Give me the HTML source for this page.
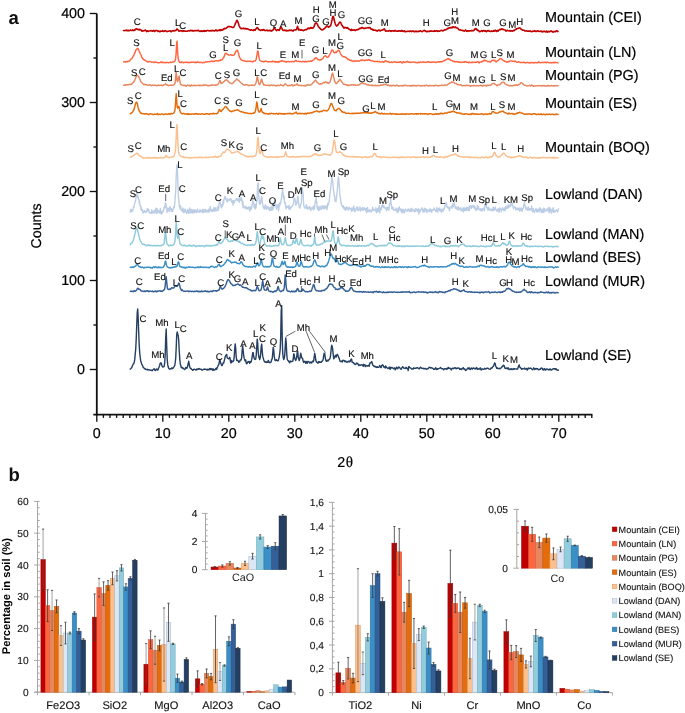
<!DOCTYPE html>
<html><head><meta charset="utf-8"><style>
html,body{margin:0;padding:0;background:#fff;}
svg{display:block;will-change:transform;}
text{text-rendering:geometricPrecision;}
</style></head><body>
<svg width="685" height="713" viewBox="0 0 685 713">
<rect width="685" height="713" fill="#fff"/>
<g stroke="#111" stroke-width="1.35" fill="none" shape-rendering="geometricPrecision">
<line x1="96.8" y1="13.50" x2="96.8" y2="415.6" stroke-width="1.8"/>
<line x1="93.3" y1="414.6" x2="592.40" y2="414.6" stroke-width="1.7"/>
<line x1="89.80" y1="369.50" x2="96.8" y2="369.50"/>
<line x1="93.40" y1="325.00" x2="96.8" y2="325.00"/>
<line x1="89.80" y1="280.50" x2="96.8" y2="280.50"/>
<line x1="93.40" y1="236.00" x2="96.8" y2="236.00"/>
<line x1="89.80" y1="191.50" x2="96.8" y2="191.50"/>
<line x1="93.40" y1="147.00" x2="96.8" y2="147.00"/>
<line x1="89.80" y1="102.50" x2="96.8" y2="102.50"/>
<line x1="93.40" y1="58.00" x2="96.8" y2="58.00"/>
<line x1="89.80" y1="13.50" x2="96.8" y2="13.50"/>
<line x1="96.80" y1="414.6" x2="96.80" y2="421.80"/>
<line x1="103.40" y1="414.6" x2="103.40" y2="417.90"/>
<line x1="110.00" y1="414.6" x2="110.00" y2="417.90"/>
<line x1="116.60" y1="414.6" x2="116.60" y2="417.90"/>
<line x1="123.20" y1="414.6" x2="123.20" y2="417.90"/>
<line x1="129.80" y1="414.6" x2="129.80" y2="417.90"/>
<line x1="136.40" y1="414.6" x2="136.40" y2="417.90"/>
<line x1="143.00" y1="414.6" x2="143.00" y2="417.90"/>
<line x1="149.60" y1="414.6" x2="149.60" y2="417.90"/>
<line x1="156.20" y1="414.6" x2="156.20" y2="417.90"/>
<line x1="162.80" y1="414.6" x2="162.80" y2="421.80"/>
<line x1="169.40" y1="414.6" x2="169.40" y2="417.90"/>
<line x1="176.00" y1="414.6" x2="176.00" y2="417.90"/>
<line x1="182.60" y1="414.6" x2="182.60" y2="417.90"/>
<line x1="189.20" y1="414.6" x2="189.20" y2="417.90"/>
<line x1="195.80" y1="414.6" x2="195.80" y2="417.90"/>
<line x1="202.40" y1="414.6" x2="202.40" y2="417.90"/>
<line x1="209.00" y1="414.6" x2="209.00" y2="417.90"/>
<line x1="215.60" y1="414.6" x2="215.60" y2="417.90"/>
<line x1="222.20" y1="414.6" x2="222.20" y2="417.90"/>
<line x1="228.80" y1="414.6" x2="228.80" y2="421.80"/>
<line x1="235.40" y1="414.6" x2="235.40" y2="417.90"/>
<line x1="242.00" y1="414.6" x2="242.00" y2="417.90"/>
<line x1="248.60" y1="414.6" x2="248.60" y2="417.90"/>
<line x1="255.20" y1="414.6" x2="255.20" y2="417.90"/>
<line x1="261.80" y1="414.6" x2="261.80" y2="417.90"/>
<line x1="268.40" y1="414.6" x2="268.40" y2="417.90"/>
<line x1="275.00" y1="414.6" x2="275.00" y2="417.90"/>
<line x1="281.60" y1="414.6" x2="281.60" y2="417.90"/>
<line x1="288.20" y1="414.6" x2="288.20" y2="417.90"/>
<line x1="294.80" y1="414.6" x2="294.80" y2="421.80"/>
<line x1="301.40" y1="414.6" x2="301.40" y2="417.90"/>
<line x1="308.00" y1="414.6" x2="308.00" y2="417.90"/>
<line x1="314.60" y1="414.6" x2="314.60" y2="417.90"/>
<line x1="321.20" y1="414.6" x2="321.20" y2="417.90"/>
<line x1="327.80" y1="414.6" x2="327.80" y2="417.90"/>
<line x1="334.40" y1="414.6" x2="334.40" y2="417.90"/>
<line x1="341.00" y1="414.6" x2="341.00" y2="417.90"/>
<line x1="347.60" y1="414.6" x2="347.60" y2="417.90"/>
<line x1="354.20" y1="414.6" x2="354.20" y2="417.90"/>
<line x1="360.80" y1="414.6" x2="360.80" y2="421.80"/>
<line x1="367.40" y1="414.6" x2="367.40" y2="417.90"/>
<line x1="374.00" y1="414.6" x2="374.00" y2="417.90"/>
<line x1="380.60" y1="414.6" x2="380.60" y2="417.90"/>
<line x1="387.20" y1="414.6" x2="387.20" y2="417.90"/>
<line x1="393.80" y1="414.6" x2="393.80" y2="417.90"/>
<line x1="400.40" y1="414.6" x2="400.40" y2="417.90"/>
<line x1="407.00" y1="414.6" x2="407.00" y2="417.90"/>
<line x1="413.60" y1="414.6" x2="413.60" y2="417.90"/>
<line x1="420.20" y1="414.6" x2="420.20" y2="417.90"/>
<line x1="426.80" y1="414.6" x2="426.80" y2="421.80"/>
<line x1="433.40" y1="414.6" x2="433.40" y2="417.90"/>
<line x1="440.00" y1="414.6" x2="440.00" y2="417.90"/>
<line x1="446.60" y1="414.6" x2="446.60" y2="417.90"/>
<line x1="453.20" y1="414.6" x2="453.20" y2="417.90"/>
<line x1="459.80" y1="414.6" x2="459.80" y2="417.90"/>
<line x1="466.40" y1="414.6" x2="466.40" y2="417.90"/>
<line x1="473.00" y1="414.6" x2="473.00" y2="417.90"/>
<line x1="479.60" y1="414.6" x2="479.60" y2="417.90"/>
<line x1="486.20" y1="414.6" x2="486.20" y2="417.90"/>
<line x1="492.80" y1="414.6" x2="492.80" y2="421.80"/>
<line x1="499.40" y1="414.6" x2="499.40" y2="417.90"/>
<line x1="506.00" y1="414.6" x2="506.00" y2="417.90"/>
<line x1="512.60" y1="414.6" x2="512.60" y2="417.90"/>
<line x1="519.20" y1="414.6" x2="519.20" y2="417.90"/>
<line x1="525.80" y1="414.6" x2="525.80" y2="417.90"/>
<line x1="532.40" y1="414.6" x2="532.40" y2="417.90"/>
<line x1="539.00" y1="414.6" x2="539.00" y2="417.90"/>
<line x1="545.60" y1="414.6" x2="545.60" y2="417.90"/>
<line x1="552.20" y1="414.6" x2="552.20" y2="417.90"/>
<line x1="558.80" y1="414.6" x2="558.80" y2="421.80"/>
<line x1="565.40" y1="414.6" x2="565.40" y2="417.90"/>
<line x1="572.00" y1="414.6" x2="572.00" y2="417.90"/>
<line x1="578.60" y1="414.6" x2="578.60" y2="417.90"/>
<line x1="585.20" y1="414.6" x2="585.20" y2="417.90"/>
<line x1="591.80" y1="414.6" x2="591.80" y2="417.90"/>
</g>
<g font-family="'Liberation Sans', sans-serif" font-size="14.3" fill="#000" stroke="#000" stroke-width="0.2">
<text x="85" y="374.40" text-anchor="end">0</text>
<text x="85" y="285.40" text-anchor="end">100</text>
<text x="85" y="196.40" text-anchor="end">200</text>
<text x="85" y="107.40" text-anchor="end">300</text>
<text x="85" y="18.40" text-anchor="end">400</text>
<text x="96.80" y="438.4" text-anchor="middle">0</text>
<text x="162.80" y="438.4" text-anchor="middle">10</text>
<text x="228.80" y="438.4" text-anchor="middle">20</text>
<text x="294.80" y="438.4" text-anchor="middle">30</text>
<text x="360.80" y="438.4" text-anchor="middle">40</text>
<text x="426.80" y="438.4" text-anchor="middle">50</text>
<text x="492.80" y="438.4" text-anchor="middle">60</text>
<text x="558.80" y="438.4" text-anchor="middle">70</text>
</g>
<text x="0" y="0" font-family="'Liberation Sans', sans-serif" font-size="14.2" fill="#000" stroke="#000" stroke-width="0.2" text-anchor="middle" transform="translate(41.4 226) rotate(-90)">Counts</text>
<text x="337.3" y="467" font-size="14.3" fill="#000" stroke="#000" stroke-width="0.2"><tspan font-family="'Liberation Sans', sans-serif">2</tspan><tspan font-family="'Liberation Serif', serif" font-size="15.2" dx="0.4">θ</tspan></text>
<text x="8.6" y="24" font-family="'Liberation Sans', sans-serif" font-weight="bold" font-size="18.5" fill="#111">a</text>
<text x="8.6" y="481" font-family="'Liberation Sans', sans-serif" font-weight="bold" font-size="18.5" fill="#111">b</text>
<polyline fill="none" stroke="#c00000" stroke-width="1.6" stroke-linejoin="round" points="123.1,31.04 123.6,30.52 124.1,30.56 124.6,30.63 125.1,30.33 125.6,30.50 126.1,30.44 126.6,30.07 127.1,30.80 127.6,30.77 128.1,30.38 128.6,30.48 129.1,30.67 129.6,30.46 130.1,30.32 130.6,30.05 131.1,30.54 131.6,30.51 132.1,30.35 132.6,29.94 133.1,30.63 133.6,30.23 134.1,30.00 134.6,30.44 135.1,29.70 135.6,29.04 136.1,29.02 136.6,28.64 137.1,29.45 137.6,29.25 138.1,29.29 138.6,29.81 139.1,29.38 139.6,29.87 140.1,29.45 140.6,29.81 141.1,30.02 141.6,30.94 142.1,31.15 142.6,30.65 143.1,30.86 143.6,30.71 144.1,30.82 144.6,30.42 145.1,30.04 145.6,30.12 146.1,30.94 146.6,31.56 147.1,31.02 147.6,30.82 148.1,31.43 148.6,31.07 149.1,30.94 149.6,30.96 150.1,30.85 150.6,30.70 151.1,30.48 151.6,30.98 152.1,31.02 152.6,31.29 153.1,30.79 153.6,30.33 154.1,30.92 154.6,31.48 155.1,30.92 155.6,30.61 156.1,30.49 156.6,30.58 157.1,30.77 157.6,30.73 158.1,31.40 158.6,31.06 159.1,31.16 159.6,31.61 160.1,31.61 160.6,31.11 161.1,31.19 161.6,31.29 162.1,30.92 162.6,30.52 163.1,31.20 163.6,31.40 164.1,31.18 164.6,30.77 165.1,30.88 165.6,30.82 166.1,30.99 166.6,31.53 167.1,31.65 167.6,31.38 168.1,31.29 168.6,31.28 169.1,31.06 169.6,30.95 170.1,30.79 170.6,31.10 171.1,31.77 171.6,31.40 172.1,30.91 172.6,30.74 173.1,30.68 173.6,31.02 174.1,30.95 174.6,30.45 175.1,30.76 175.6,30.45 176.1,30.35 176.6,29.24 177.1,29.06 177.6,29.33 178.1,30.10 178.6,30.76 179.1,31.17 179.6,31.02 180.1,30.56 180.6,30.90 181.1,30.93 181.6,30.77 182.1,30.84 182.6,31.44 183.1,30.90 183.6,30.72 184.1,31.12 184.6,31.05 185.1,31.01 185.6,31.25 186.1,31.20 186.6,31.18 187.1,31.32 187.6,31.08 188.1,30.77 188.6,30.77 189.1,30.79 189.6,30.92 190.1,30.51 190.6,30.31 191.1,30.77 191.6,30.41 192.1,30.27 192.6,30.89 193.1,30.78 193.6,31.02 194.1,30.73 194.6,30.47 195.1,30.44 195.6,30.67 196.1,30.76 196.6,30.63 197.1,30.68 197.6,30.42 198.1,30.70 198.6,30.34 199.1,30.78 199.6,31.19 200.1,31.41 200.6,31.41 201.1,30.57 201.6,31.11 202.1,31.38 202.6,31.21 203.1,30.67 203.6,31.06 204.1,31.37 204.6,30.54 205.1,30.97 205.6,31.17 206.1,30.72 206.6,30.89 207.1,30.46 207.6,30.42 208.1,30.50 208.6,30.79 209.1,30.83 209.6,31.00 210.1,30.52 210.6,30.70 211.1,31.06 211.6,30.87 212.1,30.37 212.6,30.78 213.1,30.60 213.6,30.77 214.1,30.85 214.6,31.04 215.1,30.60 215.6,29.92 216.1,30.06 216.6,30.66 217.1,30.56 217.6,30.84 218.1,30.56 218.6,30.27 219.1,30.60 219.6,30.00 220.1,29.69 220.6,30.57 221.1,29.68 221.6,30.14 222.1,30.24 222.6,29.75 223.1,29.14 223.6,29.51 224.1,28.71 224.6,28.40 225.1,28.52 225.6,28.62 226.1,28.26 226.6,27.97 227.1,27.30 227.6,26.94 228.1,26.46 228.6,26.54 229.1,26.74 229.6,26.58 230.1,26.79 230.6,26.66 231.1,26.80 231.6,27.15 232.1,27.29 232.6,27.53 233.1,27.46 233.6,27.52 234.1,26.49 234.6,25.50 235.1,24.22 235.6,23.19 236.1,21.95 236.6,20.50 237.1,20.41 237.6,21.38 238.1,22.53 238.6,23.98 239.1,25.75 239.6,26.70 240.1,27.59 240.6,28.41 241.1,28.70 241.6,28.41 242.1,28.40 242.6,28.63 243.1,28.41 243.6,28.00 244.1,28.76 244.6,28.62 245.1,28.67 245.6,28.36 246.1,29.01 246.6,28.78 247.1,28.88 247.6,28.76 248.1,29.22 248.6,29.44 249.1,29.62 249.6,29.90 250.1,29.98 250.6,30.22 251.1,29.85 251.6,29.70 252.1,30.05 252.6,30.38 253.1,30.59 253.6,30.31 254.1,29.57 254.6,30.06 255.1,30.28 255.6,29.54 256.1,28.78 256.6,28.21 257.1,27.47 257.6,27.83 258.1,28.49 258.6,29.55 259.1,29.80 259.6,29.75 260.1,30.28 260.6,30.47 261.1,30.09 261.6,29.96 262.1,29.63 262.6,30.44 263.1,30.10 263.6,29.56 264.1,29.69 264.6,30.28 265.1,30.65 265.6,30.49 266.1,30.51 266.6,30.05 267.1,30.02 267.6,30.69 268.1,30.68 268.6,30.58 269.1,30.80 269.6,30.22 270.1,30.33 270.6,30.86 271.1,31.07 271.6,30.62 272.1,30.81 272.6,30.15 273.1,29.96 273.6,29.08 274.1,27.58 274.6,27.58 275.1,28.86 275.6,29.56 276.1,30.10 276.6,30.58 277.1,29.90 277.6,29.72 278.1,29.91 278.6,29.90 279.1,30.43 279.6,29.79 280.1,28.38 280.6,26.96 281.1,27.08 281.6,27.69 282.1,28.93 282.6,30.01 283.1,30.46 283.6,30.41 284.1,30.09 284.6,30.10 285.1,30.63 285.6,30.46 286.1,30.13 286.6,30.89 287.1,30.90 287.6,30.56 288.1,30.52 288.6,30.62 289.1,30.32 289.6,30.16 290.1,30.52 290.6,30.20 291.1,30.53 291.6,30.16 292.1,30.45 292.6,30.65 293.1,31.04 293.6,30.22 294.1,29.93 294.6,30.06 295.1,29.90 295.6,29.92 296.1,29.87 296.6,29.10 297.1,27.56 297.6,26.32 298.1,28.65 298.6,29.97 299.1,29.81 299.6,29.44 300.1,30.13 300.6,30.22 301.1,29.67 301.6,30.25 302.1,30.27 302.6,30.14 303.1,30.54 303.6,30.61 304.1,30.15 304.6,30.14 305.1,29.80 305.6,29.63 306.1,29.76 306.6,29.70 307.1,29.05 307.6,28.40 308.1,28.75 308.6,28.09 309.1,28.34 309.6,28.66 310.1,28.02 310.6,27.49 311.1,27.53 311.6,28.30 312.1,28.13 312.6,28.13 313.1,27.96 313.6,27.22 314.1,26.38 314.6,25.17 315.1,23.59 315.6,23.12 316.1,23.06 316.6,23.13 317.1,23.85 317.6,24.71 318.1,25.87 318.6,26.96 319.1,27.34 319.6,27.97 320.1,28.24 320.6,29.22 321.1,29.35 321.6,29.62 322.1,30.01 322.6,29.84 323.1,29.42 323.6,29.29 324.1,28.51 324.6,28.55 325.1,27.96 325.6,26.97 326.1,27.00 326.6,26.12 327.1,26.13 327.6,26.11 328.1,26.87 328.6,27.27 329.1,26.75 329.6,26.38 330.1,26.37 330.6,25.74 331.1,23.94 331.6,21.87 332.1,19.67 332.6,16.80 333.1,16.31 333.6,17.15 334.1,19.55 334.6,21.53 335.1,23.28 335.6,24.77 336.1,25.37 336.6,26.00 337.1,25.77 337.6,25.31 338.1,24.56 338.6,24.04 339.1,22.92 339.6,22.36 340.1,22.15 340.6,22.31 341.1,23.55 341.6,24.64 342.1,25.56 342.6,26.15 343.1,26.77 343.6,27.62 344.1,28.12 344.6,27.40 345.1,27.53 345.6,27.41 346.1,27.78 346.6,28.02 347.1,28.26 347.6,27.61 348.1,28.38 348.6,28.80 349.1,29.28 349.6,29.38 350.1,29.63 350.6,30.26 351.1,30.52 351.6,29.35 352.1,29.92 352.6,30.29 353.1,30.23 353.6,30.04 354.1,29.71 354.6,29.86 355.1,30.40 355.6,30.50 356.1,30.07 356.6,29.67 357.1,29.76 357.6,29.61 358.1,29.62 358.6,29.28 359.1,28.83 359.6,28.69 360.1,28.18 360.6,28.49 361.1,28.36 361.6,27.60 362.1,27.78 362.6,27.60 363.1,28.23 363.6,28.37 364.1,28.22 364.6,28.54 365.1,28.23 365.6,28.08 366.1,28.06 366.6,28.07 367.1,27.92 367.6,27.82 368.1,27.54 368.6,27.86 369.1,27.96 369.6,27.59 370.1,27.61 370.6,28.59 371.1,29.13 371.6,29.01 372.1,28.98 372.6,29.75 373.1,30.25 373.6,29.61 374.1,30.22 374.6,30.22 375.1,30.18 375.6,30.53 376.1,30.23 376.6,30.73 377.1,31.12 377.6,30.79 378.1,30.34 378.6,30.04 379.1,30.12 379.6,30.21 380.1,31.14 380.6,30.73 381.1,30.31 381.6,30.14 382.1,30.13 382.6,30.05 383.1,29.54 383.6,29.63 384.1,28.84 384.6,29.23 385.1,30.25 385.6,31.07 386.1,31.20 386.6,30.77 387.1,30.94 387.6,31.02 388.1,31.14 388.6,31.02 389.1,30.62 389.6,30.55 390.1,30.90 390.6,30.75 391.1,31.38 391.6,31.07 392.1,30.70 392.6,30.84 393.1,30.86 393.6,31.05 394.1,31.25 394.6,30.55 395.1,30.41 395.6,31.05 396.1,31.06 396.6,31.15 397.1,31.23 397.6,31.12 398.1,31.27 398.6,30.88 399.1,31.01 399.6,30.77 400.1,30.74 400.6,31.27 401.1,31.20 401.6,30.46 402.1,30.65 402.6,31.21 403.1,31.43 403.6,30.97 404.1,30.92 404.6,30.84 405.1,31.85 405.6,31.51 406.1,31.49 406.6,31.46 407.1,31.51 407.6,31.37 408.1,31.12 408.6,31.35 409.1,31.30 409.6,31.50 410.1,30.96 410.6,30.96 411.1,31.40 411.6,31.60 412.1,31.23 412.6,30.92 413.1,31.03 413.6,31.11 414.1,31.77 414.6,31.64 415.1,31.63 415.6,31.29 416.1,31.07 416.6,31.59 417.1,31.79 417.6,31.44 418.1,31.25 418.6,31.46 419.1,31.16 419.6,31.32 420.1,30.91 420.6,30.83 421.1,31.28 421.6,31.42 422.1,31.75 422.6,31.19 423.1,31.06 423.6,30.66 424.1,30.36 424.6,30.49 425.1,31.09 425.6,30.88 426.1,31.51 426.6,31.64 427.1,31.25 427.6,31.65 428.1,31.39 428.6,31.48 429.1,31.19 429.6,31.34 430.1,30.93 430.6,31.21 431.1,31.00 431.6,31.07 432.1,31.30 432.6,31.18 433.1,31.12 433.6,31.36 434.1,31.28 434.6,30.72 435.1,31.18 435.6,31.24 436.1,30.87 436.6,31.00 437.1,30.71 437.6,31.34 438.1,30.99 438.6,31.00 439.1,31.30 439.6,30.98 440.1,30.99 440.6,30.51 441.1,30.46 441.6,30.26 442.1,30.60 442.6,30.94 443.1,30.73 443.6,30.64 444.1,29.97 444.6,29.75 445.1,29.78 445.6,29.90 446.1,29.63 446.6,29.27 447.1,29.09 447.6,28.58 448.1,28.34 448.6,28.35 449.1,27.65 449.6,27.70 450.1,28.01 450.6,27.63 451.1,27.63 451.6,27.42 452.1,27.83 452.6,26.70 453.1,26.70 453.6,26.89 454.1,27.60 454.6,27.34 455.1,27.08 455.6,27.02 456.1,27.73 456.6,28.04 457.1,28.07 457.6,28.15 458.1,28.65 458.6,29.40 459.1,29.77 459.6,29.93 460.1,29.93 460.6,29.70 461.1,30.23 461.6,30.20 462.1,30.58 462.6,30.79 463.1,30.50 463.6,30.50 464.1,31.11 464.6,31.01 465.1,30.53 465.6,29.94 466.1,30.78 466.6,31.24 467.1,31.33 467.6,30.81 468.1,30.72 468.6,30.88 469.1,31.16 469.6,30.69 470.1,30.82 470.6,30.71 471.1,30.88 471.6,30.49 472.1,30.86 472.6,30.64 473.1,30.57 473.6,30.62 474.1,30.30 474.6,29.13 475.1,29.18 475.6,28.76 476.1,28.64 476.6,29.51 477.1,29.89 477.6,30.52 478.1,30.34 478.6,30.50 479.1,31.34 479.6,31.77 480.1,31.43 480.6,31.35 481.1,30.91 481.6,30.65 482.1,31.07 482.6,31.48 483.1,30.64 483.6,30.76 484.1,30.55 484.6,31.14 485.1,31.38 485.6,30.83 486.1,31.07 486.6,31.58 487.1,31.17 487.6,30.71 488.1,30.56 488.6,30.52 489.1,31.25 489.6,31.07 490.1,31.52 490.6,31.48 491.1,30.98 491.6,31.00 492.1,31.37 492.6,31.26 493.1,31.11 493.6,30.67 494.1,31.20 494.6,30.69 495.1,30.21 495.6,30.66 496.1,31.15 496.6,31.51 497.1,30.68 497.6,30.33 498.1,31.08 498.6,30.49 499.1,29.96 499.6,29.45 500.1,29.34 500.6,29.77 501.1,29.16 501.6,28.82 502.1,28.91 502.6,29.50 503.1,29.21 503.6,29.64 504.1,29.85 504.6,29.98 505.1,29.94 505.6,30.60 506.1,31.05 506.6,30.66 507.1,30.34 507.6,30.34 508.1,30.81 508.6,30.81 509.1,30.87 509.6,30.83 510.1,30.52 510.6,31.09 511.1,31.03 511.6,30.89 512.1,30.98 512.6,31.10 513.1,30.73 513.6,30.42 514.1,30.76 514.6,30.20 515.1,29.73 515.6,29.30 516.1,29.36 516.6,28.83 517.1,28.62 517.6,28.57 518.1,28.26 518.6,28.29 519.1,28.04 519.6,27.90 520.1,28.12 520.6,28.49 521.1,29.18 521.6,29.40 522.1,29.64 522.6,30.25 523.1,30.31 523.6,30.22 524.1,30.15 524.6,30.81 525.1,30.97 525.6,30.95 526.1,30.82 526.6,30.75 527.1,30.99 527.6,31.19 528.1,31.13 528.6,31.10 529.1,31.08 529.6,31.32 530.1,31.29 530.6,31.09 531.1,31.52 531.6,31.64 532.1,31.60 532.6,31.31 533.1,31.17 533.6,31.00 534.1,31.35 534.6,30.69 535.1,31.06 535.6,31.28 536.1,31.60 536.6,31.36 537.1,30.97 537.6,30.81 538.1,31.06 538.6,31.37 539.1,31.40 539.6,31.29 540.1,31.15 540.6,31.35 541.1,31.63 541.6,31.13 542.1,31.45 542.6,31.96 543.1,31.67 543.6,31.35 544.1,31.54 544.6,31.23 545.1,31.48 545.6,32.04 546.1,32.01 546.6,31.07 547.1,31.67 547.6,32.06 548.1,31.41 548.6,31.58 549.1,31.90 549.6,31.42 550.1,31.55 550.6,31.33 551.1,30.86 551.6,31.42 552.1,31.48 552.6,31.87 553.1,32.22 553.6,31.79 554.1,31.42 554.6,31.59 555.1,31.62 555.6,31.70 556.1,31.00 556.6,30.86 557.1,30.78 557.6,31.52 558.1,31.46 558.6,31.27"/>
<polyline fill="none" stroke="#ff6640" stroke-width="1.45" stroke-linejoin="round" points="123.1,61.91 123.6,61.84 124.1,61.74 124.6,61.81 125.1,61.83 125.6,62.16 126.1,61.85 126.6,61.43 127.1,61.42 127.6,61.70 128.1,61.45 128.6,61.22 129.1,61.15 129.6,60.97 130.1,60.04 130.6,59.58 131.1,59.01 131.6,58.91 132.1,58.15 132.6,57.27 133.1,56.43 133.6,55.75 134.1,54.50 134.6,53.28 135.1,52.36 135.6,50.69 136.1,49.65 136.6,49.60 137.1,48.60 137.6,48.34 138.1,48.71 138.6,49.65 139.1,50.93 139.6,52.13 140.1,53.25 140.6,54.16 141.1,55.02 141.6,56.47 142.1,57.74 142.6,58.41 143.1,58.80 143.6,59.48 144.1,59.73 144.6,60.08 145.1,60.18 145.6,60.63 146.1,61.00 146.6,61.17 147.1,61.60 147.6,62.02 148.1,61.96 148.6,61.60 149.1,61.50 149.6,61.55 150.1,61.59 150.6,61.89 151.1,62.08 151.6,62.08 152.1,62.11 152.6,62.12 153.1,62.05 153.6,62.05 154.1,62.61 154.6,62.49 155.1,62.00 155.6,61.94 156.1,62.07 156.6,62.32 157.1,62.65 157.6,62.67 158.1,62.69 158.6,62.71 159.1,62.70 159.6,62.61 160.1,62.50 160.6,62.27 161.1,61.93 161.6,62.35 162.1,62.79 162.6,62.32 163.1,62.26 163.6,62.61 164.1,62.44 164.6,62.37 165.1,62.79 165.6,62.67 166.1,62.59 166.6,62.32 167.1,62.50 167.6,62.55 168.1,62.65 168.6,62.75 169.1,62.71 169.6,62.48 170.1,62.45 170.6,62.09 171.1,62.41 171.6,62.42 172.1,62.09 172.6,61.90 173.1,61.90 173.6,61.59 174.1,61.68 174.6,61.31 175.1,60.34 175.6,58.77 176.1,53.80 176.6,43.22 177.1,41.16 177.6,51.71 178.1,57.98 178.6,60.24 179.1,61.41 179.6,62.26 180.1,62.38 180.6,62.52 181.1,62.42 181.6,61.83 182.1,62.06 182.6,62.21 183.1,62.66 183.6,62.76 184.1,62.26 184.6,62.35 185.1,62.47 185.6,62.24 186.1,62.16 186.6,62.23 187.1,62.52 187.6,62.27 188.1,62.62 188.6,62.51 189.1,62.66 189.6,62.77 190.1,62.27 190.6,62.18 191.1,62.40 191.6,62.12 192.1,62.15 192.6,62.32 193.1,62.35 193.6,62.06 194.1,62.24 194.6,62.56 195.1,62.62 195.6,62.02 196.1,62.62 196.6,62.58 197.1,62.05 197.6,61.94 198.1,62.33 198.6,62.25 199.1,62.37 199.6,62.51 200.1,62.26 200.6,62.33 201.1,62.45 201.6,62.60 202.1,62.81 202.6,62.75 203.1,62.35 203.6,62.28 204.1,62.78 204.6,62.47 205.1,62.22 205.6,61.92 206.1,62.19 206.6,61.90 207.1,61.82 207.6,61.63 208.1,61.78 208.6,61.85 209.1,61.49 209.6,61.55 210.1,61.67 210.6,61.37 211.1,61.27 211.6,61.28 212.1,61.20 212.6,61.51 213.1,61.24 213.6,61.52 214.1,61.46 214.6,60.95 215.1,61.04 215.6,60.88 216.1,60.67 216.6,60.78 217.1,60.84 217.6,61.03 218.1,60.99 218.6,60.45 219.1,60.48 219.6,60.67 220.1,60.56 220.6,59.75 221.1,60.19 221.6,59.86 222.1,59.75 222.6,58.86 223.1,58.08 223.6,57.50 224.1,56.74 224.6,55.25 225.1,53.70 225.6,53.56 226.1,53.18 226.6,53.64 227.1,54.11 227.6,54.38 228.1,54.76 228.6,54.97 229.1,55.08 229.6,55.15 230.1,54.95 230.6,54.65 231.1,54.92 231.6,55.27 232.1,55.30 232.6,55.14 233.1,55.20 233.6,55.18 234.1,55.02 234.6,54.46 235.1,53.13 235.6,52.01 236.1,51.24 236.6,50.45 237.1,50.22 237.6,50.40 238.1,52.24 238.6,53.60 239.1,55.97 239.6,57.30 240.1,58.23 240.6,58.98 241.1,59.77 241.6,59.91 242.1,60.42 242.6,60.59 243.1,60.71 243.6,60.86 244.1,60.84 244.6,60.73 245.1,61.20 245.6,61.33 246.1,61.23 246.6,61.47 247.1,61.49 247.6,61.07 248.1,61.25 248.6,61.24 249.1,61.20 249.6,61.43 250.1,61.24 250.6,61.33 251.1,61.52 251.6,61.57 252.1,61.65 252.6,61.95 253.1,61.37 253.6,61.26 254.1,60.93 254.6,61.15 255.1,61.14 255.6,60.60 256.1,59.15 256.6,57.21 257.1,54.29 257.6,50.89 258.1,51.45 258.6,54.63 259.1,58.13 259.6,59.92 260.1,60.59 260.6,60.73 261.1,61.08 261.6,61.35 262.1,61.49 262.6,61.48 263.1,61.51 263.6,61.71 264.1,61.89 264.6,61.18 265.1,61.17 265.6,61.22 266.1,61.38 266.6,61.30 267.1,61.79 267.6,61.79 268.1,61.67 268.6,61.59 269.1,61.78 269.6,61.84 270.1,61.83 270.6,61.65 271.1,61.82 271.6,61.52 272.1,61.85 272.6,61.06 273.1,61.41 273.6,61.49 274.1,61.83 274.6,61.54 275.1,62.06 275.6,61.59 276.1,62.20 276.6,61.97 277.1,61.80 277.6,61.96 278.1,62.33 278.6,61.93 279.1,61.25 279.6,61.84 280.1,61.61 280.6,61.08 281.1,61.21 281.6,60.59 282.1,60.70 282.6,60.99 283.1,61.16 283.6,61.54 284.1,61.37 284.6,61.59 285.1,61.51 285.6,61.69 286.1,62.13 286.6,61.74 287.1,61.40 287.6,61.54 288.1,61.47 288.6,61.63 289.1,61.70 289.6,61.68 290.1,61.64 290.6,61.53 291.1,61.76 291.6,61.86 292.1,61.50 292.6,61.54 293.1,61.64 293.6,61.89 294.1,61.75 294.6,61.21 295.1,61.01 295.6,60.41 296.1,60.39 296.6,60.90 297.1,61.38 297.6,61.59 298.1,61.32 298.6,61.13 299.1,61.48 299.6,61.47 300.1,61.57 300.6,61.57 301.1,61.69 301.6,61.71 302.1,61.68 302.6,61.44 303.1,61.64 303.6,61.38 304.1,61.52 304.6,61.90 305.1,61.53 305.6,61.21 306.1,61.73 306.6,61.74 307.1,61.68 307.6,61.44 308.1,61.37 308.6,61.18 309.1,61.11 309.6,61.49 310.1,61.08 310.6,60.89 311.1,60.92 311.6,61.30 312.1,60.95 312.6,60.38 313.1,60.12 313.6,59.91 314.1,59.44 314.6,58.48 315.1,58.43 315.6,57.93 316.1,57.71 316.6,58.03 317.1,58.77 317.6,59.41 318.1,59.47 318.6,59.72 319.1,59.68 319.6,60.07 320.1,60.14 320.6,59.60 321.1,59.66 321.6,59.67 322.1,58.85 322.6,58.64 323.1,58.22 323.6,57.06 324.1,56.52 324.6,56.11 325.1,55.93 325.6,55.67 326.1,56.45 326.6,56.81 327.1,57.27 327.6,57.37 328.1,57.08 328.6,56.64 329.1,55.57 329.6,54.76 330.1,53.83 330.6,52.81 331.1,51.72 331.6,50.21 332.1,50.06 332.6,50.19 333.1,50.82 333.6,52.04 334.1,52.36 334.6,52.88 335.1,52.83 335.6,52.20 336.1,51.89 336.6,52.36 337.1,51.49 337.6,50.75 338.1,50.64 338.6,50.33 339.1,50.41 339.6,51.31 340.1,52.56 340.6,53.72 341.1,54.80 341.6,55.32 342.1,55.86 342.6,56.44 343.1,56.67 343.6,56.90 344.1,56.71 344.6,56.75 345.1,56.84 345.6,57.58 346.1,57.48 346.6,58.09 347.1,58.40 347.6,59.07 348.1,59.47 348.6,59.30 349.1,59.72 349.6,59.81 350.1,60.60 350.6,60.41 351.1,60.20 351.6,60.57 352.1,61.20 352.6,61.40 353.1,61.30 353.6,60.87 354.1,61.04 354.6,61.41 355.1,60.95 355.6,60.89 356.1,60.74 356.6,60.76 357.1,61.26 357.6,61.18 358.1,61.05 358.6,61.01 359.1,61.06 359.6,61.01 360.1,60.54 360.6,60.24 361.1,60.07 361.6,60.41 362.1,60.05 362.6,59.81 363.1,60.12 363.6,60.36 364.1,60.64 364.6,60.68 365.1,60.28 365.6,60.19 366.1,60.22 366.6,60.01 367.1,60.17 367.6,60.24 368.1,59.99 368.6,59.54 369.1,59.70 369.6,60.30 370.1,60.11 370.6,60.60 371.1,60.81 371.6,60.73 372.1,60.75 372.6,61.10 373.1,61.07 373.6,61.31 374.1,61.46 374.6,61.37 375.1,61.50 375.6,61.50 376.1,61.36 376.6,61.58 377.1,61.49 377.6,61.28 378.1,61.60 378.6,61.69 379.1,61.55 379.6,61.34 380.1,61.97 380.6,62.10 381.1,62.08 381.6,61.92 382.1,61.59 382.6,61.78 383.1,61.75 383.6,62.29 384.1,61.80 384.6,61.70 385.1,61.01 385.6,60.72 386.1,60.85 386.6,61.43 387.1,61.74 387.6,61.75 388.1,61.48 388.6,62.05 389.1,61.86 389.6,62.41 390.1,62.57 390.6,62.35 391.1,62.22 391.6,61.89 392.1,62.60 392.6,62.27 393.1,62.25 393.6,61.88 394.1,61.92 394.6,61.74 395.1,61.93 395.6,62.06 396.1,62.20 396.6,62.45 397.1,62.28 397.6,62.16 398.1,62.21 398.6,62.55 399.1,62.11 399.6,62.25 400.1,61.63 400.6,61.80 401.1,62.15 401.6,62.24 402.1,62.97 402.6,62.82 403.1,61.82 403.6,61.76 404.1,62.12 404.6,62.60 405.1,62.51 405.6,62.19 406.1,61.75 406.6,61.71 407.1,61.35 407.6,61.64 408.1,62.20 408.6,62.29 409.1,61.87 409.6,62.19 410.1,62.56 410.6,62.26 411.1,62.11 411.6,62.31 412.1,62.32 412.6,62.17 413.1,62.01 413.6,62.03 414.1,62.13 414.6,62.10 415.1,62.51 415.6,62.51 416.1,62.58 416.6,62.80 417.1,62.74 417.6,62.62 418.1,62.32 418.6,62.26 419.1,62.69 419.6,62.10 420.1,61.94 420.6,61.94 421.1,62.20 421.6,62.34 422.1,62.44 422.6,62.08 423.1,61.76 423.6,62.22 424.1,62.43 424.6,62.23 425.1,62.18 425.6,62.38 426.1,62.55 426.6,62.16 427.1,61.79 427.6,61.95 428.1,62.01 428.6,61.76 429.1,62.22 429.6,62.05 430.1,62.26 430.6,62.22 431.1,62.18 431.6,62.51 432.1,62.06 432.6,61.97 433.1,62.22 433.6,62.36 434.1,62.12 434.6,61.92 435.1,62.26 435.6,62.40 436.1,62.62 436.6,62.14 437.1,62.08 437.6,61.84 438.1,61.64 438.6,61.99 439.1,62.14 439.6,61.70 440.1,61.62 440.6,61.60 441.1,62.02 441.6,61.66 442.1,61.68 442.6,61.32 443.1,61.29 443.6,60.91 444.1,60.38 444.6,60.67 445.1,60.50 445.6,59.70 446.1,59.71 446.6,59.41 447.1,59.02 447.6,58.89 448.1,58.53 448.6,59.04 449.1,59.39 449.6,59.12 450.1,59.65 450.6,60.31 451.1,60.34 451.6,60.39 452.1,60.57 452.6,61.03 453.1,61.26 453.6,61.48 454.1,61.27 454.6,61.83 455.1,61.76 455.6,61.94 456.1,61.69 456.6,61.57 457.1,61.74 457.6,61.75 458.1,61.96 458.6,62.28 459.1,62.42 459.6,62.21 460.1,62.00 460.6,62.05 461.1,62.35 461.6,62.48 462.1,62.17 462.6,62.12 463.1,62.03 463.6,62.28 464.1,62.32 464.6,61.59 465.1,62.12 465.6,62.00 466.1,61.67 466.6,62.20 467.1,62.27 467.6,62.27 468.1,62.06 468.6,62.72 469.1,62.39 469.6,62.27 470.1,62.66 470.6,62.55 471.1,62.57 471.6,62.49 472.1,61.91 472.6,62.54 473.1,62.28 473.6,62.35 474.1,62.45 474.6,62.13 475.1,62.32 475.6,62.43 476.1,62.27 476.6,62.24 477.1,61.76 477.6,61.73 478.1,61.81 478.6,62.33 479.1,63.01 479.6,62.25 480.1,61.90 480.6,61.86 481.1,62.00 481.6,61.76 482.1,61.25 482.6,61.46 483.1,61.18 483.6,61.02 484.1,60.26 484.6,60.26 485.1,60.68 485.6,60.39 486.1,60.92 486.6,61.16 487.1,61.27 487.6,61.44 488.1,61.54 488.6,61.61 489.1,61.46 489.6,61.64 490.1,62.21 490.6,61.75 491.1,61.30 491.6,60.88 492.1,60.35 492.6,60.28 493.1,60.20 493.6,60.50 494.1,60.28 494.6,60.19 495.1,60.85 495.6,61.50 496.1,62.00 496.6,61.62 497.1,60.98 497.6,60.83 498.1,60.43 498.6,60.14 499.1,59.48 499.6,58.84 500.1,58.81 500.6,58.52 501.1,58.42 501.6,58.90 502.1,59.72 502.6,59.86 503.1,60.23 503.6,60.82 504.1,60.75 504.6,61.40 505.1,61.34 505.6,61.43 506.1,61.82 506.6,62.17 507.1,61.75 507.6,61.99 508.1,61.80 508.6,61.39 509.1,61.67 509.6,61.22 510.1,60.87 510.6,60.88 511.1,60.89 511.6,61.08 512.1,60.93 512.6,61.40 513.1,61.27 513.6,61.12 514.1,61.25 514.6,61.54 515.1,61.18 515.6,61.22 516.1,61.71 516.6,62.22 517.1,62.25 517.6,62.23 518.1,62.11 518.6,61.75 519.1,62.05 519.6,61.96 520.1,62.50 520.6,62.44 521.1,62.42 521.6,62.54 522.1,62.56 522.6,62.55 523.1,62.53 523.6,62.28 524.1,62.14 524.6,62.58 525.1,62.92 525.6,62.81 526.1,62.54 526.6,62.63 527.1,62.46 527.6,62.56 528.1,62.40 528.6,62.64 529.1,63.07 529.6,62.91 530.1,62.91 530.6,62.40 531.1,62.34 531.6,62.54 532.1,62.68 532.6,62.59 533.1,62.77 533.6,62.56 534.1,62.92 534.6,62.82 535.1,62.38 535.6,62.65 536.1,62.61 536.6,62.79 537.1,62.52 537.6,62.67 538.1,62.60 538.6,61.85 539.1,62.00 539.6,62.53 540.1,62.63 540.6,62.86 541.1,62.65 541.6,62.33 542.1,62.59 542.6,62.43 543.1,62.49 543.6,62.50 544.1,62.60 544.6,62.23 545.1,62.16 545.6,62.13 546.1,62.98 546.6,62.45 547.1,62.31 547.6,62.27 548.1,62.39 548.6,62.53 549.1,62.78 549.6,62.73 550.1,62.70 550.6,62.51 551.1,62.66 551.6,62.94 552.1,62.73 552.6,62.62 553.1,62.20 553.6,62.69 554.1,62.82 554.6,62.85 555.1,62.06 555.6,62.52 556.1,62.64 556.6,62.65 557.1,62.53 557.6,62.72 558.1,62.86 558.6,62.72"/>
<polyline fill="none" stroke="#e8875e" stroke-width="1.45" stroke-linejoin="round" points="123.1,85.22 123.6,85.19 124.1,85.15 124.6,85.18 125.1,84.93 125.6,84.72 126.1,85.27 126.6,84.73 127.1,84.86 127.6,84.66 128.1,84.75 128.6,84.62 129.1,84.68 129.6,84.41 130.1,84.22 130.6,84.49 131.1,84.57 131.6,84.12 132.1,83.62 132.6,82.95 133.1,82.62 133.6,82.09 134.1,81.13 134.6,80.46 135.1,79.27 135.6,78.14 136.1,76.85 136.6,75.91 137.1,75.53 137.6,75.55 138.1,75.95 138.6,76.50 139.1,77.62 139.6,78.85 140.1,79.67 140.6,81.21 141.1,82.00 141.6,82.54 142.1,82.97 142.6,83.69 143.1,83.96 143.6,84.62 144.1,84.48 144.6,84.22 145.1,84.72 145.6,84.64 146.1,84.67 146.6,84.82 147.1,84.94 147.6,85.12 148.1,85.29 148.6,85.22 149.1,84.92 149.6,84.76 150.1,84.95 150.6,85.32 151.1,85.57 151.6,85.68 152.1,85.05 152.6,85.23 153.1,85.24 153.6,85.22 154.1,85.34 154.6,85.28 155.1,85.24 155.6,85.21 156.1,85.49 156.6,85.74 157.1,85.81 157.6,85.29 158.1,85.09 158.6,85.23 159.1,85.24 159.6,85.57 160.1,85.26 160.6,85.31 161.1,85.06 161.6,85.25 162.1,85.50 162.6,85.73 163.1,85.29 163.6,85.27 164.1,84.70 164.6,84.61 165.1,84.29 165.6,83.86 166.1,84.43 166.6,84.99 167.1,84.85 167.6,85.27 168.1,85.17 168.6,85.74 169.1,85.52 169.6,85.38 170.1,85.28 170.6,85.28 171.1,85.23 171.6,85.10 172.1,85.34 172.6,85.25 173.1,85.19 173.6,84.88 174.1,84.65 174.6,83.97 175.1,83.12 175.6,78.00 176.1,72.09 176.6,75.44 177.1,80.62 177.6,81.65 178.1,80.16 178.6,77.20 179.1,75.97 179.6,79.16 180.1,82.37 180.6,84.20 181.1,84.83 181.6,84.77 182.1,85.16 182.6,85.44 183.1,85.58 183.6,85.25 184.1,85.14 184.6,85.55 185.1,85.74 185.6,85.43 186.1,85.93 186.6,85.91 187.1,85.36 187.6,84.99 188.1,85.18 188.6,85.35 189.1,85.46 189.6,85.19 190.1,86.08 190.6,86.11 191.1,85.30 191.6,84.95 192.1,85.34 192.6,85.63 193.1,85.85 193.6,85.70 194.1,85.35 194.6,85.00 195.1,85.53 195.6,85.68 196.1,85.44 196.6,85.52 197.1,85.51 197.6,85.35 198.1,85.18 198.6,85.41 199.1,85.20 199.6,85.67 200.1,85.33 200.6,85.48 201.1,85.31 201.6,85.49 202.1,85.44 202.6,85.52 203.1,85.18 203.6,84.97 204.1,85.25 204.6,85.24 205.1,84.99 205.6,85.08 206.1,84.97 206.6,85.32 207.1,85.31 207.6,85.51 208.1,86.03 208.6,85.57 209.1,85.49 209.6,85.52 210.1,85.31 210.6,85.22 211.1,85.55 211.6,85.44 212.1,84.61 212.6,85.05 213.1,85.12 213.6,85.13 214.1,85.44 214.6,85.13 215.1,85.27 215.6,84.96 216.1,84.92 216.6,85.05 217.1,84.67 217.6,84.53 218.1,84.04 218.6,83.48 219.1,82.57 219.6,80.87 220.1,80.54 220.6,82.05 221.1,83.64 221.6,83.23 222.1,82.92 222.6,82.85 223.1,82.19 223.6,81.77 224.1,81.53 224.6,80.99 225.1,80.28 225.6,80.18 226.1,79.80 226.6,79.87 227.1,80.28 227.6,80.77 228.1,81.49 228.6,81.94 229.1,82.17 229.6,82.69 230.1,82.85 230.6,83.02 231.1,83.29 231.6,83.55 232.1,83.39 232.6,83.41 233.1,83.14 233.6,82.34 234.1,81.60 234.6,81.00 235.1,80.65 235.6,80.26 236.1,79.77 236.6,78.86 237.1,79.20 237.6,79.66 238.1,80.37 238.6,80.52 239.1,80.96 239.6,81.30 240.1,82.00 240.6,82.51 241.1,82.98 241.6,83.35 242.1,83.58 242.6,84.17 243.1,84.57 243.6,84.79 244.1,84.78 244.6,85.11 245.1,85.12 245.6,84.61 246.1,84.78 246.6,84.66 247.1,84.77 247.6,85.09 248.1,85.18 248.6,85.60 249.1,85.76 249.6,85.37 250.1,85.15 250.6,85.14 251.1,85.20 251.6,85.28 252.1,85.05 252.6,85.24 253.1,85.14 253.6,85.38 254.1,85.46 254.6,85.34 255.1,84.60 255.6,83.71 256.1,82.45 256.6,80.20 257.1,76.80 257.6,77.23 258.1,80.74 258.6,82.88 259.1,84.19 259.6,84.66 260.1,83.92 260.6,82.75 261.1,80.25 261.6,78.91 262.1,80.48 262.6,82.58 263.1,83.79 263.6,84.96 264.1,84.61 264.6,84.73 265.1,85.15 265.6,85.34 266.1,85.39 266.6,85.33 267.1,85.18 267.6,85.53 268.1,85.40 268.6,85.14 269.1,85.71 269.6,85.47 270.1,85.57 270.6,85.07 271.1,85.05 271.6,85.21 272.1,85.31 272.6,85.58 273.1,85.13 273.6,85.37 274.1,85.25 274.6,85.55 275.1,85.52 275.6,85.46 276.1,85.99 276.6,85.64 277.1,85.67 277.6,85.20 278.1,85.38 278.6,85.49 279.1,85.49 279.6,85.34 280.1,85.08 280.6,84.62 281.1,85.09 281.6,85.16 282.1,85.34 282.6,85.69 283.1,85.93 283.6,85.48 284.1,85.16 284.6,84.44 285.1,83.76 285.6,84.04 286.1,84.57 286.6,85.00 287.1,85.43 287.6,85.85 288.1,85.76 288.6,85.78 289.1,85.21 289.6,85.46 290.1,85.58 290.6,85.52 291.1,85.04 291.6,84.81 292.1,84.81 292.6,85.35 293.1,86.00 293.6,85.53 294.1,85.13 294.6,85.37 295.1,85.26 295.6,85.16 296.1,84.66 296.6,83.91 297.1,83.86 297.6,84.67 298.1,85.15 298.6,85.47 299.1,85.16 299.6,85.55 300.1,85.45 300.6,85.49 301.1,85.69 301.6,85.43 302.1,85.47 302.6,85.58 303.1,85.60 303.6,85.66 304.1,85.74 304.6,85.51 305.1,85.37 305.6,85.88 306.1,85.42 306.6,85.31 307.1,84.95 307.6,84.58 308.1,84.85 308.6,85.11 309.1,85.18 309.6,85.04 310.1,85.10 310.6,85.05 311.1,84.81 311.6,84.30 312.1,83.90 312.6,83.34 313.1,82.72 313.6,82.45 314.1,81.29 314.6,80.85 315.1,80.49 315.6,80.10 316.1,81.00 316.6,81.51 317.1,82.20 317.6,82.62 318.1,82.86 318.6,83.57 319.1,83.93 319.6,84.25 320.1,84.10 320.6,83.65 321.1,84.09 321.6,83.99 322.1,83.72 322.6,83.31 323.1,82.76 323.6,82.63 324.1,82.37 324.6,82.76 325.1,82.05 325.6,81.78 326.1,82.19 326.6,82.79 327.1,82.53 327.6,82.37 328.1,83.30 328.6,83.20 329.1,82.86 329.6,82.63 330.1,81.49 330.6,80.12 331.1,78.58 331.6,75.93 332.1,73.83 332.6,73.14 333.1,74.76 333.6,77.00 334.1,78.91 334.6,81.15 335.1,82.21 335.6,83.07 336.1,83.29 336.6,83.49 337.1,82.82 337.6,81.96 338.1,81.70 338.6,81.15 339.1,80.14 339.6,79.52 340.1,79.77 340.6,80.00 341.1,81.01 341.6,81.73 342.1,82.18 342.6,82.96 343.1,83.71 343.6,84.23 344.1,84.23 344.6,84.24 345.1,84.47 345.6,84.69 346.1,84.72 346.6,84.96 347.1,85.54 347.6,85.26 348.1,84.98 348.6,85.23 349.1,85.63 349.6,85.47 350.1,85.18 350.6,84.82 351.1,84.75 351.6,85.08 352.1,85.12 352.6,84.77 353.1,84.82 353.6,85.02 354.1,84.56 354.6,84.63 355.1,85.06 355.6,85.24 356.1,85.19 356.6,85.31 357.1,85.36 357.6,85.07 358.1,84.76 358.6,85.13 359.1,84.96 359.6,84.50 360.1,83.92 360.6,83.81 361.1,83.18 361.6,83.21 362.1,82.76 362.6,83.15 363.1,83.55 363.6,83.51 364.1,83.86 364.6,83.70 365.1,83.79 365.6,83.93 366.1,84.27 366.6,84.41 367.1,84.87 367.6,85.12 368.1,84.89 368.6,84.66 369.1,85.14 369.6,85.47 370.1,85.39 370.6,85.36 371.1,85.57 371.6,85.53 372.1,84.84 372.6,85.63 373.1,85.68 373.6,85.53 374.1,85.32 374.6,85.49 375.1,85.53 375.6,85.16 376.1,85.57 376.6,85.60 377.1,85.87 377.6,85.71 378.1,85.47 378.6,85.51 379.1,85.64 379.6,85.56 380.1,85.55 380.6,85.21 381.1,85.01 381.6,85.05 382.1,84.84 382.6,84.91 383.1,84.98 383.6,84.41 384.1,84.34 384.6,84.64 385.1,84.43 385.6,84.51 386.1,84.40 386.6,84.60 387.1,85.06 387.6,85.64 388.1,85.44 388.6,85.04 389.1,85.52 389.6,85.78 390.1,85.67 390.6,85.27 391.1,85.58 391.6,86.03 392.1,85.47 392.6,85.57 393.1,85.35 393.6,85.22 394.1,85.48 394.6,85.89 395.1,85.90 395.6,85.43 396.1,85.41 396.6,85.27 397.1,85.10 397.6,85.74 398.1,86.12 398.6,86.05 399.1,85.66 399.6,85.99 400.1,85.95 400.6,85.61 401.1,85.60 401.6,85.56 402.1,85.77 402.6,86.05 403.1,85.45 403.6,85.35 404.1,85.80 404.6,85.61 405.1,85.13 405.6,85.26 406.1,85.36 406.6,85.47 407.1,85.75 407.6,85.90 408.1,85.67 408.6,85.64 409.1,85.53 409.6,85.94 410.1,86.02 410.6,85.62 411.1,85.57 411.6,86.18 412.1,85.95 412.6,85.40 413.1,85.18 413.6,85.56 414.1,85.91 414.6,85.58 415.1,85.55 415.6,85.56 416.1,85.87 416.6,85.97 417.1,85.41 417.6,85.51 418.1,85.56 418.6,85.43 419.1,85.38 419.6,85.81 420.1,85.78 420.6,85.92 421.1,86.05 421.6,85.68 422.1,85.75 422.6,85.58 423.1,85.63 423.6,85.72 424.1,85.55 424.6,85.35 425.1,85.95 425.6,85.71 426.1,85.26 426.6,85.05 427.1,85.56 427.6,85.86 428.1,85.98 428.6,85.95 429.1,85.64 429.6,85.69 430.1,85.30 430.6,85.64 431.1,85.83 431.6,85.52 432.1,85.56 432.6,85.64 433.1,85.73 433.6,85.93 434.1,85.49 434.6,85.81 435.1,85.32 435.6,85.32 436.1,85.35 436.6,85.48 437.1,85.46 437.6,85.65 438.1,85.69 438.6,86.09 439.1,85.72 439.6,85.48 440.1,85.60 440.6,85.63 441.1,85.38 441.6,85.10 442.1,85.16 442.6,85.41 443.1,85.57 443.6,85.44 444.1,85.27 444.6,85.28 445.1,85.01 445.6,85.11 446.1,85.30 446.6,85.17 447.1,84.97 447.6,84.41 448.1,84.19 448.6,83.79 449.1,83.87 449.6,83.32 450.1,82.79 450.6,82.71 451.1,82.55 451.6,81.82 452.1,81.87 452.6,82.40 453.1,82.35 453.6,82.33 454.1,82.32 454.6,83.25 455.1,83.54 455.6,83.62 456.1,83.52 456.6,84.12 457.1,84.51 457.6,84.38 458.1,84.50 458.6,84.66 459.1,85.00 459.6,84.96 460.1,84.93 460.6,84.71 461.1,84.81 461.6,85.52 462.1,85.82 462.6,85.75 463.1,85.78 463.6,85.38 464.1,85.44 464.6,85.56 465.1,85.57 465.6,85.85 466.1,85.26 466.6,85.32 467.1,85.40 467.6,85.42 468.1,85.64 468.6,85.20 469.1,85.81 469.6,85.90 470.1,85.80 470.6,86.09 471.1,86.28 471.6,85.83 472.1,85.84 472.6,85.79 473.1,85.76 473.6,85.51 474.1,85.47 474.6,85.73 475.1,85.60 475.6,85.89 476.1,85.88 476.6,85.61 477.1,85.73 477.6,85.69 478.1,85.69 478.6,85.93 479.1,85.74 479.6,85.62 480.1,85.23 480.6,85.63 481.1,85.32 481.6,85.57 482.1,86.12 482.6,86.16 483.1,85.58 483.6,85.34 484.1,85.65 484.6,85.58 485.1,85.62 485.6,85.37 486.1,85.90 486.6,85.97 487.1,85.28 487.6,85.27 488.1,85.38 488.6,85.57 489.1,85.06 489.6,85.37 490.1,85.27 490.6,85.07 491.1,85.06 491.6,84.22 492.1,83.84 492.6,83.60 493.1,83.54 493.6,83.28 494.1,83.50 494.6,84.20 495.1,84.43 495.6,84.65 496.1,84.93 496.6,85.31 497.1,85.75 497.6,84.99 498.1,85.03 498.6,84.88 499.1,84.76 499.6,84.92 500.1,84.54 500.6,84.05 501.1,83.34 501.6,82.80 502.1,82.62 502.6,82.23 503.1,82.13 503.6,82.49 504.1,82.48 504.6,83.02 505.1,83.81 505.6,84.12 506.1,84.52 506.6,84.55 507.1,85.00 507.6,85.01 508.1,85.53 508.6,85.58 509.1,85.59 509.6,85.82 510.1,85.57 510.6,85.42 511.1,85.86 511.6,85.74 512.1,85.84 512.6,85.69 513.1,85.77 513.6,85.31 514.1,85.09 514.6,85.14 515.1,85.50 515.6,84.93 516.1,84.81 516.6,84.94 517.1,85.28 517.6,85.23 518.1,84.83 518.6,84.87 519.1,84.54 519.6,84.28 520.1,83.69 520.6,82.85 521.1,82.69 521.6,82.71 522.1,83.17 522.6,83.62 523.1,84.09 523.6,84.65 524.1,84.89 524.6,85.24 525.1,85.27 525.6,85.37 526.1,85.72 526.6,85.86 527.1,85.94 527.6,85.80 528.1,85.61 528.6,85.69 529.1,85.62 529.6,85.20 530.1,85.41 530.6,86.02 531.1,85.63 531.6,85.02 532.1,85.56 532.6,85.71 533.1,85.57 533.6,86.30 534.1,86.20 534.6,86.01 535.1,85.79 535.6,85.92 536.1,86.03 536.6,85.90 537.1,85.65 537.6,85.80 538.1,85.84 538.6,85.81 539.1,85.57 539.6,85.80 540.1,85.82 540.6,85.86 541.1,85.78 541.6,85.50 542.1,85.97 542.6,85.96 543.1,85.51 543.6,85.67 544.1,85.57 544.6,85.70 545.1,86.05 545.6,86.09 546.1,86.32 546.6,85.87 547.1,85.55 547.6,85.65 548.1,85.31 548.6,86.13 549.1,85.99 549.6,85.94 550.1,85.82 550.6,85.60 551.1,85.69 551.6,85.58 552.1,85.66 552.6,85.80 553.1,85.62 553.6,86.09 554.1,85.68 554.6,85.92 555.1,85.63 555.6,85.49 556.1,85.84 556.6,85.85 557.1,85.75 557.6,85.74 558.1,85.67 558.6,85.87"/>
<polyline fill="none" stroke="#e46c0a" stroke-width="1.45" stroke-linejoin="round" points="129.7,113.66 130.2,113.70 130.7,113.72 131.2,113.03 131.7,112.81 132.2,112.44 132.7,111.84 133.2,110.98 133.7,110.16 134.2,108.88 134.7,106.98 135.2,104.71 135.7,103.29 136.2,102.23 136.7,102.16 137.2,103.22 137.7,105.30 138.2,107.96 138.7,109.70 139.2,110.66 139.7,111.37 140.2,112.49 140.7,112.91 141.2,113.45 141.7,113.27 142.2,113.55 142.7,113.62 143.2,113.86 143.7,113.73 144.2,114.04 144.7,113.83 145.2,113.77 145.7,114.12 146.2,114.03 146.7,113.57 147.2,113.99 147.7,114.16 148.2,114.30 148.7,114.64 149.2,114.12 149.7,114.06 150.2,113.71 150.7,113.73 151.2,113.99 151.7,114.15 152.2,114.21 152.7,114.42 153.2,114.50 153.7,114.52 154.2,114.28 154.7,114.32 155.2,114.12 155.7,114.33 156.2,114.36 156.7,113.99 157.2,113.41 157.7,114.06 158.2,114.84 158.7,114.33 159.2,114.09 159.7,114.30 160.2,114.54 160.7,114.37 161.2,114.14 161.7,113.90 162.2,114.03 162.7,113.94 163.2,114.33 163.7,114.66 164.2,114.52 164.7,114.06 165.2,113.85 165.7,113.82 166.2,114.24 166.7,114.37 167.2,114.39 167.7,114.20 168.2,113.74 168.7,113.63 169.2,114.20 169.7,114.00 170.2,114.32 170.7,113.49 171.2,113.48 171.7,113.56 172.2,113.78 172.7,113.74 173.2,113.31 173.7,113.10 174.2,112.17 174.7,110.98 175.2,107.53 175.7,100.20 176.2,93.62 176.7,100.08 177.2,107.22 177.7,108.08 178.2,107.15 178.7,106.15 179.2,107.27 179.7,109.91 180.2,111.38 180.7,112.70 181.2,113.04 181.7,113.61 182.2,113.71 182.7,113.77 183.2,113.59 183.7,113.33 184.2,113.59 184.7,114.06 185.2,114.00 185.7,114.10 186.2,113.77 186.7,114.18 187.2,114.21 187.7,113.59 188.2,114.13 188.7,114.53 189.2,114.05 189.7,114.29 190.2,114.19 190.7,114.28 191.2,114.00 191.7,113.86 192.2,113.93 192.7,113.95 193.2,113.88 193.7,113.90 194.2,114.28 194.7,113.94 195.2,113.71 195.7,113.81 196.2,114.03 196.7,113.58 197.2,114.11 197.7,114.34 198.2,114.39 198.7,113.98 199.2,113.84 199.7,114.06 200.2,114.16 200.7,114.37 201.2,114.10 201.7,113.86 202.2,113.66 202.7,113.90 203.2,114.08 203.7,114.30 204.2,114.16 204.7,114.39 205.2,114.31 205.7,113.79 206.2,113.61 206.7,113.72 207.2,113.81 207.7,113.75 208.2,114.08 208.7,114.17 209.2,114.23 209.7,113.98 210.2,113.78 210.7,113.86 211.2,113.62 211.7,113.74 212.2,113.65 212.7,113.84 213.2,113.16 213.7,113.79 214.2,113.89 214.7,113.64 215.2,113.62 215.7,113.60 216.2,113.79 216.7,113.74 217.2,113.28 217.7,113.19 218.2,112.19 218.7,111.19 219.2,109.72 219.7,109.40 220.2,110.73 220.7,111.23 221.2,111.46 221.7,110.77 222.2,110.01 222.7,109.55 223.2,109.21 223.7,108.61 224.2,107.84 224.7,107.04 225.2,106.91 225.7,106.61 226.2,106.94 226.7,107.70 227.2,108.03 227.7,108.37 228.2,109.51 228.7,110.01 229.2,110.42 229.7,111.06 230.2,110.99 230.7,111.34 231.2,111.48 231.7,111.83 232.2,110.93 232.7,111.10 233.2,111.14 233.7,111.08 234.2,110.56 234.7,110.35 235.2,110.57 235.7,110.13 236.2,110.09 236.7,110.02 237.2,110.03 237.7,109.75 238.2,110.02 238.7,110.38 239.2,110.71 239.7,111.17 240.2,111.34 240.7,111.54 241.2,111.70 241.7,112.12 242.2,111.97 242.7,112.12 243.2,112.01 243.7,112.30 244.2,112.88 244.7,112.79 245.2,112.51 245.7,112.94 246.2,113.02 246.7,112.93 247.2,113.27 247.7,113.26 248.2,113.39 248.7,113.58 249.2,113.36 249.7,113.64 250.2,113.41 250.7,113.43 251.2,113.75 251.7,113.55 252.2,113.30 252.7,113.30 253.2,113.24 253.7,112.84 254.2,113.06 254.7,112.62 255.2,111.59 255.7,110.02 256.2,106.79 256.7,102.01 257.2,103.27 257.7,107.37 258.2,110.47 258.7,111.31 259.2,112.15 259.7,112.10 260.2,111.49 260.7,109.74 261.2,108.44 261.7,110.37 262.2,111.95 262.7,112.58 263.2,113.04 263.7,112.62 264.2,113.22 264.7,113.77 265.2,113.51 265.7,113.56 266.2,113.41 266.7,113.80 267.2,113.75 267.7,113.75 268.2,114.02 268.7,114.21 269.2,113.91 269.7,113.37 270.2,113.75 270.7,113.76 271.2,113.39 271.7,113.26 272.2,113.54 272.7,113.65 273.2,113.68 273.7,113.57 274.2,113.76 274.7,113.81 275.2,113.71 275.7,113.80 276.2,113.54 276.7,113.33 277.2,113.71 277.7,114.10 278.2,114.34 278.7,113.34 279.2,113.46 279.7,113.52 280.2,113.72 280.7,113.55 281.2,113.78 281.7,113.95 282.2,113.60 282.7,113.76 283.2,114.17 283.7,113.95 284.2,113.49 284.7,114.11 285.2,113.68 285.7,113.74 286.2,113.61 286.7,113.55 287.2,113.55 287.7,113.78 288.2,113.48 288.7,113.32 289.2,113.49 289.7,113.56 290.2,113.24 290.7,113.73 291.2,113.58 291.7,113.88 292.2,114.05 292.7,113.82 293.2,113.74 293.7,113.47 294.2,113.24 294.7,112.87 295.2,112.90 295.7,112.35 296.2,111.95 296.7,113.00 297.2,113.72 297.7,113.71 298.2,113.82 298.7,113.49 299.2,113.30 299.7,113.51 300.2,113.43 300.7,113.33 301.2,113.77 301.7,113.62 302.2,113.42 302.7,113.56 303.2,113.55 303.7,113.76 304.2,113.91 304.7,113.38 305.2,113.25 305.7,113.88 306.2,114.09 306.7,113.37 307.2,113.10 307.7,113.04 308.2,113.29 308.7,113.31 309.2,113.23 309.7,113.32 310.2,112.89 310.7,112.71 311.2,112.57 311.7,113.00 312.2,112.87 312.7,112.58 313.2,111.93 313.7,112.05 314.2,111.69 314.7,111.54 315.2,111.36 315.7,111.13 316.2,111.11 316.7,110.96 317.2,111.28 317.7,111.49 318.2,111.44 318.7,111.81 319.2,112.08 319.7,111.64 320.2,111.35 320.7,111.28 321.2,111.45 321.7,111.62 322.2,111.12 322.7,110.75 323.2,110.36 323.7,110.58 324.2,110.63 324.7,110.41 325.2,110.46 325.7,110.46 326.2,110.85 326.7,111.02 327.2,110.74 327.7,110.46 328.2,109.88 328.7,108.99 329.2,107.94 329.7,106.75 330.2,105.38 330.7,103.99 331.2,103.36 331.7,103.52 332.2,104.73 332.7,106.08 333.2,107.34 333.7,108.56 334.2,109.27 334.7,110.49 335.2,110.44 335.7,110.54 336.2,110.79 336.7,109.90 337.2,109.44 337.7,109.07 338.2,108.55 338.7,108.42 339.2,108.55 339.7,108.96 340.2,109.41 340.7,110.18 341.2,110.67 341.7,111.45 342.2,111.97 342.7,111.77 343.2,112.31 343.7,112.62 344.2,112.26 344.7,112.18 345.2,112.99 345.7,113.09 346.2,113.41 346.7,113.35 347.2,113.33 347.7,113.31 348.2,113.38 348.7,113.20 349.2,113.34 349.7,113.64 350.2,113.51 350.7,113.63 351.2,113.53 351.7,113.40 352.2,113.33 352.7,113.65 353.2,113.40 353.7,113.51 354.2,113.19 354.7,113.53 355.2,113.59 355.7,113.28 356.2,113.04 356.7,113.33 357.2,113.41 357.7,113.23 358.2,113.20 358.7,113.47 359.2,113.23 359.7,113.11 360.2,113.29 360.7,113.03 361.2,112.83 361.7,113.03 362.2,112.79 362.7,112.88 363.2,112.54 363.7,112.68 364.2,112.87 364.7,112.70 365.2,112.67 365.7,112.70 366.2,112.79 366.7,112.70 367.2,112.78 367.7,112.82 368.2,113.24 368.7,112.84 369.2,113.08 369.7,112.86 370.2,113.22 370.7,113.39 371.2,112.99 371.7,113.37 372.2,112.78 372.7,112.60 373.2,112.62 373.7,112.21 374.2,112.38 374.7,112.04 375.2,111.31 375.7,111.67 376.2,112.25 376.7,112.77 377.2,112.74 377.7,113.03 378.2,113.44 378.7,113.30 379.2,113.53 379.7,113.37 380.2,113.92 380.7,114.05 381.2,113.41 381.7,113.04 382.2,113.30 382.7,113.91 383.2,113.77 383.7,113.97 384.2,113.51 384.7,113.53 385.2,113.82 385.7,114.09 386.2,113.81 386.7,113.62 387.2,113.89 387.7,113.94 388.2,114.00 388.7,113.84 389.2,113.73 389.7,113.74 390.2,113.32 390.7,113.90 391.2,114.25 391.7,114.06 392.2,113.63 392.7,113.57 393.2,114.13 393.7,113.86 394.2,113.86 394.7,113.94 395.2,113.80 395.7,113.99 396.2,114.28 396.7,114.00 397.2,114.40 397.7,114.15 398.2,114.09 398.7,114.24 399.2,114.28 399.7,114.28 400.2,114.11 400.7,113.93 401.2,114.32 401.7,113.97 402.2,113.80 402.7,114.17 403.2,114.17 403.7,114.00 404.2,114.02 404.7,114.22 405.2,114.46 405.7,113.99 406.2,113.64 406.7,113.80 407.2,114.06 407.7,113.92 408.2,113.85 408.7,114.16 409.2,114.19 409.7,113.99 410.2,114.01 410.7,113.82 411.2,113.79 411.7,113.80 412.2,113.66 412.7,114.00 413.2,113.96 413.7,113.87 414.2,114.00 414.7,113.99 415.2,113.79 415.7,113.77 416.2,113.84 416.7,114.19 417.2,113.65 417.7,113.93 418.2,114.13 418.7,113.72 419.2,113.65 419.7,113.61 420.2,113.56 420.7,114.16 421.2,113.92 421.7,113.66 422.2,113.77 422.7,113.96 423.2,113.85 423.7,113.75 424.2,113.99 424.7,113.75 425.2,113.82 425.7,113.94 426.2,113.79 426.7,113.90 427.2,113.94 427.7,114.54 428.2,114.02 428.7,114.04 429.2,113.71 429.7,113.62 430.2,113.83 430.7,113.82 431.2,113.83 431.7,113.95 432.2,114.23 432.7,114.53 433.2,114.50 433.7,114.12 434.2,114.44 434.7,114.37 435.2,113.80 435.7,113.73 436.2,113.93 436.7,114.33 437.2,113.91 437.7,113.85 438.2,114.15 438.7,113.84 439.2,113.79 439.7,113.93 440.2,113.72 440.7,113.10 441.2,113.33 441.7,113.72 442.2,113.41 442.7,113.84 443.2,113.63 443.7,113.59 444.2,113.45 444.7,112.93 445.2,112.99 445.7,112.94 446.2,113.20 446.7,113.38 447.2,112.91 447.7,112.65 448.2,112.11 448.7,112.24 449.2,112.19 449.7,112.09 450.2,112.17 450.7,112.18 451.2,111.78 451.7,111.61 452.2,111.21 452.7,111.59 453.2,111.51 453.7,111.23 454.2,111.70 454.7,111.79 455.2,112.27 455.7,112.37 456.2,112.50 456.7,112.94 457.2,112.72 457.7,112.75 458.2,112.96 458.7,113.07 459.2,113.02 459.7,113.41 460.2,113.49 460.7,113.27 461.2,113.19 461.7,113.87 462.2,114.07 462.7,114.03 463.2,114.11 463.7,114.27 464.2,114.06 464.7,114.23 465.2,113.86 465.7,113.66 466.2,113.84 466.7,113.86 467.2,114.13 467.7,114.43 468.2,114.20 468.7,114.35 469.2,114.64 469.7,114.54 470.2,114.07 470.7,113.95 471.2,114.44 471.7,113.77 472.2,113.42 472.7,113.51 473.2,114.14 473.7,113.73 474.2,113.89 474.7,114.07 475.2,114.29 475.7,113.79 476.2,114.01 476.7,114.21 477.2,114.40 477.7,114.09 478.2,114.10 478.7,114.07 479.2,114.36 479.7,114.33 480.2,114.05 480.7,114.10 481.2,113.73 481.7,113.96 482.2,113.83 482.7,113.96 483.2,114.39 483.7,114.64 484.2,114.20 484.7,114.00 485.2,113.99 485.7,114.19 486.2,114.07 486.7,114.32 487.2,114.45 487.7,114.18 488.2,113.93 488.7,114.05 489.2,113.65 489.7,113.41 490.2,114.01 490.7,114.17 491.2,113.75 491.7,112.80 492.2,111.65 492.7,111.69 493.2,111.72 493.7,111.66 494.2,112.31 494.7,112.40 495.2,112.97 495.7,113.22 496.2,113.25 496.7,112.94 497.2,113.14 497.7,113.15 498.2,112.80 498.7,112.38 499.2,112.25 499.7,111.96 500.2,111.98 500.7,111.87 501.2,111.50 501.7,111.30 502.2,111.18 502.7,111.26 503.2,111.10 503.7,111.83 504.2,112.39 504.7,112.46 505.2,112.84 505.7,112.69 506.2,113.15 506.7,113.37 507.2,113.64 507.7,113.80 508.2,114.09 508.7,113.03 509.2,113.26 509.7,113.61 510.2,113.83 510.7,113.70 511.2,113.62 511.7,113.42 512.2,113.45 512.7,113.70 513.2,114.17 513.7,113.89 514.2,114.52 514.7,114.17 515.2,113.74 515.7,113.87 516.2,113.76 516.7,113.07 517.2,112.86 517.7,113.30 518.2,112.78 518.7,112.92 519.2,112.70 519.7,112.15 520.2,112.58 520.7,112.80 521.2,113.05 521.7,112.97 522.2,113.21 522.7,113.37 523.2,113.48 523.7,114.02 524.2,114.10 524.7,114.24 525.2,114.11 525.7,114.20 526.2,113.79 526.7,113.88 527.2,114.27 527.7,114.07 528.2,114.01 528.7,114.07 529.2,113.78 529.7,114.14 530.2,114.29 530.7,114.07 531.2,113.99 531.7,114.60 532.2,114.35 532.7,113.95 533.2,113.94 533.7,113.71 534.2,113.62 534.7,113.63 535.2,113.96 535.7,114.35 536.2,114.45 536.7,114.32 537.2,114.54 537.7,114.40 538.2,113.97 538.7,114.02 539.2,114.34 539.7,114.52 540.2,114.51 540.7,113.90 541.2,113.84 541.7,114.67 542.2,114.38 542.7,114.53 543.2,114.29 543.7,114.04 544.2,114.60 544.7,114.57 545.2,114.73 545.7,114.49 546.2,114.10 546.7,114.31 547.2,114.53 547.7,114.21 548.2,114.40 548.7,114.56 549.2,114.07 549.7,114.18 550.2,114.41 550.7,114.58 551.2,114.33 551.7,114.19 552.2,114.41 552.7,114.25 553.2,114.44 553.7,114.45 554.2,114.37 554.7,114.61 555.2,114.62 555.7,114.12 556.2,114.41 556.7,114.33 557.2,114.28 557.7,114.43 558.2,114.65 558.7,114.39"/>
<polyline fill="none" stroke="#fbc08e" stroke-width="1.45" stroke-linejoin="round" points="129.7,157.40 130.2,157.08 130.7,157.14 131.2,156.97 131.7,156.51 132.2,156.33 132.7,156.21 133.2,155.95 133.7,155.25 134.2,155.24 134.7,154.76 135.2,154.39 135.7,154.07 136.2,153.69 136.7,153.34 137.2,153.37 137.7,153.57 138.2,154.02 138.7,154.90 139.2,155.58 139.7,155.82 140.2,156.26 140.7,156.22 141.2,156.24 141.7,156.91 142.2,157.36 142.7,157.86 143.2,158.17 143.7,157.83 144.2,158.03 144.7,158.04 145.2,157.88 145.7,157.99 146.2,158.00 146.7,158.15 147.2,157.52 147.7,157.22 148.2,157.81 148.7,158.15 149.2,158.15 149.7,157.82 150.2,157.95 150.7,157.79 151.2,157.99 151.7,157.69 152.2,157.64 152.7,158.01 153.2,157.56 153.7,157.51 154.2,158.02 154.7,157.84 155.2,157.39 155.7,158.00 156.2,157.63 156.7,157.70 157.2,157.94 157.7,158.36 158.2,158.02 158.7,158.08 159.2,157.90 159.7,157.89 160.2,157.52 160.7,157.73 161.2,157.62 161.7,157.54 162.2,157.86 162.7,158.06 163.2,157.88 163.7,157.67 164.2,157.71 164.7,157.20 165.2,156.99 165.7,156.12 166.2,155.45 166.7,156.31 167.2,157.09 167.7,157.26 168.2,157.44 168.7,157.58 169.2,157.14 169.7,157.71 170.2,157.62 170.7,157.40 171.2,157.04 171.7,157.01 172.2,156.93 172.7,157.04 173.2,156.86 173.7,156.54 174.2,155.59 174.7,154.02 175.2,151.95 175.7,146.98 176.2,136.87 176.7,124.52 177.2,126.61 177.7,139.22 178.2,148.14 178.7,152.58 179.2,154.70 179.7,154.96 180.2,155.73 180.7,156.01 181.2,156.30 181.7,156.87 182.2,156.94 182.7,157.00 183.2,156.72 183.7,157.26 184.2,157.31 184.7,157.67 185.2,157.52 185.7,157.34 186.2,157.23 186.7,157.45 187.2,157.40 187.7,157.43 188.2,157.96 188.7,157.67 189.2,157.85 189.7,158.00 190.2,157.78 190.7,157.78 191.2,157.78 191.7,157.87 192.2,157.79 192.7,157.74 193.2,157.61 193.7,157.44 194.2,157.41 194.7,157.40 195.2,157.65 195.7,157.84 196.2,157.37 196.7,157.31 197.2,157.28 197.7,157.53 198.2,157.77 198.7,157.52 199.2,157.47 199.7,156.97 200.2,157.39 200.7,157.59 201.2,157.29 201.7,157.09 202.2,157.51 202.7,157.57 203.2,157.88 203.7,157.41 204.2,157.37 204.7,157.35 205.2,157.35 205.7,157.06 206.2,157.68 206.7,157.62 207.2,157.35 207.7,157.31 208.2,157.49 208.7,157.44 209.2,157.25 209.7,157.28 210.2,157.36 210.7,157.19 211.2,157.14 211.7,157.11 212.2,157.05 212.7,156.82 213.2,156.90 213.7,157.23 214.2,157.33 214.7,156.93 215.2,156.10 215.7,156.49 216.2,157.07 216.7,157.41 217.2,157.23 217.7,156.79 218.2,156.60 218.7,156.59 219.2,156.92 219.7,156.47 220.2,156.03 220.7,156.16 221.2,155.67 221.7,154.35 222.2,153.54 222.7,152.74 223.2,152.13 223.7,151.99 224.2,152.46 224.7,152.51 225.2,151.81 225.7,150.76 226.2,150.18 226.7,149.74 227.2,149.22 227.7,148.91 228.2,149.74 228.7,149.78 229.2,149.93 229.7,150.63 230.2,150.78 230.7,151.66 231.2,152.41 231.7,153.15 232.2,152.87 232.7,152.83 233.2,152.83 233.7,152.53 234.2,152.22 234.7,152.40 235.2,152.14 235.7,152.13 236.2,151.83 236.7,151.31 237.2,151.36 237.7,151.52 238.2,151.77 238.7,152.22 239.2,152.40 239.7,152.69 240.2,153.57 240.7,153.95 241.2,153.93 241.7,153.95 242.2,154.31 242.7,154.58 243.2,154.79 243.7,155.06 244.2,155.56 244.7,155.83 245.2,155.95 245.7,155.83 246.2,156.26 246.7,156.74 247.2,156.46 247.7,156.45 248.2,157.10 248.7,156.68 249.2,156.44 249.7,156.70 250.2,156.44 250.7,156.52 251.2,156.78 251.7,156.41 252.2,156.21 252.7,156.66 253.2,156.63 253.7,156.08 254.2,156.16 254.7,156.33 255.2,155.94 255.7,155.50 256.2,154.27 256.7,151.70 257.2,146.32 257.7,138.42 258.2,137.09 258.7,144.03 259.2,150.02 259.7,152.99 260.2,153.47 260.7,152.22 261.2,150.58 261.7,149.79 262.2,151.43 262.7,153.79 263.2,155.14 263.7,155.70 264.2,155.92 264.7,156.41 265.2,156.57 265.7,156.61 266.2,156.69 266.7,156.73 267.2,156.97 267.7,157.09 268.2,157.42 268.7,157.34 269.2,156.93 269.7,156.68 270.2,157.02 270.7,156.93 271.2,157.23 271.7,156.68 272.2,156.89 272.7,157.33 273.2,157.11 273.7,157.20 274.2,157.16 274.7,156.96 275.2,157.13 275.7,156.81 276.2,156.98 276.7,157.47 277.2,157.07 277.7,157.01 278.2,156.81 278.7,157.19 279.2,156.78 279.7,156.71 280.2,156.72 280.7,156.61 281.2,156.52 281.7,156.73 282.2,156.72 282.7,156.71 283.2,156.45 283.7,156.31 284.2,156.15 284.7,155.35 285.2,153.27 285.7,151.74 286.2,153.48 286.7,155.67 287.2,156.49 287.7,156.77 288.2,156.93 288.7,156.74 289.2,157.11 289.7,156.93 290.2,156.77 290.7,156.89 291.2,156.74 291.7,157.26 292.2,156.96 292.7,156.49 293.2,156.52 293.7,156.68 294.2,156.75 294.7,157.00 295.2,157.16 295.7,157.19 296.2,157.00 296.7,156.73 297.2,157.14 297.7,157.10 298.2,156.42 298.7,156.59 299.2,156.68 299.7,156.67 300.2,157.05 300.7,156.98 301.2,156.79 301.7,156.41 302.2,156.20 302.7,156.42 303.2,156.49 303.7,156.41 304.2,156.14 304.7,156.26 305.2,156.58 305.7,156.76 306.2,156.59 306.7,156.61 307.2,156.64 307.7,156.69 308.2,156.86 308.7,156.46 309.2,156.47 309.7,156.22 310.2,156.63 310.7,156.56 311.2,156.42 311.7,156.02 312.2,155.63 312.7,155.14 313.2,155.18 313.7,154.93 314.2,153.87 314.7,154.30 315.2,153.83 315.7,153.96 316.2,153.94 316.7,154.37 317.2,154.88 317.7,155.06 318.2,155.60 318.7,155.46 319.2,155.53 319.7,155.28 320.2,155.21 320.7,155.20 321.2,155.35 321.7,155.43 322.2,154.85 322.7,154.29 323.2,154.15 323.7,153.92 324.2,154.16 324.7,154.00 325.2,153.72 325.7,153.95 326.2,154.36 326.7,154.39 327.2,154.34 327.7,154.73 328.2,154.79 328.7,154.68 329.2,154.95 329.7,155.23 330.2,154.62 330.7,154.70 331.2,154.15 331.7,153.44 332.2,151.92 332.7,149.37 333.2,145.68 333.7,141.75 334.2,139.89 334.7,141.60 335.2,145.00 335.7,148.76 336.2,151.28 336.7,152.39 337.2,152.59 337.7,152.27 338.2,152.60 338.7,152.55 339.2,152.41 339.7,151.81 340.2,151.92 340.7,152.18 341.2,152.57 341.7,152.81 342.2,153.56 342.7,154.13 343.2,154.70 343.7,155.45 344.2,155.35 344.7,155.64 345.2,156.15 345.7,156.10 346.2,156.53 346.7,156.50 347.2,156.29 347.7,156.33 348.2,156.57 348.7,156.60 349.2,156.66 349.7,156.61 350.2,156.83 350.7,156.62 351.2,156.65 351.7,156.69 352.2,156.52 352.7,156.71 353.2,156.74 353.7,156.45 354.2,156.47 354.7,157.12 355.2,156.93 355.7,156.87 356.2,156.88 356.7,157.30 357.2,156.91 357.7,156.57 358.2,156.97 358.7,156.81 359.2,157.05 359.7,157.07 360.2,157.34 360.7,157.18 361.2,157.03 361.7,157.49 362.2,157.73 362.7,157.11 363.2,157.29 363.7,157.21 364.2,157.11 364.7,156.72 365.2,156.82 365.7,157.34 366.2,157.13 366.7,157.01 367.2,157.50 367.7,157.45 368.2,157.21 368.7,156.81 369.2,157.01 369.7,157.21 370.2,156.43 370.7,156.35 371.2,156.58 371.7,156.89 372.2,156.61 372.7,156.24 373.2,155.52 373.7,154.52 374.2,153.71 374.7,153.56 375.2,153.60 375.7,154.76 376.2,155.51 376.7,156.50 377.2,156.63 377.7,156.75 378.2,156.70 378.7,156.69 379.2,156.76 379.7,156.69 380.2,156.78 380.7,157.48 381.2,157.35 381.7,157.40 382.2,157.23 382.7,156.82 383.2,157.03 383.7,156.90 384.2,156.92 384.7,157.11 385.2,157.22 385.7,157.22 386.2,157.21 386.7,157.13 387.2,157.25 387.7,157.62 388.2,157.86 388.7,157.58 389.2,157.24 389.7,157.35 390.2,157.52 390.7,157.58 391.2,157.64 391.7,157.61 392.2,157.38 392.7,157.10 393.2,156.90 393.7,157.45 394.2,157.40 394.7,157.07 395.2,157.18 395.7,157.13 396.2,157.21 396.7,157.63 397.2,157.38 397.7,157.82 398.2,157.31 398.7,157.08 399.2,157.38 399.7,157.85 400.2,157.38 400.7,157.26 401.2,156.77 401.7,157.22 402.2,156.96 402.7,157.24 403.2,157.58 403.7,157.32 404.2,157.42 404.7,157.24 405.2,157.20 405.7,157.38 406.2,157.56 406.7,157.36 407.2,157.23 407.7,156.96 408.2,156.83 408.7,157.22 409.2,157.26 409.7,157.40 410.2,157.60 410.7,157.50 411.2,157.13 411.7,157.32 412.2,157.36 412.7,157.13 413.2,156.69 413.7,156.98 414.2,157.27 414.7,157.46 415.2,157.19 415.7,157.01 416.2,157.55 416.7,157.33 417.2,157.21 417.7,157.44 418.2,157.49 418.7,157.28 419.2,157.12 419.7,157.17 420.2,157.45 420.7,157.33 421.2,157.31 421.7,156.82 422.2,157.05 422.7,157.14 423.2,157.05 423.7,156.76 424.2,157.15 424.7,157.65 425.2,157.40 425.7,157.11 426.2,156.98 426.7,156.89 427.2,157.18 427.7,157.02 428.2,157.11 428.7,157.43 429.2,157.46 429.7,157.21 430.2,156.62 430.7,156.74 431.2,156.90 431.7,156.26 432.2,156.28 432.7,155.74 433.2,155.60 433.7,155.39 434.2,155.50 434.7,156.03 435.2,156.87 435.7,156.74 436.2,156.68 436.7,157.09 437.2,156.75 437.7,157.02 438.2,157.23 438.7,157.26 439.2,157.27 439.7,157.03 440.2,156.57 440.7,157.09 441.2,157.14 441.7,157.11 442.2,157.28 442.7,157.34 443.2,157.26 443.7,157.56 444.2,157.67 444.7,157.16 445.2,156.81 445.7,156.59 446.2,156.81 446.7,156.43 447.2,157.02 447.7,156.83 448.2,156.35 448.7,156.33 449.2,155.81 449.7,155.57 450.2,155.69 450.7,155.17 451.2,155.12 451.7,154.93 452.2,155.03 452.7,154.69 453.2,154.78 453.7,154.54 454.2,154.13 454.7,154.02 455.2,154.07 455.7,154.63 456.2,154.41 456.7,154.92 457.2,154.97 457.7,155.63 458.2,156.17 458.7,156.06 459.2,156.22 459.7,156.44 460.2,156.66 460.7,156.45 461.2,156.82 461.7,156.88 462.2,156.70 462.7,156.83 463.2,157.39 463.7,157.40 464.2,157.27 464.7,157.00 465.2,157.02 465.7,156.81 466.2,156.73 466.7,157.03 467.2,157.05 467.7,156.90 468.2,156.96 468.7,157.32 469.2,157.15 469.7,157.03 470.2,157.67 470.7,157.04 471.2,157.27 471.7,157.17 472.2,157.49 472.7,157.48 473.2,157.63 473.7,157.38 474.2,157.28 474.7,157.71 475.2,157.45 475.7,157.34 476.2,157.32 476.7,157.24 477.2,157.55 477.7,157.92 478.2,157.88 478.7,157.60 479.2,157.63 479.7,157.60 480.2,157.38 480.7,157.77 481.2,157.46 481.7,157.02 482.2,157.43 482.7,157.24 483.2,157.48 483.7,157.58 484.2,157.38 484.7,157.53 485.2,157.67 485.7,157.03 486.2,156.84 486.7,157.23 487.2,157.41 487.7,157.90 488.2,157.71 488.7,157.48 489.2,157.18 489.7,156.69 490.2,156.74 490.7,156.97 491.2,157.01 491.7,156.75 492.2,156.57 492.7,156.11 493.2,154.88 493.7,153.53 494.2,152.26 494.7,152.43 495.2,153.00 495.7,154.82 496.2,155.84 496.7,155.83 497.2,156.46 497.7,156.96 498.2,156.63 498.7,156.64 499.2,156.81 499.7,157.03 500.2,156.69 500.7,156.02 501.2,155.39 501.7,154.91 502.2,154.59 502.7,153.49 503.2,153.26 503.7,153.31 504.2,153.21 504.7,153.91 505.2,154.73 505.7,155.48 506.2,155.62 506.7,156.25 507.2,156.60 507.7,156.75 508.2,156.60 508.7,157.05 509.2,156.93 509.7,157.05 510.2,157.09 510.7,157.65 511.2,157.46 511.7,157.73 512.2,157.18 512.7,157.19 513.2,157.52 513.7,157.16 514.2,157.24 514.7,157.30 515.2,156.86 515.7,156.61 516.2,156.62 516.7,156.77 517.2,156.57 517.7,156.51 518.2,156.03 518.7,155.78 519.2,155.65 519.7,155.88 520.2,156.01 520.7,156.24 521.2,156.25 521.7,156.46 522.2,156.79 522.7,157.19 523.2,157.04 523.7,157.09 524.2,157.56 524.7,157.70 525.2,157.36 525.7,157.24 526.2,156.91 526.7,156.99 527.2,157.47 527.7,157.94 528.2,158.09 528.7,157.81 529.2,157.50 529.7,157.58 530.2,157.23 530.7,157.42 531.2,157.29 531.7,157.61 532.2,158.06 532.7,158.22 533.2,157.80 533.7,157.64 534.2,157.20 534.7,157.46 535.2,158.03 535.7,158.04 536.2,157.93 536.7,157.88 537.2,158.06 537.7,157.66 538.2,157.74 538.7,158.29 539.2,157.62 539.7,157.71 540.2,157.68 540.7,158.00 541.2,157.67 541.7,157.56 542.2,157.62 542.7,157.81 543.2,157.40 543.7,157.26 544.2,157.56 544.7,157.62 545.2,157.79 545.7,157.61 546.2,157.54 546.7,157.76 547.2,157.87 547.7,157.98 548.2,157.68 548.7,157.26 549.2,157.60 549.7,157.71 550.2,157.72 550.7,157.83 551.2,157.74 551.7,157.96 552.2,157.78 552.7,157.99 553.2,157.40 553.7,157.04 554.2,157.52 554.7,158.37 555.2,157.82 555.7,157.71 556.2,157.78 556.7,157.67 557.2,157.79 557.7,157.90 558.2,158.32 558.7,158.16"/>
<polyline fill="none" stroke="#bccde6" stroke-width="1.35" stroke-linejoin="round" points="129.7,211.44 130.0,211.92 130.4,211.59 130.7,209.33 131.0,211.89 131.4,209.60 131.7,211.12 132.0,210.13 132.3,210.81 132.7,211.09 133.0,209.41 133.3,207.31 133.7,206.78 134.0,207.04 134.3,204.76 134.7,203.58 135.0,202.60 135.3,200.92 135.6,200.51 136.0,197.79 136.3,197.00 136.6,194.73 137.0,192.82 137.3,196.04 137.6,196.80 138.0,195.84 138.3,198.74 138.6,199.52 138.9,199.19 139.3,203.48 139.6,200.88 139.9,204.55 140.3,206.69 140.6,205.41 140.9,209.56 141.3,207.60 141.6,210.36 141.9,209.06 142.2,210.44 142.6,209.99 142.9,213.31 143.2,211.09 143.6,211.92 143.9,211.66 144.2,211.01 144.6,210.51 144.9,211.51 145.2,212.42 145.5,212.39 145.9,211.91 146.2,211.08 146.5,212.09 146.9,209.98 147.2,211.05 147.5,208.52 147.9,210.28 148.2,211.03 148.5,209.42 148.8,209.86 149.2,212.69 149.5,212.33 149.8,213.11 150.2,213.24 150.5,212.56 150.8,212.71 151.2,212.13 151.5,213.23 151.8,209.61 152.1,211.33 152.5,213.06 152.8,212.83 153.1,211.75 153.5,211.24 153.8,212.72 154.1,211.38 154.5,210.18 154.8,213.08 155.1,211.21 155.4,211.72 155.8,209.25 156.1,208.06 156.4,212.15 156.8,213.70 157.1,208.60 157.4,210.76 157.8,212.31 158.1,211.87 158.4,211.65 158.7,211.43 159.1,210.30 159.4,212.99 159.7,212.90 160.1,211.86 160.4,208.49 160.7,213.50 161.1,211.47 161.4,212.18 161.7,214.02 162.0,213.13 162.4,211.20 162.7,212.53 163.0,211.75 163.4,209.98 163.7,210.41 164.0,207.40 164.4,206.80 164.7,207.95 165.0,207.68 165.3,202.65 165.7,204.21 166.0,203.86 166.3,207.79 166.7,207.15 167.0,212.68 167.3,210.38 167.7,209.81 168.0,210.55 168.3,208.09 168.6,210.91 169.0,210.28 169.3,211.29 169.6,210.04 170.0,206.72 170.3,206.79 170.6,209.31 171.0,208.70 171.3,211.30 171.6,208.78 171.9,210.48 172.3,209.69 172.6,211.59 172.9,209.43 173.3,208.96 173.6,206.88 173.9,207.95 174.3,207.33 174.6,204.73 174.9,203.16 175.2,197.07 175.6,192.50 175.9,185.79 176.2,175.94 176.6,169.51 176.9,164.93 177.2,166.56 177.6,174.37 177.9,184.61 178.2,191.41 178.5,197.46 178.9,200.57 179.2,205.61 179.5,206.61 179.9,207.87 180.2,209.10 180.5,205.64 180.9,208.97 181.2,209.16 181.5,210.65 181.8,210.70 182.2,210.95 182.5,211.91 182.8,207.86 183.2,208.99 183.5,212.24 183.8,212.63 184.2,209.81 184.5,212.30 184.8,211.99 185.1,209.03 185.5,210.01 185.8,211.34 186.1,211.04 186.5,213.48 186.8,212.04 187.1,212.25 187.5,210.14 187.8,209.32 188.1,210.28 188.4,213.10 188.8,213.66 189.1,210.15 189.4,210.69 189.8,207.85 190.1,212.60 190.4,209.61 190.8,212.36 191.1,212.86 191.4,209.39 191.7,209.93 192.1,212.17 192.4,213.03 192.7,210.47 193.1,209.73 193.4,211.65 193.7,212.82 194.1,209.70 194.4,210.09 194.7,212.68 195.0,211.45 195.4,210.05 195.7,211.12 196.0,211.87 196.4,212.59 196.7,211.61 197.0,211.01 197.4,208.89 197.7,211.76 198.0,211.87 198.3,211.43 198.7,211.16 199.0,211.34 199.3,212.37 199.7,210.57 200.0,209.49 200.3,212.18 200.7,210.60 201.0,210.68 201.3,211.60 201.6,210.73 202.0,210.84 202.3,209.61 202.6,212.60 203.0,209.40 203.3,212.59 203.6,209.33 204.0,209.90 204.3,210.42 204.6,212.14 204.9,211.26 205.3,210.24 205.6,209.29 205.9,212.18 206.3,211.06 206.6,211.45 206.9,210.62 207.3,210.23 207.6,211.74 207.9,211.38 208.2,212.41 208.6,211.06 208.9,208.96 209.2,211.72 209.6,210.88 209.9,210.21 210.2,206.46 210.6,209.33 210.9,210.81 211.2,209.85 211.5,210.99 211.9,211.45 212.2,210.55 212.5,209.33 212.9,211.08 213.2,211.01 213.5,210.03 213.9,207.76 214.2,208.64 214.5,211.32 214.8,209.87 215.2,207.78 215.5,209.79 215.8,210.19 216.2,210.91 216.5,210.57 216.8,210.27 217.2,208.50 217.5,207.09 217.8,208.35 218.1,210.51 218.5,206.30 218.8,208.10 219.1,203.47 219.5,201.80 219.8,202.55 220.1,202.11 220.5,204.25 220.8,204.38 221.1,206.75 221.4,207.82 221.8,204.70 222.1,206.79 222.4,206.12 222.8,205.62 223.1,200.79 223.4,203.59 223.8,199.92 224.1,199.77 224.4,198.44 224.7,196.84 225.1,196.59 225.4,196.87 225.7,198.50 226.1,199.80 226.4,199.13 226.7,200.98 227.1,200.65 227.4,201.96 227.7,198.84 228.0,200.50 228.4,200.13 228.7,200.06 229.0,200.06 229.4,200.34 229.7,199.30 230.0,199.62 230.4,198.65 230.7,198.96 231.0,198.78 231.3,201.42 231.7,201.63 232.0,202.57 232.3,200.67 232.7,201.45 233.0,205.20 233.3,203.50 233.7,200.25 234.0,202.99 234.3,202.50 234.6,201.40 235.0,201.18 235.3,200.17 235.6,200.23 236.0,199.55 236.3,198.72 236.6,199.38 237.0,198.59 237.3,200.50 237.6,200.82 237.9,199.17 238.3,198.95 238.6,200.32 238.9,199.73 239.3,202.43 239.6,196.54 239.9,196.78 240.3,198.50 240.6,200.40 240.9,200.31 241.2,198.25 241.6,199.02 241.9,199.80 242.2,202.44 242.6,205.65 242.9,201.45 243.2,207.96 243.6,207.27 243.9,205.88 244.2,207.21 244.5,206.92 244.9,207.82 245.2,208.09 245.5,208.56 245.9,206.46 246.2,208.54 246.5,207.09 246.9,207.66 247.2,209.15 247.5,207.68 247.8,208.64 248.2,208.74 248.5,208.37 248.8,206.70 249.2,208.87 249.5,208.71 249.8,211.16 250.2,206.96 250.5,209.30 250.8,207.24 251.1,207.07 251.5,209.06 251.8,205.86 252.1,205.66 252.5,203.22 252.8,200.56 253.1,201.16 253.5,201.88 253.8,203.71 254.1,207.68 254.4,206.65 254.8,204.33 255.1,209.11 255.4,207.31 255.8,207.62 256.1,207.69 256.4,203.28 256.8,202.13 257.1,197.29 257.4,190.72 257.7,184.12 258.1,182.57 258.4,188.69 258.7,194.99 259.1,199.68 259.4,203.84 259.7,200.89 260.1,204.19 260.4,204.11 260.7,202.36 261.0,200.86 261.4,196.35 261.7,197.19 262.0,197.95 262.4,202.44 262.7,204.38 263.0,205.61 263.4,207.59 263.7,208.16 264.0,206.65 264.3,209.15 264.7,207.84 265.0,208.14 265.3,204.69 265.7,208.00 266.0,205.91 266.3,209.43 266.7,207.47 267.0,207.85 267.3,208.16 267.6,206.73 268.0,208.39 268.3,206.87 268.6,208.22 269.0,209.76 269.3,210.41 269.6,210.51 270.0,208.20 270.3,207.16 270.6,209.10 270.9,210.43 271.3,207.33 271.6,209.98 271.9,207.84 272.3,204.39 272.6,207.77 272.9,209.97 273.3,208.02 273.6,207.59 273.9,205.63 274.2,201.87 274.6,200.63 274.9,202.87 275.2,204.68 275.6,204.69 275.9,205.61 276.2,208.19 276.6,209.20 276.9,205.11 277.2,205.80 277.5,207.10 277.9,206.77 278.2,204.11 278.5,210.75 278.9,207.84 279.2,206.68 279.5,203.23 279.9,205.29 280.2,202.71 280.5,203.70 280.8,202.03 281.2,199.89 281.5,198.23 281.8,194.73 282.2,193.48 282.5,188.97 282.8,192.79 283.2,193.02 283.5,198.32 283.8,197.25 284.1,196.19 284.5,202.99 284.8,201.76 285.1,202.39 285.5,204.89 285.8,207.54 286.1,208.89 286.5,206.21 286.8,207.15 287.1,207.36 287.4,206.34 287.8,206.63 288.1,207.24 288.4,207.55 288.8,208.92 289.1,205.17 289.4,208.24 289.8,208.38 290.1,209.60 290.4,207.28 290.7,207.18 291.1,207.74 291.4,206.80 291.7,206.60 292.1,206.35 292.4,206.09 292.7,205.23 293.1,205.03 293.4,203.55 293.7,201.47 294.0,198.07 294.4,198.77 294.7,198.29 295.0,200.06 295.4,201.21 295.7,205.00 296.0,204.59 296.4,204.50 296.7,203.63 297.0,201.38 297.3,200.11 297.7,196.24 298.0,197.54 298.3,201.29 298.7,203.28 299.0,205.81 299.3,207.21 299.7,208.16 300.0,207.56 300.3,205.62 300.6,205.06 301.0,203.65 301.3,203.26 301.6,197.65 302.0,191.67 302.3,187.59 302.6,190.84 303.0,193.44 303.3,195.99 303.6,203.74 303.9,205.54 304.3,207.24 304.6,208.16 304.9,207.92 305.3,207.96 305.6,207.62 305.9,206.50 306.3,204.76 306.6,205.13 306.9,208.40 307.2,209.14 307.6,208.12 307.9,207.12 308.2,208.93 308.6,208.16 308.9,208.15 309.2,207.59 309.6,206.49 309.9,206.76 310.2,208.73 310.5,210.51 310.9,210.63 311.2,208.04 311.5,208.68 311.9,207.98 312.2,208.23 312.5,208.57 312.9,209.01 313.2,206.37 313.5,209.81 313.8,207.09 314.2,205.54 314.5,208.89 314.8,203.72 315.2,203.04 315.5,200.67 315.8,201.91 316.2,197.43 316.5,202.50 316.8,201.99 317.1,207.47 317.5,209.29 317.8,208.15 318.1,206.36 318.5,209.16 318.8,210.69 319.1,208.19 319.5,207.39 319.8,209.66 320.1,206.12 320.4,207.34 320.8,207.75 321.1,208.07 321.4,209.30 321.8,207.58 322.1,206.14 322.4,205.72 322.8,207.40 323.1,208.30 323.4,208.93 323.7,208.29 324.1,205.63 324.4,207.92 324.7,206.45 325.1,208.77 325.4,206.61 325.7,206.34 326.1,205.90 326.4,207.66 326.7,206.25 327.0,209.59 327.4,207.08 327.7,203.38 328.0,204.17 328.4,204.85 328.7,203.50 329.0,201.84 329.4,199.47 329.7,194.91 330.0,192.48 330.3,192.57 330.7,187.63 331.0,185.15 331.3,182.83 331.7,177.27 332.0,176.38 332.3,180.23 332.7,180.90 333.0,184.08 333.3,189.13 333.6,190.41 334.0,193.35 334.3,196.01 334.6,195.42 335.0,201.24 335.3,200.55 335.6,199.73 336.0,201.68 336.3,198.29 336.6,196.85 336.9,193.63 337.3,191.20 337.6,185.93 337.9,182.07 338.3,176.99 338.6,177.44 338.9,180.77 339.3,185.89 339.6,191.22 339.9,195.34 340.2,197.52 340.6,198.59 340.9,203.28 341.2,202.39 341.6,205.40 341.9,205.58 342.2,205.99 342.6,206.44 342.9,207.36 343.2,205.64 343.5,207.51 343.9,208.77 344.2,208.59 344.5,209.01 344.9,207.28 345.2,207.68 345.5,210.31 345.9,208.66 346.2,208.35 346.5,209.24 346.8,206.88 347.2,207.82 347.5,208.66 347.8,208.18 348.2,210.22 348.5,208.95 348.8,209.37 349.2,207.19 349.5,208.18 349.8,208.29 350.1,209.05 350.5,209.05 350.8,208.47 351.1,209.36 351.5,211.32 351.8,208.64 352.1,207.73 352.5,210.24 352.8,210.68 353.1,209.04 353.4,209.80 353.8,206.02 354.1,209.16 354.4,208.67 354.8,211.72 355.1,209.39 355.4,211.28 355.8,208.69 356.1,208.43 356.4,208.05 356.7,207.24 357.1,208.15 357.4,210.27 357.7,207.00 358.1,209.08 358.4,210.53 358.7,209.50 359.1,209.80 359.4,209.62 359.7,209.68 360.0,206.70 360.4,211.04 360.7,209.72 361.0,208.45 361.4,208.76 361.7,209.07 362.0,210.06 362.4,207.64 362.7,207.41 363.0,207.52 363.3,210.37 363.7,208.20 364.0,209.38 364.3,207.86 364.7,209.20 365.0,208.70 365.3,208.51 365.7,210.93 366.0,209.63 366.3,208.40 366.6,212.60 367.0,208.37 367.3,207.79 367.6,207.36 368.0,211.65 368.3,210.03 368.6,210.18 369.0,211.16 369.3,209.97 369.6,210.79 369.9,212.03 370.3,210.25 370.6,210.86 370.9,210.11 371.3,210.10 371.6,211.77 371.9,210.73 372.3,210.11 372.6,207.26 372.9,208.47 373.2,208.88 373.6,209.84 373.9,210.42 374.2,210.15 374.6,209.75 374.9,210.42 375.2,210.52 375.6,211.06 375.9,207.74 376.2,211.36 376.5,212.77 376.9,211.64 377.2,209.44 377.5,208.76 377.9,209.95 378.2,211.82 378.5,210.31 378.9,207.05 379.2,205.38 379.5,210.11 379.8,212.95 380.2,207.76 380.5,208.66 380.8,209.42 381.2,209.55 381.5,209.62 381.8,205.68 382.2,206.68 382.5,204.76 382.8,205.96 383.1,205.74 383.5,207.47 383.8,205.49 384.1,206.41 384.5,207.62 384.8,208.36 385.1,208.26 385.5,207.70 385.8,208.56 386.1,207.43 386.4,210.76 386.8,208.88 387.1,207.78 387.4,209.43 387.8,207.14 388.1,209.38 388.4,208.33 388.8,210.36 389.1,207.80 389.4,204.61 389.7,204.85 390.1,202.17 390.4,201.74 390.7,197.77 391.1,202.85 391.4,205.05 391.7,208.68 392.1,206.75 392.4,209.12 392.7,208.84 393.0,207.48 393.4,208.75 393.7,210.37 394.0,209.54 394.4,209.60 394.7,209.80 395.0,210.09 395.4,210.42 395.7,209.83 396.0,208.05 396.3,209.68 396.7,210.32 397.0,212.25 397.3,209.01 397.7,212.13 398.0,209.66 398.3,212.11 398.7,207.49 399.0,209.46 399.3,206.89 399.6,208.02 400.0,209.52 400.3,210.75 400.6,209.20 401.0,210.41 401.3,209.23 401.6,212.27 402.0,209.70 402.3,212.96 402.6,212.73 402.9,209.18 403.3,210.84 403.6,209.76 403.9,212.20 404.3,210.93 404.6,212.71 404.9,210.12 405.3,209.78 405.6,209.19 405.9,210.41 406.2,210.84 406.6,210.41 406.9,210.73 407.2,211.31 407.6,210.18 407.9,209.33 408.2,208.84 408.6,209.42 408.9,209.87 409.2,211.70 409.5,211.55 409.9,209.43 410.2,210.98 410.5,209.19 410.9,211.24 411.2,208.27 411.5,211.50 411.9,210.17 412.2,210.63 412.5,210.12 412.8,208.91 413.2,210.42 413.5,210.42 413.8,211.41 414.2,211.33 414.5,212.09 414.8,211.10 415.2,208.91 415.5,211.23 415.8,208.74 416.1,209.31 416.5,210.34 416.8,209.22 417.1,209.85 417.5,211.65 417.8,209.56 418.1,209.02 418.5,208.78 418.8,214.06 419.1,209.99 419.4,210.40 419.8,210.53 420.1,211.85 420.4,209.64 420.8,209.11 421.1,209.75 421.4,209.21 421.8,208.27 422.1,207.76 422.4,210.28 422.7,209.93 423.1,212.20 423.4,209.78 423.7,209.97 424.1,211.88 424.4,208.28 424.7,211.27 425.1,209.26 425.4,208.84 425.7,210.83 426.0,210.51 426.4,208.90 426.7,210.77 427.0,212.57 427.4,211.63 427.7,210.59 428.0,209.66 428.4,210.28 428.7,211.03 429.0,210.18 429.3,211.08 429.7,211.64 430.0,208.50 430.3,210.56 430.7,211.08 431.0,210.03 431.3,209.63 431.7,212.38 432.0,210.39 432.3,210.24 432.6,209.64 433.0,209.93 433.3,209.96 433.6,210.12 434.0,208.25 434.3,208.06 434.6,209.39 435.0,209.83 435.3,209.62 435.6,211.27 435.9,210.42 436.3,211.33 436.6,210.54 436.9,207.38 437.3,210.91 437.6,212.31 437.9,210.62 438.3,210.15 438.6,208.76 438.9,210.44 439.2,208.76 439.6,207.84 439.9,210.47 440.2,211.32 440.6,209.84 440.9,209.83 441.2,209.29 441.6,212.16 441.9,210.59 442.2,209.47 442.5,209.43 442.9,209.99 443.2,211.08 443.5,208.77 443.9,208.05 444.2,209.26 444.5,208.13 444.9,205.59 445.2,206.10 445.5,204.45 445.8,202.83 446.2,202.75 446.5,203.48 446.8,206.65 447.2,206.74 447.5,207.92 447.8,206.93 448.2,207.78 448.5,207.06 448.8,207.09 449.1,209.15 449.5,210.79 449.8,208.69 450.1,207.96 450.5,207.87 450.8,207.89 451.1,206.45 451.5,206.20 451.8,206.97 452.1,208.05 452.4,205.87 452.8,203.61 453.1,206.80 453.4,206.30 453.8,205.16 454.1,205.13 454.4,202.47 454.8,205.84 455.1,207.10 455.4,208.35 455.7,207.84 456.1,206.82 456.4,207.76 456.7,208.64 457.1,209.54 457.4,209.36 457.7,210.00 458.1,206.59 458.4,209.31 458.7,209.56 459.0,208.06 459.4,209.49 459.7,208.60 460.0,207.63 460.4,207.64 460.7,210.10 461.0,210.34 461.4,211.01 461.7,210.58 462.0,210.09 462.3,208.06 462.7,209.09 463.0,209.23 463.3,212.05 463.7,208.33 464.0,207.56 464.3,208.04 464.7,210.61 465.0,208.64 465.3,210.23 465.6,208.74 466.0,210.48 466.3,207.19 466.6,208.48 467.0,209.83 467.3,208.67 467.6,207.80 468.0,210.56 468.3,206.85 468.6,207.39 468.9,209.97 469.3,210.57 469.6,208.02 469.9,205.99 470.3,205.65 470.6,206.01 470.9,206.90 471.3,208.56 471.6,207.83 471.9,207.52 472.2,205.46 472.6,206.88 472.9,206.98 473.2,207.00 473.6,205.92 473.9,205.61 474.2,207.87 474.6,208.72 474.9,206.68 475.2,207.65 475.5,208.98 475.9,209.88 476.2,210.33 476.5,208.35 476.9,209.88 477.2,206.77 477.5,205.52 477.9,208.00 478.2,209.14 478.5,206.91 478.8,208.68 479.2,209.26 479.5,209.10 479.8,209.58 480.2,210.67 480.5,208.89 480.8,208.61 481.2,210.00 481.5,210.66 481.8,208.82 482.1,211.06 482.5,210.26 482.8,208.71 483.1,208.98 483.5,208.02 483.8,209.75 484.1,208.98 484.5,210.73 484.8,204.31 485.1,205.08 485.4,205.33 485.8,206.10 486.1,205.05 486.4,205.31 486.8,207.61 487.1,207.36 487.4,208.76 487.8,210.05 488.1,210.24 488.4,207.07 488.7,208.15 489.1,209.79 489.4,209.06 489.7,208.36 490.1,210.14 490.4,209.60 490.7,210.10 491.1,210.63 491.4,209.09 491.7,210.80 492.0,209.80 492.4,209.91 492.7,210.74 493.0,207.30 493.4,207.09 493.7,207.90 494.0,210.55 494.4,209.67 494.7,208.68 495.0,207.93 495.3,207.17 495.7,209.73 496.0,209.49 496.3,210.03 496.7,210.71 497.0,209.99 497.3,211.23 497.7,209.11 498.0,211.42 498.3,210.06 498.6,208.75 499.0,209.76 499.3,212.18 499.6,207.84 500.0,208.44 500.3,208.76 500.6,209.53 501.0,209.54 501.3,211.75 501.6,209.18 501.9,210.06 502.3,208.51 502.6,207.67 502.9,208.84 503.3,208.81 503.6,210.02 503.9,210.75 504.3,208.50 504.6,210.17 504.9,207.62 505.2,210.76 505.6,206.66 505.9,207.60 506.2,208.45 506.6,207.43 506.9,206.30 507.2,208.28 507.6,206.03 507.9,208.01 508.2,204.83 508.5,207.58 508.9,207.12 509.2,206.41 509.5,206.68 509.9,204.84 510.2,204.86 510.5,206.22 510.9,203.50 511.2,204.48 511.5,204.81 511.8,205.07 512.2,205.16 512.5,202.83 512.8,206.21 513.2,207.17 513.5,208.73 513.8,208.39 514.2,206.82 514.5,207.32 514.8,206.72 515.1,207.59 515.5,207.58 515.8,209.88 516.1,209.20 516.5,209.45 516.8,208.29 517.1,208.62 517.5,209.47 517.8,207.94 518.1,209.63 518.4,210.11 518.8,208.30 519.1,208.90 519.4,208.02 519.8,211.17 520.1,209.81 520.4,210.48 520.8,208.75 521.1,207.82 521.4,208.87 521.7,210.82 522.1,211.07 522.4,209.72 522.7,208.32 523.1,208.33 523.4,208.28 523.7,204.60 524.1,205.62 524.4,202.78 524.7,204.28 525.0,205.98 525.4,206.67 525.7,207.55 526.0,209.75 526.4,208.13 526.7,208.36 527.0,207.90 527.4,209.49 527.7,210.36 528.0,209.21 528.3,207.02 528.7,210.04 529.0,210.39 529.3,208.54 529.7,209.30 530.0,209.66 530.3,208.74 530.7,210.05 531.0,209.82 531.3,208.08 531.6,206.06 532.0,208.52 532.3,211.71 532.6,211.51 533.0,209.47 533.3,208.57 533.6,211.77 534.0,211.03 534.3,211.75 534.6,212.50 534.9,210.68 535.3,210.07 535.6,209.01 535.9,210.06 536.3,208.80 536.6,211.34 536.9,209.94 537.3,212.08 537.6,209.76 537.9,210.57 538.2,209.16 538.6,211.14 538.9,209.19 539.2,211.81 539.6,210.82 539.9,207.67 540.2,208.23 540.6,210.38 540.9,210.27 541.2,212.75 541.5,209.18 541.9,209.88 542.2,210.23 542.5,210.67 542.9,212.53 543.2,210.16 543.5,208.29 543.9,212.28 544.2,210.87 544.5,208.34 544.8,209.31 545.2,209.89 545.5,210.55 545.8,211.41 546.2,210.07 546.5,209.60 546.8,209.06 547.2,210.12 547.5,210.53 547.8,210.89 548.1,207.56 548.5,209.15 548.8,211.14 549.1,212.79 549.5,211.63 549.8,207.40 550.1,207.82 550.5,211.11 550.8,210.62 551.1,210.76 551.4,213.07 551.8,209.38 552.1,212.08 552.4,210.76 552.8,209.66 553.1,207.71 553.4,209.01 553.8,212.54 554.1,210.91 554.4,211.74 554.7,211.46 555.1,210.55 555.4,211.78 555.7,211.14 556.1,210.44 556.4,210.21 556.7,209.74 557.1,211.03 557.4,210.58 557.7,212.17 558.0,210.35 558.4,209.40 558.7,208.24"/>
<polyline fill="none" stroke="#8ecbdc" stroke-width="1.45" stroke-linejoin="round" points="129.7,244.90 130.2,245.05 130.7,244.04 131.2,243.10 131.7,243.23 132.2,242.38 132.7,241.74 133.2,240.58 133.7,239.13 134.2,237.14 134.7,234.96 135.2,232.93 135.7,230.53 136.2,229.10 136.7,228.12 137.2,228.79 137.7,230.33 138.2,232.84 138.7,234.78 139.2,236.87 139.7,239.13 140.2,240.54 140.7,241.51 141.2,242.19 141.7,243.10 142.2,243.79 142.7,244.19 143.2,244.19 143.7,244.52 144.2,244.22 144.7,244.70 145.2,244.76 145.7,245.18 146.2,245.21 146.7,245.84 147.2,245.48 147.7,245.31 148.2,244.71 148.7,244.98 149.2,245.63 149.7,245.44 150.2,245.75 150.7,245.46 151.2,245.66 151.7,245.44 152.2,245.73 152.7,245.90 153.2,245.89 153.7,245.43 154.2,245.30 154.7,245.77 155.2,245.82 155.7,245.82 156.2,245.45 156.7,245.82 157.2,245.63 157.7,245.36 158.2,245.55 158.7,245.91 159.2,245.77 159.7,245.70 160.2,245.63 160.7,245.56 161.2,245.85 161.7,245.46 162.2,244.88 162.7,244.69 163.2,244.67 163.7,244.31 164.2,243.09 164.7,238.89 165.2,233.26 165.7,232.36 166.2,238.40 166.7,242.84 167.2,244.07 167.7,244.69 168.2,245.04 168.7,245.73 169.2,245.82 169.7,245.69 170.2,245.17 170.7,245.29 171.2,245.07 171.7,245.32 172.2,245.46 172.7,245.48 173.2,244.90 173.7,244.53 174.2,243.74 174.7,242.16 175.2,238.84 175.7,229.91 176.2,222.28 176.7,229.26 177.2,236.40 177.7,238.17 178.2,236.24 178.7,235.26 179.2,238.85 179.7,242.17 180.2,244.03 180.7,244.39 181.2,244.80 181.7,244.94 182.2,245.60 182.7,245.68 183.2,245.76 183.7,245.43 184.2,244.89 184.7,245.33 185.2,245.72 185.7,245.82 186.2,246.09 186.7,246.11 187.2,245.75 187.7,245.89 188.2,245.42 188.7,245.78 189.2,245.31 189.7,245.71 190.2,245.26 190.7,245.94 191.2,246.31 191.7,245.94 192.2,246.11 192.7,246.05 193.2,245.05 193.7,245.15 194.2,245.68 194.7,245.53 195.2,245.84 195.7,246.71 196.2,246.58 196.7,246.11 197.2,245.74 197.7,245.99 198.2,245.98 198.7,245.93 199.2,246.19 199.7,245.50 200.2,246.15 200.7,245.90 201.2,246.17 201.7,245.84 202.2,245.62 202.7,245.61 203.2,245.87 203.7,246.11 204.2,246.78 204.7,246.43 205.2,245.80 205.7,245.44 206.2,245.76 206.7,245.83 207.2,245.31 207.7,245.72 208.2,246.07 208.7,245.56 209.2,245.26 209.7,245.90 210.2,246.16 210.7,245.70 211.2,245.73 211.7,245.98 212.2,245.76 212.7,245.36 213.2,245.37 213.7,245.43 214.2,245.50 214.7,245.65 215.2,245.12 215.7,245.28 216.2,245.00 216.7,244.45 217.2,244.88 217.7,244.36 218.2,242.96 218.7,241.39 219.2,241.40 219.7,242.73 220.2,243.26 220.7,243.42 221.2,243.43 221.7,242.69 222.2,242.14 222.7,241.68 223.2,240.41 223.7,239.89 224.2,238.89 224.7,238.16 225.2,237.15 225.7,237.89 226.2,238.24 226.7,238.99 227.2,239.34 227.7,239.97 228.2,241.04 228.7,241.34 229.2,241.54 229.7,241.66 230.2,241.49 230.7,240.83 231.2,240.90 231.7,240.92 232.2,241.35 232.7,240.96 233.2,240.05 233.7,239.73 234.2,240.21 234.7,240.31 235.2,240.40 235.7,239.99 236.2,240.70 236.7,240.73 237.2,241.15 237.7,241.17 238.2,241.19 238.7,241.49 239.2,242.13 239.7,241.53 240.2,242.76 240.7,243.12 241.2,243.06 241.7,243.60 242.2,243.59 242.7,243.48 243.2,243.95 243.7,244.41 244.2,244.41 244.7,244.38 245.2,244.88 245.7,245.12 246.2,245.30 246.7,245.21 247.2,245.45 247.7,244.98 248.2,244.91 248.7,244.77 249.2,245.15 249.7,245.29 250.2,245.22 250.7,245.00 251.2,245.42 251.7,244.82 252.2,244.73 252.7,244.41 253.2,245.36 253.7,245.38 254.2,244.97 254.7,244.73 255.2,243.89 255.7,242.89 256.2,240.70 256.7,236.43 257.2,231.62 257.7,234.04 258.2,238.90 258.7,241.88 259.2,243.50 259.7,243.75 260.2,243.10 260.7,240.95 261.2,237.63 261.7,235.32 262.2,237.38 262.7,238.42 263.2,236.77 263.7,237.71 264.2,241.16 264.7,243.95 265.2,244.55 265.7,245.05 266.2,245.36 266.7,246.07 267.2,245.68 267.7,245.92 268.2,245.99 268.7,245.85 269.2,245.64 269.7,245.33 270.2,245.96 270.7,246.47 271.2,246.20 271.7,246.46 272.2,246.19 272.7,246.09 273.2,245.72 273.7,245.77 274.2,246.00 274.7,246.08 275.2,245.45 275.7,245.26 276.2,245.57 276.7,245.64 277.2,245.80 277.7,245.93 278.2,245.29 278.7,245.31 279.2,243.95 279.7,241.26 280.2,237.96 280.7,239.24 281.2,242.45 281.7,244.09 282.2,244.79 282.7,244.67 283.2,244.19 283.7,243.97 284.2,242.65 284.7,240.15 285.2,237.75 285.7,239.30 286.2,242.63 286.7,244.59 287.2,245.01 287.7,245.45 288.2,245.33 288.7,245.39 289.2,245.56 289.7,245.37 290.2,245.48 290.7,245.21 291.2,244.90 291.7,244.68 292.2,244.30 292.7,242.16 293.2,239.99 293.7,240.93 294.2,242.63 294.7,243.54 295.2,243.15 295.7,241.09 296.2,238.62 296.7,238.45 297.2,241.27 297.7,243.43 298.2,244.61 298.7,244.51 299.2,244.70 299.7,243.75 300.2,241.48 300.7,239.48 301.2,240.17 301.7,242.87 302.2,244.32 302.7,244.81 303.2,245.23 303.7,245.61 304.2,245.76 304.7,245.80 305.2,245.52 305.7,245.63 306.2,245.64 306.7,245.54 307.2,245.56 307.7,245.06 308.2,245.24 308.7,245.48 309.2,245.61 309.7,245.81 310.2,245.64 310.7,245.98 311.2,245.38 311.7,245.88 312.2,245.18 312.7,244.81 313.2,244.59 313.7,243.69 314.2,240.60 314.7,236.67 315.2,240.81 315.7,243.95 316.2,244.48 316.7,245.20 317.2,245.11 317.7,245.03 318.2,245.14 318.7,244.93 319.2,245.02 319.7,244.37 320.2,244.62 320.7,244.17 321.2,244.12 321.7,243.74 322.2,243.91 322.7,243.41 323.2,243.02 323.7,242.18 324.2,241.74 324.7,241.96 325.2,242.05 325.7,241.39 326.2,240.85 326.7,241.39 327.2,240.99 327.7,241.15 328.2,240.89 328.7,241.03 329.2,241.31 329.7,240.79 330.2,241.18 330.7,241.33 331.2,240.74 331.7,238.95 332.2,236.17 332.7,231.51 333.2,230.88 333.7,235.10 334.2,239.70 334.7,242.33 335.2,243.47 335.7,243.83 336.2,243.72 336.7,243.35 337.2,242.29 337.7,239.77 338.2,236.83 338.7,238.39 339.2,241.81 339.7,243.68 340.2,244.65 340.7,244.98 341.2,245.04 341.7,245.75 342.2,245.68 342.7,245.26 343.2,245.24 343.7,245.42 344.2,245.43 344.7,245.42 345.2,245.73 345.7,245.64 346.2,245.60 346.7,246.16 347.2,245.85 347.7,245.84 348.2,245.45 348.7,245.43 349.2,245.60 349.7,246.14 350.2,246.15 350.7,245.88 351.2,245.85 351.7,245.95 352.2,245.70 352.7,245.88 353.2,246.15 353.7,245.80 354.2,246.08 354.7,245.99 355.2,246.00 355.7,245.99 356.2,246.25 356.7,246.30 357.2,246.09 357.7,245.57 358.2,245.99 358.7,246.26 359.2,245.68 359.7,245.48 360.2,245.88 360.7,246.11 361.2,245.69 361.7,245.97 362.2,245.90 362.7,245.95 363.2,246.05 363.7,245.88 364.2,245.77 364.7,246.01 365.2,246.36 365.7,246.16 366.2,246.00 366.7,245.53 367.2,245.43 367.7,245.26 368.2,245.69 368.7,245.60 369.2,245.18 369.7,244.80 370.2,244.06 370.7,243.65 371.2,243.65 371.7,243.29 372.2,243.83 372.7,244.33 373.2,244.06 373.7,244.54 374.2,245.56 374.7,245.81 375.2,246.12 375.7,246.20 376.2,245.88 376.7,246.43 377.2,246.41 377.7,246.27 378.2,246.04 378.7,245.80 379.2,245.62 379.7,245.45 380.2,245.58 380.7,245.69 381.2,245.91 381.7,245.65 382.2,245.41 382.7,245.73 383.2,245.31 383.7,245.69 384.2,245.90 384.7,245.31 385.2,245.26 385.7,245.57 386.2,245.78 386.7,245.21 387.2,244.75 387.7,244.39 388.2,243.36 388.7,242.86 389.2,242.98 389.7,242.87 390.2,242.92 390.7,243.23 391.2,243.73 391.7,243.73 392.2,244.30 392.7,244.98 393.2,245.63 393.7,245.67 394.2,245.65 394.7,245.48 395.2,245.84 395.7,246.05 396.2,246.12 396.7,246.10 397.2,246.49 397.7,245.88 398.2,246.15 398.7,245.68 399.2,245.68 399.7,246.18 400.2,245.98 400.7,245.87 401.2,246.23 401.7,246.80 402.2,246.09 402.7,246.08 403.2,246.43 403.7,246.21 404.2,246.71 404.7,245.93 405.2,246.08 405.7,246.41 406.2,246.13 406.7,245.93 407.2,245.74 407.7,246.10 408.2,246.39 408.7,246.09 409.2,245.96 409.7,246.54 410.2,246.53 410.7,246.38 411.2,246.10 411.7,246.00 412.2,246.45 412.7,246.25 413.2,246.07 413.7,246.13 414.2,246.33 414.7,246.44 415.2,246.20 415.7,246.01 416.2,245.83 416.7,246.02 417.2,246.12 417.7,246.25 418.2,246.16 418.7,246.02 419.2,246.15 419.7,246.33 420.2,246.17 420.7,246.10 421.2,246.06 421.7,246.07 422.2,246.27 422.7,246.32 423.2,246.09 423.7,246.09 424.2,246.27 424.7,246.43 425.2,246.45 425.7,245.85 426.2,246.19 426.7,245.99 427.2,246.20 427.7,246.35 428.2,246.41 428.7,245.79 429.2,245.71 429.7,244.78 430.2,244.85 430.7,244.12 431.2,244.01 431.7,243.66 432.2,243.51 432.7,243.95 433.2,244.03 433.7,244.34 434.2,244.79 434.7,245.23 435.2,245.69 435.7,245.61 436.2,245.49 436.7,245.46 437.2,246.08 437.7,246.19 438.2,246.22 438.7,246.02 439.2,246.44 439.7,246.49 440.2,246.78 440.7,246.23 441.2,246.46 441.7,246.65 442.2,246.20 442.7,246.13 443.2,246.03 443.7,246.13 444.2,246.41 444.7,246.23 445.2,246.06 445.7,246.77 446.2,246.22 446.7,246.48 447.2,246.33 447.7,246.43 448.2,246.45 448.7,246.51 449.2,246.58 449.7,246.69 450.2,246.04 450.7,245.70 451.2,245.54 451.7,245.56 452.2,246.10 452.7,245.63 453.2,245.64 453.7,246.12 454.2,246.10 454.7,246.00 455.2,245.32 455.7,245.51 456.2,245.59 456.7,245.96 457.2,246.03 457.7,246.15 458.2,246.46 458.7,246.78 459.2,245.72 459.7,245.62 460.2,245.40 460.7,244.74 461.2,244.17 461.7,244.34 462.2,244.31 462.7,244.27 463.2,244.11 463.7,244.05 464.2,244.77 464.7,245.75 465.2,245.97 465.7,245.59 466.2,245.99 466.7,246.44 467.2,246.43 467.7,245.89 468.2,246.00 468.7,246.03 469.2,245.94 469.7,246.48 470.2,245.81 470.7,246.26 471.2,246.53 471.7,246.44 472.2,246.31 472.7,245.64 473.2,246.12 473.7,246.33 474.2,246.25 474.7,245.87 475.2,246.04 475.7,246.08 476.2,246.54 476.7,246.14 477.2,246.16 477.7,246.18 478.2,246.28 478.7,246.80 479.2,246.78 479.7,246.42 480.2,246.15 480.7,246.00 481.2,245.71 481.7,246.18 482.2,246.33 482.7,246.16 483.2,246.05 483.7,246.56 484.2,246.54 484.7,246.42 485.2,246.70 485.7,246.50 486.2,246.73 486.7,246.28 487.2,246.20 487.7,246.09 488.2,246.36 488.7,246.09 489.2,246.21 489.7,246.09 490.2,245.95 490.7,246.55 491.2,246.15 491.7,245.40 492.2,244.87 492.7,243.64 493.2,242.65 493.7,243.59 494.2,244.57 494.7,245.31 495.2,245.77 495.7,246.04 496.2,246.14 496.7,246.05 497.2,246.01 497.7,245.88 498.2,245.46 498.7,245.76 499.2,246.14 499.7,246.07 500.2,245.43 500.7,244.87 501.2,244.81 501.7,243.93 502.2,243.28 502.7,242.80 503.2,242.79 503.7,243.99 504.2,243.96 504.7,243.61 505.2,244.33 505.7,244.64 506.2,245.38 506.7,245.17 507.2,245.03 507.7,245.10 508.2,244.48 508.7,242.53 509.2,241.14 509.7,241.27 510.2,243.26 510.7,244.53 511.2,245.21 511.7,245.48 512.2,246.16 512.7,246.00 513.2,246.39 513.7,246.40 514.2,245.84 514.7,246.01 515.2,246.14 515.7,245.87 516.2,246.09 516.7,246.16 517.2,245.72 517.7,246.01 518.2,246.21 518.7,246.01 519.2,245.86 519.7,245.68 520.2,245.99 520.7,246.02 521.2,245.87 521.7,245.85 522.2,244.88 522.7,243.75 523.2,243.22 523.7,243.24 524.2,244.44 524.7,245.40 525.2,245.47 525.7,245.68 526.2,246.32 526.7,245.65 527.2,246.00 527.7,246.57 528.2,246.18 528.7,246.37 529.2,246.23 529.7,246.89 530.2,246.46 530.7,246.44 531.2,246.03 531.7,246.48 532.2,246.52 532.7,246.28 533.2,246.48 533.7,246.34 534.2,246.40 534.7,246.19 535.2,246.11 535.7,246.00 536.2,246.38 536.7,246.27 537.2,246.24 537.7,246.77 538.2,246.45 538.7,246.27 539.2,246.20 539.7,246.58 540.2,246.41 540.7,246.12 541.2,246.28 541.7,246.52 542.2,246.50 542.7,246.76 543.2,246.85 543.7,247.00 544.2,246.31 544.7,246.30 545.2,246.29 545.7,246.29 546.2,246.36 546.7,246.33 547.2,246.53 547.7,246.09 548.2,246.36 548.7,246.62 549.2,246.70 549.7,246.46 550.2,246.47 550.7,246.45 551.2,246.51 551.7,246.41 552.2,246.66 552.7,246.93 553.2,247.03 553.7,246.47 554.2,246.62 554.7,246.54 555.2,246.50 555.7,246.30 556.2,246.43 556.7,246.56 557.2,246.41 557.7,246.36 558.2,246.72 558.7,246.51"/>
<polyline fill="none" stroke="#3b8fc7" stroke-width="1.45" stroke-linejoin="round" points="129.7,267.36 130.2,267.39 130.7,267.29 131.2,267.19 131.7,267.44 132.2,267.22 132.7,267.00 133.2,267.43 133.7,267.05 134.2,266.62 134.7,266.70 135.2,266.35 135.7,266.03 136.2,265.18 136.7,264.68 137.2,264.14 137.7,264.48 138.2,265.43 138.7,266.02 139.2,266.87 139.7,266.73 140.2,266.95 140.7,266.89 141.2,267.56 141.7,267.28 142.2,266.90 142.7,267.27 143.2,267.35 143.7,267.99 144.2,267.76 144.7,267.28 145.2,267.57 145.7,267.55 146.2,267.32 146.7,267.28 147.2,267.27 147.7,267.15 148.2,267.41 148.7,267.30 149.2,267.35 149.7,267.28 150.2,267.32 150.7,267.93 151.2,267.66 151.7,267.79 152.2,268.21 152.7,267.53 153.2,267.13 153.7,266.82 154.2,266.96 154.7,267.43 155.2,266.95 155.7,266.77 156.2,267.30 156.7,267.49 157.2,267.78 157.7,267.16 158.2,267.45 158.7,266.88 159.2,267.61 159.7,267.46 160.2,267.18 160.7,267.63 161.2,267.46 161.7,267.45 162.2,267.34 162.7,267.50 163.2,267.21 163.7,266.49 164.2,265.78 164.7,264.20 165.2,261.62 165.7,261.12 166.2,264.01 166.7,265.82 167.2,266.52 167.7,267.07 168.2,267.40 168.7,267.55 169.2,267.84 169.7,267.82 170.2,267.44 170.7,268.07 171.2,267.90 171.7,267.51 172.2,267.47 172.7,267.45 173.2,267.15 173.7,267.07 174.2,267.21 174.7,266.95 175.2,266.39 175.7,266.97 176.2,266.45 176.7,266.54 177.2,265.65 177.7,263.88 178.2,261.95 178.7,261.94 179.2,264.16 179.7,266.03 180.2,266.71 180.7,266.73 181.2,266.80 181.7,266.95 182.2,267.30 182.7,267.46 183.2,267.54 183.7,267.28 184.2,267.11 184.7,267.64 185.2,268.21 185.7,267.89 186.2,267.21 186.7,267.50 187.2,267.37 187.7,267.31 188.2,267.24 188.7,267.03 189.2,266.93 189.7,267.34 190.2,267.08 190.7,267.13 191.2,267.23 191.7,267.35 192.2,267.24 192.7,267.27 193.2,267.25 193.7,267.43 194.2,267.56 194.7,267.82 195.2,267.57 195.7,267.27 196.2,267.53 196.7,267.61 197.2,267.22 197.7,267.03 198.2,266.78 198.7,267.63 199.2,267.55 199.7,267.63 200.2,266.85 200.7,266.61 201.2,267.22 201.7,267.12 202.2,267.27 202.7,267.16 203.2,267.47 203.7,267.25 204.2,267.27 204.7,267.39 205.2,267.17 205.7,267.23 206.2,267.59 206.7,267.33 207.2,267.35 207.7,267.41 208.2,267.34 208.7,267.50 209.2,267.85 209.7,267.55 210.2,266.75 210.7,266.45 211.2,266.66 211.7,266.29 212.2,266.19 212.7,266.61 213.2,266.78 213.7,267.09 214.2,267.31 214.7,267.60 215.2,266.87 215.7,266.72 216.2,266.95 216.7,267.07 217.2,266.56 217.7,265.90 218.2,264.94 218.7,264.71 219.2,264.21 219.7,265.45 220.2,266.39 220.7,266.65 221.2,266.32 221.7,266.11 222.2,265.44 222.7,265.50 223.2,265.13 223.7,264.95 224.2,264.09 224.7,263.44 225.2,262.75 225.7,262.58 226.2,261.42 226.7,260.33 227.2,259.84 227.7,259.50 228.2,260.17 228.7,260.55 229.2,260.72 229.7,261.09 230.2,261.25 230.7,262.26 231.2,262.38 231.7,262.86 232.2,262.36 232.7,262.47 233.2,262.54 233.7,262.37 234.2,262.09 234.7,262.30 235.2,262.22 235.7,262.17 236.2,262.23 236.7,263.03 237.2,263.16 237.7,263.46 238.2,263.56 238.7,263.66 239.2,263.51 239.7,263.83 240.2,263.08 240.7,262.03 241.2,261.66 241.7,262.24 242.2,262.98 242.7,264.29 243.2,264.99 243.7,265.42 244.2,265.72 244.7,266.03 245.2,266.49 245.7,266.51 246.2,266.42 246.7,266.77 247.2,266.81 247.7,266.87 248.2,267.22 248.7,266.81 249.2,266.53 249.7,266.83 250.2,266.73 250.7,267.16 251.2,267.15 251.7,266.95 252.2,267.07 252.7,266.85 253.2,266.69 253.7,266.28 254.2,266.17 254.7,266.66 255.2,267.05 255.7,266.12 256.2,265.49 256.7,264.01 257.2,262.73 257.7,263.16 258.2,264.86 258.7,265.81 259.2,265.73 259.7,265.26 260.2,263.73 260.7,260.93 261.2,258.75 261.7,261.09 262.2,264.01 262.7,265.31 263.2,266.14 263.7,266.71 264.2,266.85 264.7,267.02 265.2,266.57 265.7,266.59 266.2,266.71 266.7,266.98 267.2,266.77 267.7,266.71 268.2,266.95 268.7,266.72 269.2,266.50 269.7,266.69 270.2,266.42 270.7,266.02 271.2,264.68 271.7,261.55 272.2,257.99 272.7,258.68 273.2,262.57 273.7,264.98 274.2,266.25 274.7,266.37 275.2,266.72 275.7,267.07 276.2,266.51 276.7,266.54 277.2,267.10 277.7,267.25 278.2,267.29 278.7,267.24 279.2,267.13 279.7,266.64 280.2,266.49 280.7,266.02 281.2,264.32 281.7,262.14 282.2,261.37 282.7,263.44 283.2,264.69 283.7,264.01 284.2,262.52 284.7,261.32 285.2,263.03 285.7,265.08 286.2,266.07 286.7,266.39 287.2,267.08 287.7,267.17 288.2,266.74 288.7,266.97 289.2,267.34 289.7,267.25 290.2,267.20 290.7,267.07 291.2,267.38 291.7,266.92 292.2,267.35 292.7,267.53 293.2,266.99 293.7,267.33 294.2,267.16 294.7,266.66 295.2,266.59 295.7,266.24 296.2,264.48 296.7,262.54 297.2,262.20 297.7,264.12 298.2,265.62 298.7,266.19 299.2,266.39 299.7,266.13 300.2,265.13 300.7,262.63 301.2,261.26 301.7,262.65 302.2,264.96 302.7,265.79 303.2,266.57 303.7,267.01 304.2,267.08 304.7,266.80 305.2,266.80 305.7,266.61 306.2,266.90 306.7,266.73 307.2,267.14 307.7,267.07 308.2,267.12 308.7,267.07 309.2,267.00 309.7,266.98 310.2,266.61 310.7,266.15 311.2,266.51 311.7,265.91 312.2,265.70 312.7,264.87 313.2,263.62 313.7,262.05 314.2,260.58 314.7,259.88 315.2,260.48 315.7,261.92 316.2,263.53 316.7,264.73 317.2,265.30 317.7,265.82 318.2,265.77 318.7,265.94 319.2,265.91 319.7,266.35 320.2,266.67 320.7,266.69 321.2,266.29 321.7,266.63 322.2,266.27 322.7,266.28 323.2,266.36 323.7,266.75 324.2,266.52 324.7,266.77 325.2,266.35 325.7,265.79 326.2,265.66 326.7,265.41 327.2,264.31 327.7,263.47 328.2,262.44 328.7,260.88 329.2,259.13 329.7,257.51 330.2,255.30 330.7,253.98 331.2,253.98 331.7,254.86 332.2,256.52 332.7,257.39 333.2,258.66 333.7,258.26 334.2,258.47 334.7,259.55 335.2,261.01 335.7,261.91 336.2,261.55 336.7,260.70 337.2,259.76 337.7,260.59 338.2,262.40 338.7,263.62 339.2,264.12 339.7,264.19 340.2,264.17 340.7,264.46 341.2,264.63 341.7,264.26 342.2,263.82 342.7,263.91 343.2,263.25 343.7,262.87 344.2,262.74 344.7,262.77 345.2,262.88 345.7,262.69 346.2,262.83 346.7,263.60 347.2,263.97 347.7,264.32 348.2,264.65 348.7,264.84 349.2,265.36 349.7,265.12 350.2,265.25 350.7,265.64 351.2,265.46 351.7,265.23 352.2,265.09 352.7,264.76 353.2,264.97 353.7,264.71 354.2,264.75 354.7,264.92 355.2,264.82 355.7,264.78 356.2,264.98 356.7,265.25 357.2,265.70 357.7,265.17 358.2,265.54 358.7,265.79 359.2,266.21 359.7,266.25 360.2,266.48 360.7,266.95 361.2,266.68 361.7,266.67 362.2,266.34 362.7,266.12 363.2,266.08 363.7,266.45 364.2,265.81 364.7,265.80 365.2,266.24 365.7,265.62 366.2,265.14 366.7,264.74 367.2,264.35 367.7,264.61 368.2,264.76 368.7,264.44 369.2,264.77 369.7,265.52 370.2,265.46 370.7,266.01 371.2,266.55 371.7,266.07 372.2,266.24 372.7,266.14 373.2,266.06 373.7,266.98 374.2,267.03 374.7,266.85 375.2,266.99 375.7,266.74 376.2,266.54 376.7,266.72 377.2,266.74 377.7,266.81 378.2,267.25 378.7,266.86 379.2,266.77 379.7,267.12 380.2,267.35 380.7,267.61 381.2,267.22 381.7,266.74 382.2,266.89 382.7,267.32 383.2,267.07 383.7,267.36 384.2,267.61 384.7,266.81 385.2,266.68 385.7,267.04 386.2,267.22 386.7,267.33 387.2,266.85 387.7,267.25 388.2,267.07 388.7,266.72 389.2,267.07 389.7,267.42 390.2,267.67 390.7,267.18 391.2,267.28 391.7,266.96 392.2,267.42 392.7,267.39 393.2,267.56 393.7,266.88 394.2,266.73 394.7,266.80 395.2,267.56 395.7,267.09 396.2,266.66 396.7,266.96 397.2,267.43 397.7,267.46 398.2,267.29 398.7,266.87 399.2,266.98 399.7,266.59 400.2,266.73 400.7,267.34 401.2,267.47 401.7,267.10 402.2,266.65 402.7,266.82 403.2,267.14 403.7,267.57 404.2,267.04 404.7,266.71 405.2,266.75 405.7,266.87 406.2,266.99 406.7,267.21 407.2,267.68 407.7,267.02 408.2,266.64 408.7,267.29 409.2,266.98 409.7,266.89 410.2,266.99 410.7,267.22 411.2,267.24 411.7,267.27 412.2,267.08 412.7,267.07 413.2,266.78 413.7,266.73 414.2,266.85 414.7,266.84 415.2,266.52 415.7,266.70 416.2,267.36 416.7,267.48 417.2,267.54 417.7,267.38 418.2,267.27 418.7,267.34 419.2,266.95 419.7,266.51 420.2,266.36 420.7,266.37 421.2,266.22 421.7,265.86 422.2,265.60 422.7,265.46 423.2,265.34 423.7,265.99 424.2,265.61 424.7,265.13 425.2,265.84 425.7,265.78 426.2,266.04 426.7,266.37 427.2,266.72 427.7,266.66 428.2,266.77 428.7,266.91 429.2,267.47 429.7,266.98 430.2,266.63 430.7,266.57 431.2,266.90 431.7,266.90 432.2,267.07 432.7,267.10 433.2,266.76 433.7,266.96 434.2,266.82 434.7,266.77 435.2,266.74 435.7,266.89 436.2,266.80 436.7,266.79 437.2,266.83 437.7,266.74 438.2,267.35 438.7,267.24 439.2,266.96 439.7,267.00 440.2,266.75 440.7,266.85 441.2,266.54 441.7,266.83 442.2,266.91 442.7,266.83 443.2,266.98 443.7,266.64 444.2,266.79 444.7,266.90 445.2,266.82 445.7,266.69 446.2,266.97 446.7,266.71 447.2,266.41 447.7,265.92 448.2,265.84 448.7,265.65 449.2,265.97 449.7,265.33 450.2,264.73 450.7,264.79 451.2,264.53 451.7,263.81 452.2,263.76 452.7,264.06 453.2,263.41 453.7,263.48 454.2,264.14 454.7,263.57 455.2,263.34 455.7,263.70 456.2,264.37 456.7,264.83 457.2,264.67 457.7,264.69 458.2,265.55 458.7,265.70 459.2,265.76 459.7,265.92 460.2,266.52 460.7,266.34 461.2,266.08 461.7,266.21 462.2,266.39 462.7,266.27 463.2,266.61 463.7,267.14 464.2,267.20 464.7,267.25 465.2,267.23 465.7,267.03 466.2,266.94 466.7,266.54 467.2,267.10 467.7,267.20 468.2,267.09 468.7,267.00 469.2,266.68 469.7,266.71 470.2,266.52 470.7,266.76 471.2,266.86 471.7,266.87 472.2,267.22 472.7,266.84 473.2,267.03 473.7,267.02 474.2,266.94 474.7,267.08 475.2,267.00 475.7,266.83 476.2,267.11 476.7,266.78 477.2,266.72 477.7,266.21 478.2,266.07 478.7,266.33 479.2,266.59 479.7,265.56 480.2,265.22 480.7,265.20 481.2,265.26 481.7,265.46 482.2,265.76 482.7,265.68 483.2,265.96 483.7,266.01 484.2,266.00 484.7,266.22 485.2,266.61 485.7,266.77 486.2,267.10 486.7,266.92 487.2,266.78 487.7,266.55 488.2,266.70 488.7,267.05 489.2,267.21 489.7,267.45 490.2,267.00 490.7,267.19 491.2,266.96 491.7,266.44 492.2,266.66 492.7,267.06 493.2,266.97 493.7,266.95 494.2,267.34 494.7,267.11 495.2,267.20 495.7,267.29 496.2,267.05 496.7,267.18 497.2,266.78 497.7,266.74 498.2,267.38 498.7,267.53 499.2,267.29 499.7,266.87 500.2,266.85 500.7,266.69 501.2,266.70 501.7,266.94 502.2,266.90 502.7,267.12 503.2,266.50 503.7,266.53 504.2,266.32 504.7,266.35 505.2,267.05 505.7,266.89 506.2,266.29 506.7,265.86 507.2,265.34 507.7,264.35 508.2,262.78 508.7,262.31 509.2,262.52 509.7,262.11 510.2,263.46 510.7,264.22 511.2,264.77 511.7,265.39 512.2,265.90 512.7,266.07 513.2,266.79 513.7,266.50 514.2,266.48 514.7,267.18 515.2,266.95 515.7,266.99 516.2,267.32 516.7,267.54 517.2,267.00 517.7,266.83 518.2,266.50 518.7,266.88 519.2,267.23 519.7,266.59 520.2,266.26 520.7,265.89 521.2,265.67 521.7,265.33 522.2,265.12 522.7,264.47 523.2,263.53 523.7,264.18 524.2,265.09 524.7,265.59 525.2,265.79 525.7,266.46 526.2,266.42 526.7,266.33 527.2,266.31 527.7,266.41 528.2,266.82 528.7,267.04 529.2,266.45 529.7,266.46 530.2,267.21 530.7,267.02 531.2,267.67 531.7,267.25 532.2,266.80 532.7,267.35 533.2,267.36 533.7,266.70 534.2,267.04 534.7,267.41 535.2,266.83 535.7,267.19 536.2,267.38 536.7,267.78 537.2,267.60 537.7,267.04 538.2,266.72 538.7,266.98 539.2,267.16 539.7,267.13 540.2,266.98 540.7,266.95 541.2,267.43 541.7,267.09 542.2,266.95 542.7,267.19 543.2,267.22 543.7,267.24 544.2,267.44 544.7,266.98 545.2,267.24 545.7,267.44 546.2,267.11 546.7,267.22 547.2,267.39 547.7,267.36 548.2,267.14 548.7,266.78 549.2,266.86 549.7,267.11 550.2,267.08 550.7,267.04 551.2,266.91 551.7,266.71 552.2,267.18 552.7,267.02 553.2,267.71 553.7,268.08 554.2,267.59 554.7,267.32 555.2,266.98 555.7,266.85 556.2,267.07 556.7,267.44 557.2,267.15 557.7,266.78 558.2,267.28 558.7,267.09"/>
<polyline fill="none" stroke="#345f97" stroke-width="1.45" stroke-linejoin="round" points="129.7,291.62 130.2,291.39 130.7,291.13 131.2,291.23 131.7,291.49 132.2,291.30 132.7,291.60 133.2,291.22 133.7,291.51 134.2,290.84 134.7,290.76 135.2,291.15 135.7,291.17 136.2,290.44 136.7,290.03 137.2,288.96 137.7,288.26 138.2,288.37 138.7,289.17 139.2,289.19 139.7,289.28 140.2,289.61 140.7,290.60 141.2,291.10 141.7,291.04 142.2,291.15 142.7,291.10 143.2,291.60 143.7,291.43 144.2,290.93 144.7,291.16 145.2,291.65 145.7,291.28 146.2,290.69 146.7,291.09 147.2,291.05 147.7,290.63 148.2,291.43 148.7,291.76 149.2,291.26 149.7,291.09 150.2,291.24 150.7,291.23 151.2,291.36 151.7,291.42 152.2,290.95 152.7,291.29 153.2,291.86 153.7,291.44 154.2,291.40 154.7,291.40 155.2,291.05 155.7,291.03 156.2,291.87 156.7,291.40 157.2,291.08 157.7,291.45 158.2,291.16 158.7,290.94 159.2,290.96 159.7,290.74 160.2,290.87 160.7,291.33 161.2,291.15 161.7,291.03 162.2,291.33 162.7,291.07 163.2,290.50 163.7,289.92 164.2,289.75 164.7,289.07 165.2,285.80 165.7,280.42 166.2,276.69 166.7,281.94 167.2,286.84 167.7,289.10 168.2,289.23 168.7,289.52 169.2,289.50 169.7,289.07 170.2,289.20 170.7,289.08 171.2,288.50 171.7,287.65 172.2,287.93 172.7,288.06 173.2,288.07 173.7,288.06 174.2,287.38 174.7,286.69 175.2,285.70 175.7,285.64 176.2,286.18 176.7,286.00 177.2,286.22 177.7,285.60 178.2,284.62 178.7,282.92 179.2,283.41 179.7,285.67 180.2,287.87 180.7,288.85 181.2,289.91 181.7,290.44 182.2,289.76 182.7,290.42 183.2,290.88 183.7,291.24 184.2,291.30 184.7,291.34 185.2,291.33 185.7,291.41 186.2,291.21 186.7,291.13 187.2,290.92 187.7,291.14 188.2,291.31 188.7,291.67 189.2,291.13 189.7,291.33 190.2,291.29 190.7,291.42 191.2,291.67 191.7,291.37 192.2,291.13 192.7,291.42 193.2,291.69 193.7,291.59 194.2,291.54 194.7,291.13 195.2,291.56 195.7,291.26 196.2,291.07 196.7,291.35 197.2,291.06 197.7,291.51 198.2,291.84 198.7,291.31 199.2,291.20 199.7,291.71 200.2,291.72 200.7,291.58 201.2,290.88 201.7,291.17 202.2,291.82 202.7,291.26 203.2,291.23 203.7,291.41 204.2,291.44 204.7,291.18 205.2,290.67 205.7,291.29 206.2,291.12 206.7,291.62 207.2,291.68 207.7,291.11 208.2,291.39 208.7,291.88 209.2,291.93 209.7,291.63 210.2,291.21 210.7,291.29 211.2,291.09 211.7,291.61 212.2,291.47 212.7,291.44 213.2,290.50 213.7,290.78 214.2,290.88 214.7,290.83 215.2,290.66 215.7,290.96 216.2,290.79 216.7,291.27 217.2,290.72 217.7,290.44 218.2,290.28 218.7,290.34 219.2,289.69 219.7,288.04 220.2,286.11 220.7,286.78 221.2,288.06 221.7,288.93 222.2,288.96 222.7,288.99 223.2,288.41 223.7,288.21 224.2,287.62 224.7,287.10 225.2,286.00 225.7,285.04 226.2,283.66 226.7,282.37 227.2,281.03 227.7,279.96 228.2,279.75 228.7,279.80 229.2,280.58 229.7,281.21 230.2,282.46 230.7,283.40 231.2,283.71 231.7,284.00 232.2,284.75 232.7,285.44 233.2,285.48 233.7,285.70 234.2,285.32 234.7,285.25 235.2,285.27 235.7,284.96 236.2,284.59 236.7,284.34 237.2,284.23 237.7,284.06 238.2,284.27 238.7,284.26 239.2,285.26 239.7,284.96 240.2,284.84 240.7,285.02 241.2,285.67 241.7,286.43 242.2,286.73 242.7,287.38 243.2,287.29 243.7,287.27 244.2,287.58 244.7,287.71 245.2,287.82 245.7,287.72 246.2,287.95 246.7,287.81 247.2,288.47 247.7,288.78 248.2,289.01 248.7,289.17 249.2,289.62 249.7,289.87 250.2,289.71 250.7,290.47 251.2,290.50 251.7,290.79 252.2,291.04 252.7,290.41 253.2,290.36 253.7,290.47 254.2,290.68 254.7,290.41 255.2,290.41 255.7,290.71 256.2,289.52 256.7,287.95 257.2,286.47 257.7,287.34 258.2,288.59 258.7,290.07 259.2,290.74 259.7,290.85 260.2,290.31 260.7,290.01 261.2,289.39 261.7,287.36 262.2,283.49 262.7,280.61 263.2,283.54 263.7,287.32 264.2,289.43 264.7,290.01 265.2,290.16 265.7,290.33 266.2,290.17 266.7,289.50 267.2,287.56 267.7,287.06 268.2,289.65 268.7,290.82 269.2,291.17 269.7,291.32 270.2,291.42 270.7,291.77 271.2,291.20 271.7,291.61 272.2,291.84 272.7,292.16 273.2,291.67 273.7,291.90 274.2,291.59 274.7,291.08 275.2,291.05 275.7,291.45 276.2,290.78 276.7,290.58 277.2,289.98 277.7,287.53 278.2,286.43 278.7,288.32 279.2,290.16 279.7,290.86 280.2,290.95 280.7,291.66 281.2,291.47 281.7,291.19 282.2,290.71 282.7,290.35 283.2,290.67 283.7,289.92 284.2,287.93 284.7,283.20 285.2,274.93 285.7,279.33 286.2,286.77 286.7,289.87 287.2,290.74 287.7,290.84 288.2,291.41 288.7,291.29 289.2,291.14 289.7,291.40 290.2,291.61 290.7,291.94 291.2,291.72 291.7,290.94 292.2,291.18 292.7,291.78 293.2,291.67 293.7,291.31 294.2,291.47 294.7,291.81 295.2,290.97 295.7,291.60 296.2,291.34 296.7,290.11 297.2,288.86 297.7,288.45 298.2,289.55 298.7,290.78 299.2,291.44 299.7,291.22 300.2,291.38 300.7,291.49 301.2,291.20 301.7,291.06 302.2,290.64 302.7,289.06 303.2,289.59 303.7,290.33 304.2,290.74 304.7,291.25 305.2,291.59 305.7,291.70 306.2,291.38 306.7,291.73 307.2,291.95 307.7,291.65 308.2,291.68 308.7,291.60 309.2,291.48 309.7,291.07 310.2,291.40 310.7,291.17 311.2,291.06 311.7,290.03 312.2,288.39 312.7,287.05 313.2,285.25 313.7,284.43 314.2,285.39 314.7,287.37 315.2,289.30 315.7,289.89 316.2,290.72 316.7,290.85 317.2,290.75 317.7,290.86 318.2,290.94 318.7,291.18 319.2,290.95 319.7,291.01 320.2,291.01 320.7,291.17 321.2,291.17 321.7,290.54 322.2,290.75 322.7,290.45 323.2,290.36 323.7,290.32 324.2,290.56 324.7,290.25 325.2,289.42 325.7,289.03 326.2,289.00 326.7,288.41 327.2,288.02 327.7,286.89 328.2,286.52 328.7,285.39 329.2,284.24 329.7,284.52 330.2,284.01 330.7,284.15 331.2,284.12 331.7,284.60 332.2,284.39 332.7,284.91 333.2,286.34 333.7,286.97 334.2,287.16 334.7,287.32 335.2,288.50 335.7,289.37 336.2,289.03 336.7,289.11 337.2,289.26 337.7,289.66 338.2,289.50 338.7,288.97 339.2,288.94 339.7,288.92 340.2,287.99 340.7,287.77 341.2,287.70 341.7,287.53 342.2,287.36 342.7,288.40 343.2,288.67 343.7,289.04 344.2,289.99 344.7,290.01 345.2,290.62 345.7,291.24 346.2,291.19 346.7,291.07 347.2,291.27 347.7,291.08 348.2,291.12 348.7,290.86 349.2,289.99 349.7,289.82 350.2,288.62 350.7,287.70 351.2,287.34 351.7,287.63 352.2,288.53 352.7,289.65 353.2,290.18 353.7,290.93 354.2,291.32 354.7,291.18 355.2,291.36 355.7,291.67 356.2,291.67 356.7,291.83 357.2,291.70 357.7,291.62 358.2,291.70 358.7,291.93 359.2,292.05 359.7,291.40 360.2,291.58 360.7,291.67 361.2,291.60 361.7,291.77 362.2,292.25 362.7,292.22 363.2,291.72 363.7,291.51 364.2,291.99 364.7,292.03 365.2,291.66 365.7,291.96 366.2,292.13 366.7,292.14 367.2,291.90 367.7,292.08 368.2,292.02 368.7,292.23 369.2,292.15 369.7,292.18 370.2,292.02 370.7,291.95 371.2,292.11 371.7,292.24 372.2,291.98 372.7,292.24 373.2,292.68 373.7,291.91 374.2,291.57 374.7,291.67 375.2,291.90 375.7,291.89 376.2,291.30 376.7,291.41 377.2,292.06 377.7,291.75 378.2,292.23 378.7,292.25 379.2,291.31 379.7,292.03 380.2,292.09 380.7,292.00 381.2,292.15 381.7,292.11 382.2,292.33 382.7,292.64 383.2,292.20 383.7,291.84 384.2,292.46 384.7,292.56 385.2,292.58 385.7,292.34 386.2,292.48 386.7,292.69 387.2,292.16 387.7,292.01 388.2,292.45 388.7,292.16 389.2,292.37 389.7,292.00 390.2,291.97 390.7,292.19 391.2,292.18 391.7,292.02 392.2,292.50 392.7,292.14 393.2,292.24 393.7,291.88 394.2,291.87 394.7,291.95 395.2,292.15 395.7,292.20 396.2,292.21 396.7,292.21 397.2,292.45 397.7,292.42 398.2,292.09 398.7,292.19 399.2,292.33 399.7,292.41 400.2,292.32 400.7,292.07 401.2,292.05 401.7,292.19 402.2,292.24 402.7,291.84 403.2,291.80 403.7,292.00 404.2,292.12 404.7,291.96 405.2,291.96 405.7,291.95 406.2,292.14 406.7,291.65 407.2,292.01 407.7,291.99 408.2,292.15 408.7,292.05 409.2,291.42 409.7,292.35 410.2,292.53 410.7,292.70 411.2,292.54 411.7,292.51 412.2,292.48 412.7,292.57 413.2,291.90 413.7,292.02 414.2,291.98 414.7,292.39 415.2,292.40 415.7,292.66 416.2,292.31 416.7,292.14 417.2,292.09 417.7,291.85 418.2,291.58 418.7,292.04 419.2,292.04 419.7,291.98 420.2,291.86 420.7,292.09 421.2,291.93 421.7,292.19 422.2,292.12 422.7,292.00 423.2,291.76 423.7,292.24 424.2,292.44 424.7,292.17 425.2,292.06 425.7,292.37 426.2,292.42 426.7,292.28 427.2,292.99 427.7,292.78 428.2,292.70 428.7,292.42 429.2,292.27 429.7,291.92 430.2,292.06 430.7,292.23 431.2,292.35 431.7,292.03 432.2,291.99 432.7,292.46 433.2,292.33 433.7,292.45 434.2,292.22 434.7,292.00 435.2,291.98 435.7,291.54 436.2,292.31 436.7,292.43 437.2,292.49 437.7,292.27 438.2,292.74 438.7,292.48 439.2,291.60 439.7,291.53 440.2,291.99 440.7,291.71 441.2,291.95 441.7,291.99 442.2,292.04 442.7,292.46 443.2,292.30 443.7,292.22 444.2,292.24 444.7,292.85 445.2,292.40 445.7,291.77 446.2,291.87 446.7,291.55 447.2,291.56 447.7,291.45 448.2,290.95 448.7,290.65 449.2,290.75 449.7,290.90 450.2,290.07 450.7,290.42 451.2,289.69 451.7,289.64 452.2,289.58 452.7,289.63 453.2,289.18 453.7,288.65 454.2,288.64 454.7,288.90 455.2,289.18 455.7,289.12 456.2,289.17 456.7,289.46 457.2,290.10 457.7,289.84 458.2,290.12 458.7,290.67 459.2,291.02 459.7,290.59 460.2,291.33 460.7,291.61 461.2,291.32 461.7,290.74 462.2,290.84 462.7,290.76 463.2,290.30 463.7,289.65 464.2,290.30 464.7,291.18 465.2,291.36 465.7,291.60 466.2,291.64 466.7,291.51 467.2,291.81 467.7,292.01 468.2,292.22 468.7,291.85 469.2,291.68 469.7,291.87 470.2,291.91 470.7,292.24 471.2,291.97 471.7,291.76 472.2,292.27 472.7,292.24 473.2,292.29 473.7,292.41 474.2,292.50 474.7,292.09 475.2,292.37 475.7,292.31 476.2,292.27 476.7,292.21 477.2,292.14 477.7,292.30 478.2,292.34 478.7,292.56 479.2,292.68 479.7,292.21 480.2,292.84 480.7,292.64 481.2,292.03 481.7,292.19 482.2,292.36 482.7,292.57 483.2,292.20 483.7,292.66 484.2,292.08 484.7,292.10 485.2,292.04 485.7,291.85 486.2,291.88 486.7,292.06 487.2,292.16 487.7,292.06 488.2,291.85 488.7,291.51 489.2,292.18 489.7,292.91 490.2,292.94 490.7,292.69 491.2,292.28 491.7,292.38 492.2,292.14 492.7,292.13 493.2,292.36 493.7,292.54 494.2,292.15 494.7,292.05 495.2,292.12 495.7,291.88 496.2,292.44 496.7,292.63 497.2,292.65 497.7,292.44 498.2,292.04 498.7,292.00 499.2,291.87 499.7,292.26 500.2,292.63 500.7,291.92 501.2,292.17 501.7,292.25 502.2,291.72 502.7,292.18 503.2,291.48 503.7,291.31 504.2,291.29 504.7,291.18 505.2,290.77 505.7,290.06 506.2,289.36 506.7,288.53 507.2,288.62 507.7,288.77 508.2,288.21 508.7,288.50 509.2,288.80 509.7,288.97 510.2,289.16 510.7,289.59 511.2,290.05 511.7,290.17 512.2,291.13 512.7,290.93 513.2,291.12 513.7,291.35 514.2,291.62 514.7,291.98 515.2,292.27 515.7,292.19 516.2,292.44 516.7,292.07 517.2,292.28 517.7,292.35 518.2,292.21 518.7,292.22 519.2,291.90 519.7,292.39 520.2,292.30 520.7,291.96 521.2,291.68 521.7,291.59 522.2,290.81 522.7,290.61 523.2,290.15 523.7,289.87 524.2,289.27 524.7,290.00 525.2,290.47 525.7,290.48 526.2,290.96 526.7,291.61 527.2,292.35 527.7,292.56 528.2,292.22 528.7,292.35 529.2,292.22 529.7,291.69 530.2,292.58 530.7,292.68 531.2,291.78 531.7,291.99 532.2,292.32 532.7,292.45 533.2,292.78 533.7,292.79 534.2,292.40 534.7,292.57 535.2,292.30 535.7,292.35 536.2,292.55 536.7,292.60 537.2,292.45 537.7,292.99 538.2,292.66 538.7,292.55 539.2,292.67 539.7,292.39 540.2,292.40 540.7,291.74 541.2,291.86 541.7,292.28 542.2,292.34 542.7,292.35 543.2,292.35 543.7,292.72 544.2,292.87 544.7,292.52 545.2,292.81 545.7,292.63 546.2,292.14 546.7,292.09 547.2,292.54 547.7,292.79 548.2,292.23 548.7,291.96 549.2,292.76 549.7,292.92 550.2,292.62 550.7,292.97 551.2,293.14 551.7,292.42 552.2,292.38 552.7,292.50 553.2,292.79 553.7,292.37 554.2,292.51 554.7,292.97 555.2,293.00 555.7,292.88 556.2,292.41 556.7,292.61 557.2,292.50 557.7,292.84 558.2,292.83 558.7,292.82"/>
<polyline fill="none" stroke="#243f62" stroke-width="1.4" stroke-linejoin="round" points="129.7,369.23 130.2,369.09 130.7,368.80 131.2,368.12 131.7,367.64 132.2,366.33 132.7,365.20 133.2,364.06 133.7,363.64 134.2,362.56 134.7,359.67 135.2,354.67 135.7,349.18 136.2,339.36 136.7,325.97 137.2,312.93 137.7,309.01 138.2,318.46 138.7,332.60 139.2,344.83 139.7,352.46 140.2,357.19 140.7,361.03 141.2,362.27 141.7,364.34 142.2,364.78 142.7,365.90 143.2,367.41 143.7,367.43 144.2,368.53 144.7,368.80 145.2,368.77 145.7,369.39 146.2,369.59 146.7,369.42 147.2,369.28 147.7,369.95 148.2,369.64 148.7,369.79 149.2,370.08 149.7,369.95 150.2,370.12 150.7,370.22 151.2,370.23 151.7,370.30 152.2,370.74 152.7,369.92 153.2,369.64 153.7,369.09 154.2,368.75 154.7,370.12 155.2,370.41 155.7,370.50 156.2,369.10 156.7,369.02 157.2,369.27 157.7,370.16 158.2,369.28 158.7,367.82 159.2,366.67 159.7,365.25 160.2,363.25 160.7,362.97 161.2,363.05 161.7,364.81 162.2,366.40 162.7,366.97 163.2,366.79 163.7,366.80 164.2,366.28 164.7,362.77 165.2,354.15 165.7,337.85 166.2,329.06 166.7,345.63 167.2,359.24 167.7,364.66 168.2,366.79 168.7,368.33 169.2,368.85 169.7,369.19 170.2,368.89 170.7,368.70 171.2,368.81 171.7,367.95 172.2,368.01 172.7,368.70 173.2,367.89 173.7,367.13 174.2,366.32 174.7,365.60 175.2,362.64 175.7,358.20 176.2,347.88 176.7,334.92 177.2,331.90 177.7,334.25 178.2,335.17 178.7,340.41 179.2,350.03 179.7,358.10 180.2,363.30 180.7,365.53 181.2,367.47 181.7,367.51 182.2,368.03 182.7,367.53 183.2,368.60 183.7,368.61 184.2,369.16 184.7,369.61 185.2,368.81 185.7,367.49 186.2,367.60 186.7,368.38 187.2,367.44 187.7,365.83 188.2,363.79 188.7,361.27 189.2,364.00 189.7,367.01 190.2,368.03 190.7,368.70 191.2,368.56 191.7,369.34 192.2,369.56 192.7,370.33 193.2,370.06 193.7,369.43 194.2,369.13 194.7,369.35 195.2,369.60 195.7,370.05 196.2,370.03 196.7,368.94 197.2,368.92 197.7,369.47 198.2,368.95 198.7,369.17 199.2,368.58 199.7,369.11 200.2,369.22 200.7,369.24 201.2,369.22 201.7,369.81 202.2,370.12 202.7,369.98 203.2,369.45 203.7,369.28 204.2,369.09 204.7,369.07 205.2,369.27 205.7,369.31 206.2,369.35 206.7,369.80 207.2,370.10 207.7,369.10 208.2,369.30 208.7,369.92 209.2,369.61 209.7,368.70 210.2,368.53 210.7,369.61 211.2,368.81 211.7,369.43 212.2,368.96 212.7,370.24 213.2,368.82 213.7,370.24 214.2,369.81 214.7,369.93 215.2,369.60 215.7,368.68 216.2,368.16 216.7,369.44 217.2,367.47 217.7,366.80 218.2,365.26 218.7,364.79 219.2,362.74 219.7,359.40 220.2,360.76 220.7,362.98 221.2,364.36 221.7,365.57 222.2,365.61 222.7,363.93 223.2,362.71 223.7,363.08 224.2,360.93 224.7,359.07 225.2,356.61 225.7,355.59 226.2,355.06 226.7,354.39 227.2,357.74 227.7,358.27 228.2,358.40 228.7,358.86 229.2,358.18 229.7,357.27 230.2,359.41 230.7,362.76 231.2,362.75 231.7,360.54 232.2,361.93 232.7,361.70 233.2,361.36 233.7,360.59 234.2,356.77 234.7,349.37 235.2,343.86 235.7,348.37 236.2,356.85 236.7,360.48 237.2,360.15 237.7,360.46 238.2,361.01 238.7,362.25 239.2,361.25 239.7,361.68 240.2,360.32 240.7,359.76 241.2,359.91 241.7,357.12 242.2,349.95 242.7,345.88 243.2,350.90 243.7,355.71 244.2,358.38 244.7,359.89 245.2,361.03 245.7,359.98 246.2,363.06 246.7,363.70 247.2,363.21 247.7,361.94 248.2,361.52 248.7,362.08 249.2,361.48 249.7,363.21 250.2,361.73 250.7,362.36 251.2,361.64 251.7,359.45 252.2,356.73 252.7,352.64 253.2,352.64 253.7,356.50 254.2,358.64 254.7,359.25 255.2,359.51 255.7,359.18 256.2,355.47 256.7,347.61 257.2,339.18 257.7,343.08 258.2,352.04 258.7,356.27 259.2,358.03 259.7,359.56 260.2,357.65 260.7,353.60 261.2,346.46 261.7,344.08 262.2,350.73 262.7,356.13 263.2,357.87 263.7,359.80 264.2,361.31 264.7,361.71 265.2,362.26 265.7,361.54 266.2,361.77 266.7,362.48 267.2,362.08 267.7,362.21 268.2,360.44 268.7,360.92 269.2,362.47 269.7,362.61 270.2,362.45 270.7,362.33 271.2,361.60 271.7,359.51 272.2,358.88 272.7,353.84 273.2,347.41 273.7,349.63 274.2,356.01 274.7,358.74 275.2,360.65 275.7,360.49 276.2,359.69 276.7,360.11 277.2,360.54 277.7,360.79 278.2,360.74 278.7,358.90 279.2,357.37 279.7,353.63 280.2,349.07 280.7,337.06 281.2,310.85 281.7,305.60 282.2,337.11 282.7,352.95 283.2,357.37 283.7,359.56 284.2,358.27 284.7,355.52 285.2,347.22 285.7,337.95 286.2,342.49 286.7,353.07 287.2,359.03 287.7,360.23 288.2,360.62 288.7,361.27 289.2,362.21 289.7,362.68 290.2,360.90 290.7,361.59 291.2,361.70 291.7,361.52 292.2,361.47 292.7,361.23 293.2,359.21 293.7,353.87 294.2,354.50 294.7,358.44 295.2,359.30 295.7,360.55 296.2,359.16 296.7,357.01 297.2,352.32 297.7,351.06 298.2,356.96 298.7,358.75 299.2,360.59 299.7,359.16 300.2,356.71 300.7,353.22 301.2,355.45 301.7,357.81 302.2,357.83 302.7,358.91 303.2,361.46 303.7,362.47 304.2,361.54 304.7,361.23 305.2,362.02 305.7,363.31 306.2,361.37 306.7,362.86 307.2,363.27 307.7,361.43 308.2,361.43 308.7,361.88 309.2,362.01 309.7,363.09 310.2,362.53 310.7,362.00 311.2,362.67 311.7,363.12 312.2,361.73 312.7,361.04 313.2,361.68 313.7,360.62 314.2,356.86 314.7,353.35 315.2,355.34 315.7,359.54 316.2,361.49 316.7,362.19 317.2,362.22 317.7,363.11 318.2,362.90 318.7,361.57 319.2,362.50 319.7,361.67 320.2,362.19 320.7,362.20 321.2,362.38 321.7,361.56 322.2,361.18 322.7,360.51 323.2,358.96 323.7,355.64 324.2,353.18 324.7,353.31 325.2,357.47 325.7,359.85 326.2,361.17 326.7,361.39 327.2,360.19 327.7,360.78 328.2,360.88 328.7,359.87 329.2,359.28 329.7,359.08 330.2,357.72 330.7,353.85 331.2,349.10 331.7,345.16 332.2,346.43 332.7,349.45 333.2,354.41 333.7,358.75 334.2,358.04 334.7,357.26 335.2,355.61 335.7,355.23 336.2,357.04 336.7,355.31 337.2,354.29 337.7,355.03 338.2,355.84 338.7,357.60 339.2,358.45 339.7,360.25 340.2,361.59 340.7,361.28 341.2,361.04 341.7,361.38 342.2,362.12 342.7,360.35 343.2,360.32 343.7,360.64 344.2,360.52 344.7,361.63 345.2,361.17 345.7,360.92 346.2,362.01 346.7,361.94 347.2,362.23 347.7,361.95 348.2,361.41 348.7,361.14 349.2,361.91 349.7,361.04 350.2,361.49 350.7,360.08 351.2,358.97 351.7,359.52 352.2,362.28 352.7,362.25 353.2,362.90 353.7,362.71 354.2,364.02 354.7,364.01 355.2,364.47 355.7,364.36 356.2,363.55 356.7,363.06 357.2,363.66 357.7,363.40 358.2,363.95 358.7,365.61 359.2,365.34 359.7,364.88 360.2,365.17 360.7,365.35 361.2,364.87 361.7,364.62 362.2,364.83 362.7,365.47 363.2,366.28 363.7,364.26 364.2,364.62 364.7,364.90 365.2,366.65 365.7,365.20 366.2,366.05 366.7,365.85 367.2,365.77 367.7,366.11 368.2,365.58 368.7,365.25 369.2,366.27 369.7,363.91 370.2,362.56 370.7,362.68 371.2,362.67 371.7,361.57 372.2,363.04 372.7,364.98 373.2,365.68 373.7,365.97 374.2,366.54 374.7,366.15 375.2,366.75 375.7,366.55 376.2,367.45 376.7,367.24 377.2,366.62 377.7,367.33 378.2,367.37 378.7,367.25 379.2,366.65 379.7,365.55 380.2,366.11 380.7,367.45 381.2,367.56 381.7,365.55 382.2,365.42 382.7,364.80 383.2,365.54 383.7,367.04 384.2,366.64 384.7,367.52 385.2,367.96 385.7,365.98 386.2,367.00 386.7,367.54 387.2,367.83 387.7,368.39 388.2,368.54 388.7,367.90 389.2,367.01 389.7,368.63 390.2,369.27 390.7,367.09 391.2,367.46 391.7,367.92 392.2,367.58 392.7,368.00 393.2,368.34 393.7,368.80 394.2,367.87 394.7,368.17 395.2,369.76 395.7,369.23 396.2,367.78 396.7,367.16 397.2,368.09 397.7,368.67 398.2,368.01 398.7,367.03 399.2,367.08 399.7,367.70 400.2,368.41 400.7,368.88 401.2,369.28 401.7,367.93 402.2,367.36 402.7,366.74 403.2,367.28 403.7,368.00 404.2,368.11 404.7,368.24 405.2,368.48 405.7,367.90 406.2,367.24 406.7,368.38 407.2,368.59 407.7,368.41 408.2,370.47 408.7,366.71 409.2,366.67 409.7,367.62 410.2,367.89 410.7,367.87 411.2,368.54 411.7,369.07 412.2,368.83 412.7,368.75 413.2,369.08 413.7,367.77 414.2,368.15 414.7,368.39 415.2,368.24 415.7,368.28 416.2,368.22 416.7,367.92 417.2,367.61 417.7,367.69 418.2,368.18 418.7,368.66 419.2,368.82 419.7,368.60 420.2,367.14 420.7,367.54 421.2,367.71 421.7,368.29 422.2,368.38 422.7,368.32 423.2,368.85 423.7,368.31 424.2,368.50 424.7,368.78 425.2,368.71 425.7,368.48 426.2,369.20 426.7,369.08 427.2,369.06 427.7,368.70 428.2,368.50 428.7,367.86 429.2,367.24 429.7,367.48 430.2,367.51 430.7,368.11 431.2,367.64 431.7,367.93 432.2,367.92 432.7,368.35 433.2,368.53 433.7,369.28 434.2,369.28 434.7,369.41 435.2,368.52 435.7,367.68 436.2,369.03 436.7,369.59 437.2,368.67 437.7,369.19 438.2,368.60 438.7,368.54 439.2,368.40 439.7,368.14 440.2,368.02 440.7,367.58 441.2,368.43 441.7,368.70 442.2,368.92 442.7,368.64 443.2,369.00 443.7,369.87 444.2,369.30 444.7,368.62 445.2,368.67 445.7,368.74 446.2,369.18 446.7,368.56 447.2,369.11 447.7,368.61 448.2,367.29 448.7,368.46 449.2,368.23 449.7,368.03 450.2,368.51 450.7,369.02 451.2,369.91 451.7,368.80 452.2,368.13 452.7,368.49 453.2,368.72 453.7,368.14 454.2,368.19 454.7,367.59 455.2,367.73 455.7,368.33 456.2,368.85 456.7,368.13 457.2,368.06 457.7,368.36 458.2,368.02 458.7,368.12 459.2,368.28 459.7,369.37 460.2,368.73 460.7,369.32 461.2,369.06 461.7,369.47 462.2,368.35 462.7,368.36 463.2,367.56 463.7,369.13 464.2,369.08 464.7,368.76 465.2,370.00 465.7,370.56 466.2,369.96 466.7,369.68 467.2,368.79 467.7,368.08 468.2,367.91 468.7,368.85 469.2,367.79 469.7,368.56 470.2,369.60 470.7,368.93 471.2,367.98 471.7,368.25 472.2,369.15 472.7,368.24 473.2,368.19 473.7,367.91 474.2,368.45 474.7,368.49 475.2,369.07 475.7,368.26 476.2,368.11 476.7,367.57 477.2,369.27 477.7,369.47 478.2,368.73 478.7,368.82 479.2,369.10 479.7,369.15 480.2,367.88 480.7,368.32 481.2,369.95 481.7,369.66 482.2,369.17 482.7,368.91 483.2,369.28 483.7,369.39 484.2,369.17 484.7,368.27 485.2,368.67 485.7,368.97 486.2,368.81 486.7,368.18 487.2,368.37 487.7,368.12 488.2,368.39 488.7,368.81 489.2,369.05 489.7,369.12 490.2,369.21 490.7,368.60 491.2,367.84 491.7,368.20 492.2,367.74 492.7,366.75 493.2,366.48 493.7,365.78 494.2,364.24 494.7,362.86 495.2,363.64 495.7,365.90 496.2,367.08 496.7,368.38 497.2,367.81 497.7,368.66 498.2,368.48 498.7,368.61 499.2,368.26 499.7,368.72 500.2,368.54 500.7,368.22 501.2,367.65 501.7,367.37 502.2,366.38 502.7,366.35 503.2,365.18 503.7,365.53 504.2,365.64 504.7,367.96 505.2,368.33 505.7,368.20 506.2,368.58 506.7,367.85 507.2,367.95 507.7,368.98 508.2,367.84 508.7,368.71 509.2,369.53 509.7,369.18 510.2,369.51 510.7,368.79 511.2,368.59 511.7,369.48 512.2,369.43 512.7,369.06 513.2,369.43 513.7,368.51 514.2,369.20 514.7,368.74 515.2,368.87 515.7,368.85 516.2,368.85 516.7,369.04 517.2,369.33 517.7,368.83 518.2,367.31 518.7,365.86 519.2,364.90 519.7,366.80 520.2,367.72 520.7,367.74 521.2,368.60 521.7,369.36 522.2,368.57 522.7,368.88 523.2,368.85 523.7,368.75 524.2,368.70 524.7,368.01 525.2,369.20 525.7,368.85 526.2,368.83 526.7,368.52 527.2,370.13 527.7,369.35 528.2,367.98 528.7,368.44 529.2,368.66 529.7,368.32 530.2,368.05 530.7,368.08 531.2,368.45 531.7,369.05 532.2,369.32 532.7,369.72 533.2,368.84 533.7,367.82 534.2,368.84 534.7,369.48 535.2,368.57 535.7,369.05 536.2,369.14 536.7,368.54 537.2,368.73 537.7,368.67 538.2,369.79 538.7,369.59 539.2,369.26 539.7,369.53 540.2,369.42 540.7,368.56 541.2,368.14 541.7,368.05 542.2,368.36 542.7,369.51 543.2,369.95 543.7,369.88 544.2,368.58 544.7,369.10 545.2,369.96 545.7,370.16 546.2,369.11 546.7,368.85 547.2,368.93 547.7,369.41 548.2,369.72 548.7,369.70 549.2,369.18 549.7,369.75 550.2,368.86 550.7,369.53 551.2,370.07 551.7,369.96 552.2,369.48 552.7,369.01 553.2,369.01 553.7,368.71 554.2,368.63 554.7,368.71 555.2,369.53 555.7,368.62 556.2,368.85 556.7,369.87 557.2,369.76 557.7,370.34 558.2,370.28 558.7,369.62"/>
<g font-family="'Liberation Sans', sans-serif" font-size="9.6" fill="#111" stroke="#111" stroke-width="0.15">
<text x="137.2" y="24.9" text-anchor="middle">C</text>
<text x="177.6" y="26.4" text-anchor="middle">L</text>
<text x="182.8" y="28.6" text-anchor="middle">C</text>
<text x="238.6" y="17.2" text-anchor="middle">G</text>
<text x="256.9" y="24.9" text-anchor="middle">L</text>
<text x="273.4" y="26.2" text-anchor="middle">Q</text>
<text x="283.1" y="26.6" text-anchor="middle">A</text>
<text x="298.4" y="23.6" text-anchor="middle">M</text>
<text x="316.1" y="12.9" text-anchor="middle">H</text>
<text x="316.1" y="22.1" text-anchor="middle">G</text>
<text x="326.0" y="25.4" text-anchor="middle">G</text>
<text x="332.8" y="7.8" text-anchor="middle">M</text>
<text x="332.9" y="16.3" text-anchor="middle">H</text>
<text x="341.6" y="17.8" text-anchor="middle">G</text>
<text x="365.2" y="24.3" text-anchor="middle">GG</text>
<text x="384.8" y="26.0" text-anchor="middle">M</text>
<text x="426.1" y="26.4" text-anchor="middle">H</text>
<text x="447.2" y="26.0" text-anchor="middle">G</text>
<text x="454.9" y="24.3" text-anchor="middle">M</text>
<text x="454.8" y="14.6" text-anchor="middle">H</text>
<text x="475.8" y="26.0" text-anchor="middle">M</text>
<text x="487.0" y="26.0" text-anchor="middle">G</text>
<text x="502.9" y="25.8" text-anchor="middle">G</text>
<text x="512.2" y="27.5" text-anchor="middle">M</text>
<text x="519.8" y="25.4" text-anchor="middle">H</text>
<text x="136.5" y="45.7" text-anchor="middle">S</text>
<text x="172.2" y="45.7" text-anchor="middle">L</text>
<text x="213.1" y="57.5" text-anchor="middle">G</text>
<text x="225.8" y="42.5" text-anchor="middle">S</text>
<text x="225.6" y="51.1" text-anchor="middle">L</text>
<text x="237.4" y="46.4" text-anchor="middle">G</text>
<text x="259.1" y="49.4" text-anchor="middle">L</text>
<text x="282.9" y="58.0" text-anchor="middle">E</text>
<text x="295.2" y="57.8" text-anchor="middle">M</text>
<text x="302.2" y="46.4" text-anchor="middle">E</text>
<text x="315.6" y="53.2" text-anchor="middle">G</text>
<text x="324.8" y="54.3" text-anchor="middle">L</text>
<text x="332.1" y="45.7" text-anchor="middle">M</text>
<text x="340.1" y="40.4" text-anchor="middle">L</text>
<text x="340.2" y="49.4" text-anchor="middle">G</text>
<text x="365.2" y="55.8" text-anchor="middle">GG</text>
<text x="383.1" y="58.0" text-anchor="middle">L</text>
<text x="449.4" y="55.8" text-anchor="middle">G</text>
<text x="474.6" y="58.0" text-anchor="middle">M</text>
<text x="483.6" y="57.6" text-anchor="middle">G</text>
<text x="493.6" y="57.6" text-anchor="middle">L</text>
<text x="499.6" y="55.8" text-anchor="middle">S</text>
<text x="510.5" y="58.0" text-anchor="middle">M</text>
<text x="134.2" y="75.8" text-anchor="middle">S</text>
<text x="142.1" y="74.7" text-anchor="middle">C</text>
<text x="166.8" y="80.7" text-anchor="middle">Ed</text>
<text x="176.6" y="72.1" text-anchor="middle">L</text>
<text x="183.0" y="76.4" text-anchor="middle">C</text>
<text x="218.1" y="79.0" text-anchor="middle">C</text>
<text x="226.9" y="78.4" text-anchor="middle">S</text>
<text x="236.6" y="76.2" text-anchor="middle">G</text>
<text x="256.8" y="76.2" text-anchor="middle">L</text>
<text x="263.8" y="76.2" text-anchor="middle">C</text>
<text x="284.5" y="79.0" text-anchor="middle">Ed</text>
<text x="297.4" y="81.8" text-anchor="middle">M</text>
<text x="315.8" y="77.9" text-anchor="middle">G</text>
<text x="332.1" y="71.1" text-anchor="middle">M</text>
<text x="340.0" y="76.9" text-anchor="middle">L</text>
<text x="365.8" y="81.8" text-anchor="middle">GG</text>
<text x="383.6" y="83.3" text-anchor="middle">Ed</text>
<text x="448.1" y="79.4" text-anchor="middle">G</text>
<text x="456.4" y="81.1" text-anchor="middle">M</text>
<text x="473.1" y="82.6" text-anchor="middle">M</text>
<text x="481.9" y="82.6" text-anchor="middle">G</text>
<text x="493.4" y="80.7" text-anchor="middle">L</text>
<text x="503.1" y="80.1" text-anchor="middle">S</text>
<text x="511.6" y="81.1" text-anchor="middle">M</text>
<text x="130.2" y="104.3" text-anchor="middle">S</text>
<text x="138.2" y="98.7" text-anchor="middle">C</text>
<text x="180.1" y="97.2" text-anchor="middle">L</text>
<text x="183.5" y="107.3" text-anchor="middle">C</text>
<text x="217.7" y="104.3" text-anchor="middle">C</text>
<text x="226.2" y="104.3" text-anchor="middle">S</text>
<text x="239.1" y="106.3" text-anchor="middle">G</text>
<text x="256.8" y="98.1" text-anchor="middle">L</text>
<text x="264.3" y="104.6" text-anchor="middle">C</text>
<text x="295.6" y="109.5" text-anchor="middle">M</text>
<text x="316.1" y="107.8" text-anchor="middle">G</text>
<text x="332.1" y="99.4" text-anchor="middle">M</text>
<text x="341.2" y="103.7" text-anchor="middle">G</text>
<text x="366.1" y="111.6" text-anchor="middle">G</text>
<text x="373.0" y="108.6" text-anchor="middle">L</text>
<text x="381.5" y="110.1" text-anchor="middle">M</text>
<text x="434.6" y="110.1" text-anchor="middle">L</text>
<text x="449.4" y="106.5" text-anchor="middle">G</text>
<text x="456.8" y="109.5" text-anchor="middle">M</text>
<text x="473.9" y="110.4" text-anchor="middle">M</text>
<text x="493.0" y="109.5" text-anchor="middle">L</text>
<text x="502.0" y="108.4" text-anchor="middle">S</text>
<text x="511.5" y="110.1" text-anchor="middle">M</text>
<text x="130.8" y="152.2" text-anchor="middle">S</text>
<text x="138.2" y="149.2" text-anchor="middle">C</text>
<text x="163.8" y="152.2" text-anchor="middle">Mh</text>
<text x="172.2" y="127.8" text-anchor="middle">L</text>
<text x="183.8" y="150.3" text-anchor="middle">C</text>
<text x="223.9" y="146.4" text-anchor="middle">S</text>
<text x="231.6" y="148.1" text-anchor="middle">K</text>
<text x="239.7" y="149.6" text-anchor="middle">G</text>
<text x="258.1" y="133.6" text-anchor="middle">L</text>
<text x="263.8" y="151.3" text-anchor="middle">C</text>
<text x="287.4" y="149.2" text-anchor="middle">Mh</text>
<text x="317.5" y="151.4" text-anchor="middle">G</text>
<text x="335.9" y="136.8" text-anchor="middle">L</text>
<text x="343.5" y="149.6" text-anchor="middle">G</text>
<text x="375.1" y="149.6" text-anchor="middle">L</text>
<text x="425.4" y="153.9" text-anchor="middle">H</text>
<text x="435.5" y="152.9" text-anchor="middle">L</text>
<text x="455.4" y="151.8" text-anchor="middle">H</text>
<text x="493.9" y="149.2" text-anchor="middle">L</text>
<text x="503.7" y="150.1" text-anchor="middle">L</text>
<text x="520.8" y="152.2" text-anchor="middle">H</text>
<text x="132.9" y="197.3" text-anchor="middle">S</text>
<text x="138.5" y="192.6" text-anchor="middle">C</text>
<text x="164.2" y="192.1" text-anchor="middle">Ed</text>
<text x="179.8" y="167.9" text-anchor="middle">L</text>
<text x="182.2" y="192.1" text-anchor="middle">C</text>
<text x="218.1" y="200.7" text-anchor="middle">C</text>
<text x="229.9" y="194.3" text-anchor="middle">K</text>
<text x="241.9" y="197.3" text-anchor="middle">A</text>
<text x="253.1" y="200.6" text-anchor="middle">A</text>
<text x="258.1" y="181.4" text-anchor="middle">L</text>
<text x="262.5" y="194.3" text-anchor="middle">C</text>
<text x="272.4" y="203.9" text-anchor="middle">Q</text>
<text x="280.4" y="189.3" text-anchor="middle">E</text>
<text x="291.1" y="197.9" text-anchor="middle">D</text>
<text x="298.4" y="194.3" text-anchor="middle">M</text>
<text x="303.6" y="175.4" text-anchor="middle">E</text>
<text x="306.8" y="185.7" text-anchor="middle">Sp</text>
<text x="319.4" y="196.9" text-anchor="middle">Ed</text>
<text x="331.4" y="176.5" text-anchor="middle">M</text>
<text x="343.5" y="175.2" text-anchor="middle">Sp</text>
<text x="382.9" y="203.9" text-anchor="middle">M</text>
<text x="392.3" y="197.5" text-anchor="middle">Sp</text>
<text x="442.6" y="203.7" text-anchor="middle">L</text>
<text x="453.4" y="202.2" text-anchor="middle">M</text>
<text x="472.2" y="202.2" text-anchor="middle">M</text>
<text x="484.3" y="203.0" text-anchor="middle">Sp</text>
<text x="494.2" y="203.3" text-anchor="middle">L</text>
<text x="506.9" y="202.6" text-anchor="middle">K</text>
<text x="514.1" y="202.6" text-anchor="middle">M</text>
<text x="527.2" y="200.8" text-anchor="middle">Sp</text>
<text x="133.4" y="228.5" text-anchor="middle">S</text>
<text x="140.8" y="229.3" text-anchor="middle">C</text>
<text x="164.8" y="232.8" text-anchor="middle">Mh</text>
<text x="177.2" y="222.0" text-anchor="middle">L</text>
<text x="180.8" y="234.9" text-anchor="middle">C</text>
<text x="218.1" y="240.7" text-anchor="middle">C</text>
<text x="225.7" y="227.2" text-anchor="middle">S</text>
<text x="229.1" y="237.5" text-anchor="middle">K</text>
<text x="235.6" y="239.6" text-anchor="middle">G</text>
<text x="241.7" y="237.9" text-anchor="middle">A</text>
<text x="249.2" y="240.7" text-anchor="middle">L</text>
<text x="257.1" y="230.0" text-anchor="middle">L</text>
<text x="262.7" y="235.4" text-anchor="middle">C</text>
<text x="272.9" y="241.8" text-anchor="middle">Mh</text>
<text x="280.9" y="235.4" text-anchor="middle">A</text>
<text x="285.0" y="222.9" text-anchor="middle">Mh</text>
<text x="293.2" y="238.6" text-anchor="middle">D</text>
<text x="305.6" y="237.1" text-anchor="middle">Hc</text>
<text x="321.1" y="232.8" text-anchor="middle">Mh</text>
<text x="333.1" y="227.8" text-anchor="middle">L</text>
<text x="342.3" y="234.3" text-anchor="middle">Hc</text>
<text x="351.4" y="232.1" text-anchor="middle">K</text>
<text x="356.6" y="241.4" text-anchor="middle">Mh</text>
<text x="375.6" y="240.3" text-anchor="middle">L</text>
<text x="392.0" y="232.8" text-anchor="middle">C</text>
<text x="394.7" y="240.7" text-anchor="middle">Hc</text>
<text x="432.6" y="242.9" text-anchor="middle">L</text>
<text x="447.6" y="243.5" text-anchor="middle">G</text>
<text x="459.4" y="242.9" text-anchor="middle">K</text>
<text x="486.7" y="240.7" text-anchor="middle">Hc</text>
<text x="495.5" y="241.8" text-anchor="middle">L</text>
<text x="503.0" y="239.6" text-anchor="middle">L</text>
<text x="511.6" y="238.6" text-anchor="middle">K</text>
<text x="526.3" y="239.6" text-anchor="middle">Hc</text>
<text x="137.8" y="263.7" text-anchor="middle">C</text>
<text x="163.8" y="259.4" text-anchor="middle">Ed</text>
<text x="173.9" y="264.8" text-anchor="middle">L</text>
<text x="180.8" y="260.0" text-anchor="middle">C</text>
<text x="219.1" y="262.8" text-anchor="middle">C</text>
<text x="231.8" y="257.2" text-anchor="middle">K</text>
<text x="241.7" y="261.1" text-anchor="middle">A</text>
<text x="255.8" y="263.7" text-anchor="middle">L</text>
<text x="261.6" y="250.8" text-anchor="middle">K</text>
<text x="261.6" y="260.0" text-anchor="middle">C</text>
<text x="273.4" y="256.5" text-anchor="middle">Q</text>
<text x="285.4" y="258.5" text-anchor="middle">E</text>
<text x="295.8" y="261.5" text-anchor="middle">M</text>
<text x="305.0" y="260.7" text-anchor="middle">Hc</text>
<text x="315.8" y="258.5" text-anchor="middle">H</text>
<text x="327.6" y="256.4" text-anchor="middle">H</text>
<text x="333.2" y="250.8" text-anchor="middle">M</text>
<text x="340.5" y="261.5" text-anchor="middle">Hc</text>
<text x="349.3" y="261.5" text-anchor="middle">K</text>
<text x="357.9" y="265.0" text-anchor="middle">Ed</text>
<text x="367.9" y="261.5" text-anchor="middle">H</text>
<text x="382.6" y="263.2" text-anchor="middle">M</text>
<text x="392.7" y="262.8" text-anchor="middle">Hc</text>
<text x="424.7" y="262.8" text-anchor="middle">H</text>
<text x="453.6" y="259.4" text-anchor="middle">H</text>
<text x="461.6" y="264.3" text-anchor="middle">K</text>
<text x="479.6" y="262.2" text-anchor="middle">M</text>
<text x="491.2" y="264.3" text-anchor="middle">Hc</text>
<text x="508.9" y="254.7" text-anchor="middle">K</text>
<text x="508.7" y="262.8" text-anchor="middle">H</text>
<text x="515.5" y="265.0" text-anchor="middle">M</text>
<text x="526.9" y="262.2" text-anchor="middle">Hc</text>
<text x="139.3" y="285.1" text-anchor="middle">C</text>
<text x="159.9" y="279.8" text-anchor="middle">Ed</text>
<text x="175.3" y="286.4" text-anchor="middle">L</text>
<text x="181.8" y="281.5" text-anchor="middle">C</text>
<text x="220.8" y="285.8" text-anchor="middle">C</text>
<text x="231.6" y="277.8" text-anchor="middle">K</text>
<text x="237.4" y="281.5" text-anchor="middle">G</text>
<text x="245.1" y="284.7" text-anchor="middle">A</text>
<text x="257.1" y="285.8" text-anchor="middle">L</text>
<text x="262.7" y="280.0" text-anchor="middle">C</text>
<text x="267.5" y="286.9" text-anchor="middle">A</text>
<text x="278.7" y="283.6" text-anchor="middle">A</text>
<text x="291.1" y="276.6" text-anchor="middle">Ed</text>
<text x="305.4" y="284.7" text-anchor="middle">Hc</text>
<text x="316.9" y="282.6" text-anchor="middle">H</text>
<text x="331.9" y="282.1" text-anchor="middle">H</text>
<text x="341.9" y="286.9" text-anchor="middle">G</text>
<text x="355.7" y="286.4" text-anchor="middle">Ed</text>
<text x="455.1" y="284.7" text-anchor="middle">H</text>
<text x="465.7" y="287.3" text-anchor="middle">K</text>
<text x="502.9" y="286.4" text-anchor="middle">G</text>
<text x="509.5" y="285.8" text-anchor="middle">H</text>
<text x="529.1" y="286.4" text-anchor="middle">Hc</text>
<text x="142.9" y="321.8" text-anchor="middle">C</text>
<text x="161.9" y="325.6" text-anchor="middle">Mh</text>
<text x="157.9" y="358.3" text-anchor="middle">Mh</text>
<text x="177.2" y="327.8" text-anchor="middle">L</text>
<text x="183.3" y="332.1" text-anchor="middle">C</text>
<text x="189.3" y="358.7" text-anchor="middle">A</text>
<text x="219.3" y="360.0" text-anchor="middle">C</text>
<text x="229.1" y="350.8" text-anchor="middle">K</text>
<text x="243.4" y="346.5" text-anchor="middle">A</text>
<text x="252.4" y="349.3" text-anchor="middle">A</text>
<text x="255.7" y="336.8" text-anchor="middle">L</text>
<text x="262.7" y="331.4" text-anchor="middle">K</text>
<text x="262.4" y="342.2" text-anchor="middle">C</text>
<text x="273.4" y="345.4" text-anchor="middle">Q</text>
<text x="278.5" y="307.2" text-anchor="middle">A</text>
<text x="303.4" y="331.2" text-anchor="middle">Mh</text>
<text x="295.0" y="352.2" text-anchor="middle">D</text>
<text x="333.5" y="342.1" text-anchor="middle">M</text>
<text x="351.4" y="356.5" text-anchor="middle">K</text>
<text x="367.3" y="359.3" text-anchor="middle">Mh</text>
<text x="494.4" y="359.2" text-anchor="middle">L</text>
<text x="505.7" y="361.6" text-anchor="middle">K</text>
<text x="513.9" y="363.2" text-anchor="middle">M</text>
</g>
<g stroke="#333" stroke-width="0.75">
<line x1="302" y1="49.8" x2="302" y2="58.4"/>
<line x1="165.7" y1="194" x2="165.7" y2="201"/>
<line x1="285.3" y1="224.6" x2="285.3" y2="235.8"/>
<line x1="225.2" y1="230.4" x2="225.2" y2="237.9"/>
<line x1="322.0" y1="234.5" x2="324.6" y2="241.3"/>
<line x1="326.3" y1="234.5" x2="329.0" y2="239.6"/>
<line x1="314.6" y1="233.4" x2="314.4" y2="236.6"/>
<line x1="301.4" y1="286" x2="301.4" y2="291.5"/>
<line x1="295.4" y1="331.2" x2="285.8" y2="336.5"/>
<line x1="306.1" y1="331.2" x2="314.7" y2="352.6"/>
<line x1="309.4" y1="331.2" x2="325.5" y2="352.6"/>
</g>
<g font-family="'Liberation Sans', sans-serif" font-size="14.4" fill="#000" stroke="#000" stroke-width="0.18">
<text x="545.0" y="22.0">Mountain (CEI)</text>
<text x="545.0" y="57.2">Mountain (LN)</text>
<text x="545.0" y="80.0">Mountain (PG)</text>
<text x="545.0" y="108.2">Mountain (ES)</text>
<text x="545.0" y="152.0">Mountain (BOQ)</text>
<text x="545.0" y="199.0">Lowland (DAN)</text>
<text x="545.0" y="239.0">Lowland (MAN)</text>
<text x="545.0" y="261.9">Lowland (BES)</text>
<text x="545.0" y="285.8">Lowland (MUR)</text>
<text x="545.0" y="360.3">Lowland (SE)</text>
</g>
<g stroke="#a6a6a6" stroke-width="1" fill="none">
<line x1="37.5" y1="501.40" x2="37.5" y2="692.20"/>
<line x1="34.10" y1="692.20" x2="294.90" y2="692.20"/>
<line x1="34.10" y1="692.20" x2="39.70" y2="692.20"/>
<line x1="34.10" y1="660.40" x2="39.70" y2="660.40"/>
<line x1="34.10" y1="628.60" x2="39.70" y2="628.60"/>
<line x1="34.10" y1="596.80" x2="39.70" y2="596.80"/>
<line x1="34.10" y1="565.00" x2="39.70" y2="565.00"/>
<line x1="34.10" y1="533.20" x2="39.70" y2="533.20"/>
<line x1="34.10" y1="501.40" x2="39.70" y2="501.40"/>
<line x1="37.50" y1="685.84" x2="39.70" y2="685.84"/>
<line x1="37.50" y1="679.48" x2="39.70" y2="679.48"/>
<line x1="37.50" y1="673.12" x2="39.70" y2="673.12"/>
<line x1="37.50" y1="666.76" x2="39.70" y2="666.76"/>
<line x1="37.50" y1="654.04" x2="39.70" y2="654.04"/>
<line x1="37.50" y1="647.68" x2="39.70" y2="647.68"/>
<line x1="37.50" y1="641.32" x2="39.70" y2="641.32"/>
<line x1="37.50" y1="634.96" x2="39.70" y2="634.96"/>
<line x1="37.50" y1="622.24" x2="39.70" y2="622.24"/>
<line x1="37.50" y1="615.88" x2="39.70" y2="615.88"/>
<line x1="37.50" y1="609.52" x2="39.70" y2="609.52"/>
<line x1="37.50" y1="603.16" x2="39.70" y2="603.16"/>
<line x1="37.50" y1="590.44" x2="39.70" y2="590.44"/>
<line x1="37.50" y1="584.08" x2="39.70" y2="584.08"/>
<line x1="37.50" y1="577.72" x2="39.70" y2="577.72"/>
<line x1="37.50" y1="571.36" x2="39.70" y2="571.36"/>
<line x1="37.50" y1="558.64" x2="39.70" y2="558.64"/>
<line x1="37.50" y1="552.28" x2="39.70" y2="552.28"/>
<line x1="37.50" y1="545.92" x2="39.70" y2="545.92"/>
<line x1="37.50" y1="539.56" x2="39.70" y2="539.56"/>
<line x1="37.50" y1="526.84" x2="39.70" y2="526.84"/>
<line x1="37.50" y1="520.48" x2="39.70" y2="520.48"/>
<line x1="37.50" y1="514.12" x2="39.70" y2="514.12"/>
<line x1="37.50" y1="507.76" x2="39.70" y2="507.76"/>
<line x1="37.50" y1="692.20" x2="37.50" y2="695.20"/>
<line x1="89.00" y1="692.20" x2="89.00" y2="695.20"/>
<line x1="140.50" y1="692.20" x2="140.50" y2="695.20"/>
<line x1="192.00" y1="692.20" x2="192.00" y2="695.20"/>
<line x1="243.50" y1="692.20" x2="243.50" y2="695.20"/>
<line x1="295.00" y1="692.20" x2="295.00" y2="695.20"/>
</g>
<g font-family="'Liberation Sans', sans-serif" font-size="10.2" fill="#111" stroke="#111" stroke-width="0.12">
<text x="28.6" y="695.80" text-anchor="end">0</text>
<text x="28.6" y="664.00" text-anchor="end">10</text>
<text x="28.6" y="632.20" text-anchor="end">20</text>
<text x="28.6" y="600.40" text-anchor="end">30</text>
<text x="28.6" y="568.60" text-anchor="end">40</text>
<text x="28.6" y="536.80" text-anchor="end">50</text>
<text x="28.6" y="505.00" text-anchor="end">60</text>
</g>
<rect x="40.90" y="559.59" width="4.47" height="132.61" fill="#c00000" stroke="#a00000" stroke-width="0.5"/>
<rect x="45.37" y="605.70" width="4.47" height="86.50" fill="#ff6640" stroke="#d84a2a" stroke-width="0.5"/>
<rect x="49.84" y="610.47" width="4.47" height="81.73" fill="#e8875e" stroke="#c46a48" stroke-width="0.5"/>
<rect x="54.31" y="606.34" width="4.47" height="85.86" fill="#e46c0a" stroke="#b85508" stroke-width="0.5"/>
<rect x="58.78" y="635.60" width="4.47" height="56.60" fill="#fbc08e" stroke="#e09a60" stroke-width="0.5"/>
<rect x="63.25" y="633.05" width="4.47" height="59.15" fill="#dde6f4" stroke="#a8b8cc" stroke-width="0.5"/>
<rect x="67.72" y="633.05" width="4.47" height="59.15" fill="#93cddd" stroke="#6aaabb" stroke-width="0.5"/>
<rect x="72.19" y="613.02" width="4.47" height="79.18" fill="#3b8fc7" stroke="#2a70a0" stroke-width="0.5"/>
<rect x="76.66" y="631.14" width="4.47" height="61.06" fill="#345f97" stroke="#24477a" stroke-width="0.5"/>
<rect x="81.13" y="640.05" width="4.47" height="52.15" fill="#243f62" stroke="#152a45" stroke-width="0.5"/>
<line x1="43.13" y1="529.07" x2="43.13" y2="590.12" stroke="rgba(90,90,90,0.35)" stroke-width="1.6"/>
<line x1="42.03" y1="529.07" x2="44.23" y2="529.07" stroke="#3a3a3a" stroke-width="0.8"/>
<line x1="42.03" y1="590.12" x2="44.23" y2="590.12" stroke="#3a3a3a" stroke-width="0.8"/>
<line x1="47.60" y1="589.80" x2="47.60" y2="621.60" stroke="#3a3a3a" stroke-width="0.8"/>
<line x1="46.50" y1="589.80" x2="48.70" y2="589.80" stroke="#3a3a3a" stroke-width="0.8"/>
<line x1="46.50" y1="621.60" x2="48.70" y2="621.60" stroke="#3a3a3a" stroke-width="0.8"/>
<line x1="52.07" y1="590.44" x2="52.07" y2="630.51" stroke="rgba(90,90,90,0.35)" stroke-width="1.6"/>
<line x1="50.97" y1="590.44" x2="53.17" y2="590.44" stroke="#3a3a3a" stroke-width="0.8"/>
<line x1="50.97" y1="630.51" x2="53.17" y2="630.51" stroke="#3a3a3a" stroke-width="0.8"/>
<line x1="56.55" y1="599.98" x2="56.55" y2="612.70" stroke="#3a3a3a" stroke-width="0.8"/>
<line x1="55.45" y1="599.98" x2="57.65" y2="599.98" stroke="#3a3a3a" stroke-width="0.8"/>
<line x1="55.45" y1="612.70" x2="57.65" y2="612.70" stroke="#3a3a3a" stroke-width="0.8"/>
<line x1="61.02" y1="625.74" x2="61.02" y2="645.45" stroke="rgba(90,90,90,0.35)" stroke-width="1.6"/>
<line x1="59.91" y1="625.74" x2="62.12" y2="625.74" stroke="#3a3a3a" stroke-width="0.8"/>
<line x1="59.91" y1="645.45" x2="62.12" y2="645.45" stroke="#3a3a3a" stroke-width="0.8"/>
<line x1="65.48" y1="622.24" x2="65.48" y2="643.86" stroke="#3a3a3a" stroke-width="0.8"/>
<line x1="64.39" y1="622.24" x2="66.58" y2="622.24" stroke="#3a3a3a" stroke-width="0.8"/>
<line x1="64.39" y1="643.86" x2="66.58" y2="643.86" stroke="#3a3a3a" stroke-width="0.8"/>
<line x1="69.95" y1="632.10" x2="69.95" y2="634.01" stroke="#3a3a3a" stroke-width="0.8"/>
<line x1="68.86" y1="632.10" x2="71.05" y2="632.10" stroke="#3a3a3a" stroke-width="0.8"/>
<line x1="68.86" y1="634.01" x2="71.05" y2="634.01" stroke="#3a3a3a" stroke-width="0.8"/>
<line x1="74.42" y1="611.75" x2="74.42" y2="614.29" stroke="#3a3a3a" stroke-width="0.8"/>
<line x1="73.33" y1="611.75" x2="75.52" y2="611.75" stroke="#3a3a3a" stroke-width="0.8"/>
<line x1="73.33" y1="614.29" x2="75.52" y2="614.29" stroke="#3a3a3a" stroke-width="0.8"/>
<line x1="78.89" y1="628.60" x2="78.89" y2="633.69" stroke="#3a3a3a" stroke-width="0.8"/>
<line x1="77.80" y1="628.60" x2="79.99" y2="628.60" stroke="#3a3a3a" stroke-width="0.8"/>
<line x1="77.80" y1="633.69" x2="79.99" y2="633.69" stroke="#3a3a3a" stroke-width="0.8"/>
<line x1="83.36" y1="638.78" x2="83.36" y2="641.32" stroke="#3a3a3a" stroke-width="0.8"/>
<line x1="82.27" y1="638.78" x2="84.46" y2="638.78" stroke="#3a3a3a" stroke-width="0.8"/>
<line x1="82.27" y1="641.32" x2="84.46" y2="641.32" stroke="#3a3a3a" stroke-width="0.8"/>
<text x="63.25" y="709.2" font-family="'Liberation Sans', sans-serif" font-size="11.1" fill="#111" stroke="#111" stroke-width="0.12" text-anchor="middle">Fe2O3</text>
<rect x="92.40" y="617.15" width="4.47" height="75.05" fill="#c00000" stroke="#a00000" stroke-width="0.5"/>
<rect x="96.87" y="587.58" width="4.47" height="104.62" fill="#ff6640" stroke="#d84a2a" stroke-width="0.5"/>
<rect x="101.34" y="593.62" width="4.47" height="98.58" fill="#e8875e" stroke="#c46a48" stroke-width="0.5"/>
<rect x="105.81" y="585.35" width="4.47" height="106.85" fill="#e46c0a" stroke="#b85508" stroke-width="0.5"/>
<rect x="110.28" y="578.36" width="4.47" height="113.84" fill="#fbc08e" stroke="#e09a60" stroke-width="0.5"/>
<rect x="114.75" y="575.81" width="4.47" height="116.39" fill="#dde6f4" stroke="#a8b8cc" stroke-width="0.5"/>
<rect x="119.22" y="567.86" width="4.47" height="124.34" fill="#93cddd" stroke="#6aaabb" stroke-width="0.5"/>
<rect x="123.69" y="586.94" width="4.47" height="105.26" fill="#3b8fc7" stroke="#2a70a0" stroke-width="0.5"/>
<rect x="128.16" y="578.36" width="4.47" height="113.84" fill="#345f97" stroke="#24477a" stroke-width="0.5"/>
<rect x="132.63" y="560.23" width="4.47" height="131.97" fill="#243f62" stroke="#152a45" stroke-width="0.5"/>
<line x1="94.64" y1="593.94" x2="94.64" y2="640.37" stroke="#3a3a3a" stroke-width="0.8"/>
<line x1="93.54" y1="593.94" x2="95.73" y2="593.94" stroke="#3a3a3a" stroke-width="0.8"/>
<line x1="93.54" y1="640.37" x2="95.73" y2="640.37" stroke="#3a3a3a" stroke-width="0.8"/>
<line x1="99.11" y1="578.36" x2="99.11" y2="596.80" stroke="rgba(90,90,90,0.35)" stroke-width="1.6"/>
<line x1="98.01" y1="578.36" x2="100.20" y2="578.36" stroke="#3a3a3a" stroke-width="0.8"/>
<line x1="98.01" y1="596.80" x2="100.20" y2="596.80" stroke="#3a3a3a" stroke-width="0.8"/>
<line x1="103.58" y1="581.85" x2="103.58" y2="605.39" stroke="#3a3a3a" stroke-width="0.8"/>
<line x1="102.48" y1="581.85" x2="104.67" y2="581.85" stroke="#3a3a3a" stroke-width="0.8"/>
<line x1="102.48" y1="605.39" x2="104.67" y2="605.39" stroke="#3a3a3a" stroke-width="0.8"/>
<line x1="108.05" y1="580.58" x2="108.05" y2="590.12" stroke="#3a3a3a" stroke-width="0.8"/>
<line x1="106.95" y1="580.58" x2="109.14" y2="580.58" stroke="#3a3a3a" stroke-width="0.8"/>
<line x1="106.95" y1="590.12" x2="109.14" y2="590.12" stroke="#3a3a3a" stroke-width="0.8"/>
<line x1="112.52" y1="572.00" x2="112.52" y2="584.72" stroke="#3a3a3a" stroke-width="0.8"/>
<line x1="111.42" y1="572.00" x2="113.61" y2="572.00" stroke="#3a3a3a" stroke-width="0.8"/>
<line x1="111.42" y1="584.72" x2="113.61" y2="584.72" stroke="#3a3a3a" stroke-width="0.8"/>
<line x1="116.98" y1="570.72" x2="116.98" y2="580.90" stroke="#3a3a3a" stroke-width="0.8"/>
<line x1="115.89" y1="570.72" x2="118.08" y2="570.72" stroke="#3a3a3a" stroke-width="0.8"/>
<line x1="115.89" y1="580.90" x2="118.08" y2="580.90" stroke="#3a3a3a" stroke-width="0.8"/>
<line x1="121.45" y1="564.68" x2="121.45" y2="571.04" stroke="#3a3a3a" stroke-width="0.8"/>
<line x1="120.36" y1="564.68" x2="122.55" y2="564.68" stroke="#3a3a3a" stroke-width="0.8"/>
<line x1="120.36" y1="571.04" x2="122.55" y2="571.04" stroke="#3a3a3a" stroke-width="0.8"/>
<line x1="125.92" y1="583.76" x2="125.92" y2="590.12" stroke="#3a3a3a" stroke-width="0.8"/>
<line x1="124.83" y1="583.76" x2="127.02" y2="583.76" stroke="#3a3a3a" stroke-width="0.8"/>
<line x1="124.83" y1="590.12" x2="127.02" y2="590.12" stroke="#3a3a3a" stroke-width="0.8"/>
<line x1="130.40" y1="576.77" x2="130.40" y2="579.95" stroke="#3a3a3a" stroke-width="0.8"/>
<line x1="129.30" y1="576.77" x2="131.50" y2="576.77" stroke="#3a3a3a" stroke-width="0.8"/>
<line x1="129.30" y1="579.95" x2="131.50" y2="579.95" stroke="#3a3a3a" stroke-width="0.8"/>
<line x1="134.87" y1="559.59" x2="134.87" y2="560.87" stroke="#3a3a3a" stroke-width="0.8"/>
<line x1="133.77" y1="559.59" x2="135.97" y2="559.59" stroke="#3a3a3a" stroke-width="0.8"/>
<line x1="133.77" y1="560.87" x2="135.97" y2="560.87" stroke="#3a3a3a" stroke-width="0.8"/>
<text x="114.75" y="709.2" font-family="'Liberation Sans', sans-serif" font-size="11.1" fill="#111" stroke="#111" stroke-width="0.12" text-anchor="middle">SiO2</text>
<rect x="143.90" y="664.22" width="4.47" height="27.98" fill="#c00000" stroke="#a00000" stroke-width="0.5"/>
<rect x="148.37" y="639.73" width="4.47" height="52.47" fill="#ff6640" stroke="#d84a2a" stroke-width="0.5"/>
<rect x="152.84" y="650.22" width="4.47" height="41.98" fill="#e8875e" stroke="#c46a48" stroke-width="0.5"/>
<rect x="157.31" y="645.45" width="4.47" height="46.75" fill="#e46c0a" stroke="#b85508" stroke-width="0.5"/>
<rect x="161.78" y="644.50" width="4.47" height="47.70" fill="#fbc08e" stroke="#e09a60" stroke-width="0.5"/>
<rect x="166.25" y="622.24" width="4.47" height="69.96" fill="#dde6f4" stroke="#a8b8cc" stroke-width="0.5"/>
<rect x="170.72" y="643.86" width="4.47" height="48.34" fill="#93cddd" stroke="#6aaabb" stroke-width="0.5"/>
<rect x="175.19" y="678.21" width="4.47" height="13.99" fill="#3b8fc7" stroke="#2a70a0" stroke-width="0.5"/>
<rect x="179.66" y="682.02" width="4.47" height="10.18" fill="#345f97" stroke="#24477a" stroke-width="0.5"/>
<rect x="184.13" y="659.45" width="4.47" height="32.75" fill="#243f62" stroke="#152a45" stroke-width="0.5"/>
<line x1="146.14" y1="643.55" x2="146.14" y2="684.89" stroke="rgba(90,90,90,0.35)" stroke-width="1.6"/>
<line x1="145.04" y1="643.55" x2="147.24" y2="643.55" stroke="#3a3a3a" stroke-width="0.8"/>
<line x1="145.04" y1="684.89" x2="147.24" y2="684.89" stroke="#3a3a3a" stroke-width="0.8"/>
<line x1="150.61" y1="630.83" x2="150.61" y2="648.63" stroke="#3a3a3a" stroke-width="0.8"/>
<line x1="149.51" y1="630.83" x2="151.71" y2="630.83" stroke="#3a3a3a" stroke-width="0.8"/>
<line x1="149.51" y1="648.63" x2="151.71" y2="648.63" stroke="#3a3a3a" stroke-width="0.8"/>
<line x1="155.08" y1="636.23" x2="155.08" y2="664.22" stroke="rgba(90,90,90,0.35)" stroke-width="1.6"/>
<line x1="153.98" y1="636.23" x2="156.18" y2="636.23" stroke="#3a3a3a" stroke-width="0.8"/>
<line x1="153.98" y1="664.22" x2="156.18" y2="664.22" stroke="#3a3a3a" stroke-width="0.8"/>
<line x1="159.55" y1="640.05" x2="159.55" y2="650.86" stroke="#3a3a3a" stroke-width="0.8"/>
<line x1="158.45" y1="640.05" x2="160.65" y2="640.05" stroke="#3a3a3a" stroke-width="0.8"/>
<line x1="158.45" y1="650.86" x2="160.65" y2="650.86" stroke="#3a3a3a" stroke-width="0.8"/>
<line x1="164.02" y1="607.93" x2="164.02" y2="681.07" stroke="rgba(90,90,90,0.35)" stroke-width="1.6"/>
<line x1="162.92" y1="607.93" x2="165.12" y2="607.93" stroke="#3a3a3a" stroke-width="0.8"/>
<line x1="162.92" y1="681.07" x2="165.12" y2="681.07" stroke="#3a3a3a" stroke-width="0.8"/>
<line x1="168.49" y1="603.16" x2="168.49" y2="641.32" stroke="#3a3a3a" stroke-width="0.8"/>
<line x1="167.39" y1="603.16" x2="169.59" y2="603.16" stroke="#3a3a3a" stroke-width="0.8"/>
<line x1="167.39" y1="641.32" x2="169.59" y2="641.32" stroke="#3a3a3a" stroke-width="0.8"/>
<line x1="172.96" y1="643.23" x2="172.96" y2="644.50" stroke="#3a3a3a" stroke-width="0.8"/>
<line x1="171.86" y1="643.23" x2="174.06" y2="643.23" stroke="#3a3a3a" stroke-width="0.8"/>
<line x1="171.86" y1="644.50" x2="174.06" y2="644.50" stroke="#3a3a3a" stroke-width="0.8"/>
<line x1="177.43" y1="674.07" x2="177.43" y2="682.34" stroke="#3a3a3a" stroke-width="0.8"/>
<line x1="176.33" y1="674.07" x2="178.53" y2="674.07" stroke="#3a3a3a" stroke-width="0.8"/>
<line x1="176.33" y1="682.34" x2="178.53" y2="682.34" stroke="#3a3a3a" stroke-width="0.8"/>
<line x1="181.90" y1="681.07" x2="181.90" y2="682.98" stroke="#3a3a3a" stroke-width="0.8"/>
<line x1="180.80" y1="681.07" x2="183.00" y2="681.07" stroke="#3a3a3a" stroke-width="0.8"/>
<line x1="180.80" y1="682.98" x2="183.00" y2="682.98" stroke="#3a3a3a" stroke-width="0.8"/>
<line x1="186.37" y1="657.86" x2="186.37" y2="661.04" stroke="#3a3a3a" stroke-width="0.8"/>
<line x1="185.27" y1="657.86" x2="187.47" y2="657.86" stroke="#3a3a3a" stroke-width="0.8"/>
<line x1="185.27" y1="661.04" x2="187.47" y2="661.04" stroke="#3a3a3a" stroke-width="0.8"/>
<text x="166.25" y="709.2" font-family="'Liberation Sans', sans-serif" font-size="11.1" fill="#111" stroke="#111" stroke-width="0.12" text-anchor="middle">MgO</text>
<rect x="195.40" y="678.84" width="4.47" height="13.36" fill="#c00000" stroke="#a00000" stroke-width="0.5"/>
<rect x="199.87" y="684.25" width="4.47" height="7.95" fill="#ff6640" stroke="#d84a2a" stroke-width="0.5"/>
<rect x="204.34" y="673.44" width="4.47" height="18.76" fill="#e8875e" stroke="#c46a48" stroke-width="0.5"/>
<rect x="208.81" y="676.62" width="4.47" height="15.58" fill="#e46c0a" stroke="#b85508" stroke-width="0.5"/>
<rect x="213.28" y="649.27" width="4.47" height="42.93" fill="#fbc08e" stroke="#e09a60" stroke-width="0.5"/>
<rect x="217.75" y="671.53" width="4.47" height="20.67" fill="#dde6f4" stroke="#a8b8cc" stroke-width="0.5"/>
<rect x="222.22" y="665.49" width="4.47" height="26.71" fill="#93cddd" stroke="#6aaabb" stroke-width="0.5"/>
<rect x="226.69" y="641.32" width="4.47" height="50.88" fill="#3b8fc7" stroke="#2a70a0" stroke-width="0.5"/>
<rect x="231.16" y="624.15" width="4.47" height="68.05" fill="#345f97" stroke="#24477a" stroke-width="0.5"/>
<rect x="235.63" y="648.32" width="4.47" height="43.88" fill="#243f62" stroke="#152a45" stroke-width="0.5"/>
<line x1="197.64" y1="670.89" x2="197.64" y2="686.79" stroke="#3a3a3a" stroke-width="0.8"/>
<line x1="196.54" y1="670.89" x2="198.74" y2="670.89" stroke="#3a3a3a" stroke-width="0.8"/>
<line x1="196.54" y1="686.79" x2="198.74" y2="686.79" stroke="#3a3a3a" stroke-width="0.8"/>
<line x1="202.11" y1="683.61" x2="202.11" y2="684.89" stroke="#3a3a3a" stroke-width="0.8"/>
<line x1="201.01" y1="683.61" x2="203.21" y2="683.61" stroke="#3a3a3a" stroke-width="0.8"/>
<line x1="201.01" y1="684.89" x2="203.21" y2="684.89" stroke="#3a3a3a" stroke-width="0.8"/>
<line x1="206.58" y1="668.99" x2="206.58" y2="677.89" stroke="#3a3a3a" stroke-width="0.8"/>
<line x1="205.48" y1="668.99" x2="207.68" y2="668.99" stroke="#3a3a3a" stroke-width="0.8"/>
<line x1="205.48" y1="677.89" x2="207.68" y2="677.89" stroke="#3a3a3a" stroke-width="0.8"/>
<line x1="211.05" y1="673.44" x2="211.05" y2="679.80" stroke="#3a3a3a" stroke-width="0.8"/>
<line x1="209.95" y1="673.44" x2="212.15" y2="673.44" stroke="#3a3a3a" stroke-width="0.8"/>
<line x1="209.95" y1="679.80" x2="212.15" y2="679.80" stroke="#3a3a3a" stroke-width="0.8"/>
<line x1="215.52" y1="615.88" x2="215.52" y2="682.66" stroke="#3a3a3a" stroke-width="0.8"/>
<line x1="214.42" y1="615.88" x2="216.62" y2="615.88" stroke="#3a3a3a" stroke-width="0.8"/>
<line x1="214.42" y1="682.66" x2="216.62" y2="682.66" stroke="#3a3a3a" stroke-width="0.8"/>
<line x1="219.99" y1="662.63" x2="219.99" y2="680.43" stroke="rgba(90,90,90,0.35)" stroke-width="1.6"/>
<line x1="218.89" y1="662.63" x2="221.09" y2="662.63" stroke="#3a3a3a" stroke-width="0.8"/>
<line x1="218.89" y1="680.43" x2="221.09" y2="680.43" stroke="#3a3a3a" stroke-width="0.8"/>
<line x1="224.46" y1="664.85" x2="224.46" y2="666.12" stroke="#3a3a3a" stroke-width="0.8"/>
<line x1="223.36" y1="664.85" x2="225.56" y2="664.85" stroke="#3a3a3a" stroke-width="0.8"/>
<line x1="223.36" y1="666.12" x2="225.56" y2="666.12" stroke="#3a3a3a" stroke-width="0.8"/>
<line x1="228.93" y1="636.87" x2="228.93" y2="645.77" stroke="#3a3a3a" stroke-width="0.8"/>
<line x1="227.83" y1="636.87" x2="230.03" y2="636.87" stroke="#3a3a3a" stroke-width="0.8"/>
<line x1="227.83" y1="645.77" x2="230.03" y2="645.77" stroke="#3a3a3a" stroke-width="0.8"/>
<line x1="233.40" y1="619.70" x2="233.40" y2="628.60" stroke="#3a3a3a" stroke-width="0.8"/>
<line x1="232.30" y1="619.70" x2="234.50" y2="619.70" stroke="#3a3a3a" stroke-width="0.8"/>
<line x1="232.30" y1="628.60" x2="234.50" y2="628.60" stroke="#3a3a3a" stroke-width="0.8"/>
<line x1="237.87" y1="647.68" x2="237.87" y2="648.95" stroke="#3a3a3a" stroke-width="0.8"/>
<line x1="236.77" y1="647.68" x2="238.97" y2="647.68" stroke="#3a3a3a" stroke-width="0.8"/>
<line x1="236.77" y1="648.95" x2="238.97" y2="648.95" stroke="#3a3a3a" stroke-width="0.8"/>
<text x="217.75" y="709.2" font-family="'Liberation Sans', sans-serif" font-size="11.1" fill="#111" stroke="#111" stroke-width="0.12" text-anchor="middle">Al2O3</text>
<rect x="246.90" y="691.60" width="4.47" height="0.60" fill="#c00000" stroke="#a00000" stroke-width="0.5"/>
<rect x="251.37" y="691.37" width="4.47" height="0.83" fill="#ff6640" stroke="#d84a2a" stroke-width="0.5"/>
<rect x="255.84" y="690.77" width="4.47" height="1.43" fill="#e8875e" stroke="#c46a48" stroke-width="0.5"/>
<rect x="260.31" y="691.82" width="4.47" height="0.38" fill="#e46c0a" stroke="#b85508" stroke-width="0.5"/>
<rect x="264.78" y="690.77" width="4.47" height="1.43" fill="#fbc08e" stroke="#e09a60" stroke-width="0.5"/>
<rect x="269.25" y="689.15" width="4.47" height="3.05" fill="#dde6f4" stroke="#a8b8cc" stroke-width="0.5"/>
<rect x="273.72" y="684.79" width="4.47" height="7.41" fill="#93cddd" stroke="#6aaabb" stroke-width="0.5"/>
<rect x="278.19" y="687.08" width="4.47" height="5.12" fill="#3b8fc7" stroke="#2a70a0" stroke-width="0.5"/>
<rect x="282.66" y="686.89" width="4.47" height="5.31" fill="#345f97" stroke="#24477a" stroke-width="0.5"/>
<rect x="287.13" y="680.05" width="4.47" height="12.15" fill="#243f62" stroke="#152a45" stroke-width="0.5"/>
<text x="269.25" y="709.2" font-family="'Liberation Sans', sans-serif" font-size="11.1" fill="#111" stroke="#111" stroke-width="0.12" text-anchor="middle">CaO</text>
<g stroke="#a6a6a6" stroke-width="1" fill="none">
<line x1="332.4" y1="502.36" x2="332.4" y2="692.60"/>
<line x1="329.00" y1="692.60" x2="612.40" y2="692.60"/>
<line x1="329.00" y1="692.60" x2="334.60" y2="692.60"/>
<line x1="329.00" y1="668.82" x2="334.60" y2="668.82"/>
<line x1="329.00" y1="645.04" x2="334.60" y2="645.04"/>
<line x1="329.00" y1="621.26" x2="334.60" y2="621.26"/>
<line x1="329.00" y1="597.48" x2="334.60" y2="597.48"/>
<line x1="329.00" y1="573.70" x2="334.60" y2="573.70"/>
<line x1="329.00" y1="549.92" x2="334.60" y2="549.92"/>
<line x1="329.00" y1="526.14" x2="334.60" y2="526.14"/>
<line x1="329.00" y1="502.36" x2="334.60" y2="502.36"/>
<line x1="332.40" y1="686.65" x2="334.60" y2="686.65"/>
<line x1="332.40" y1="680.71" x2="334.60" y2="680.71"/>
<line x1="332.40" y1="674.76" x2="334.60" y2="674.76"/>
<line x1="332.40" y1="662.88" x2="334.60" y2="662.88"/>
<line x1="332.40" y1="656.93" x2="334.60" y2="656.93"/>
<line x1="332.40" y1="650.99" x2="334.60" y2="650.99"/>
<line x1="332.40" y1="639.10" x2="334.60" y2="639.10"/>
<line x1="332.40" y1="633.15" x2="334.60" y2="633.15"/>
<line x1="332.40" y1="627.21" x2="334.60" y2="627.21"/>
<line x1="332.40" y1="615.32" x2="334.60" y2="615.32"/>
<line x1="332.40" y1="609.37" x2="334.60" y2="609.37"/>
<line x1="332.40" y1="603.42" x2="334.60" y2="603.42"/>
<line x1="332.40" y1="591.53" x2="334.60" y2="591.53"/>
<line x1="332.40" y1="585.59" x2="334.60" y2="585.59"/>
<line x1="332.40" y1="579.64" x2="334.60" y2="579.64"/>
<line x1="332.40" y1="567.75" x2="334.60" y2="567.75"/>
<line x1="332.40" y1="561.81" x2="334.60" y2="561.81"/>
<line x1="332.40" y1="555.87" x2="334.60" y2="555.87"/>
<line x1="332.40" y1="543.98" x2="334.60" y2="543.98"/>
<line x1="332.40" y1="538.03" x2="334.60" y2="538.03"/>
<line x1="332.40" y1="532.09" x2="334.60" y2="532.09"/>
<line x1="332.40" y1="520.19" x2="334.60" y2="520.19"/>
<line x1="332.40" y1="514.25" x2="334.60" y2="514.25"/>
<line x1="332.40" y1="508.31" x2="334.60" y2="508.31"/>
<line x1="332.40" y1="692.60" x2="332.40" y2="695.60"/>
<line x1="388.40" y1="692.60" x2="388.40" y2="695.60"/>
<line x1="444.40" y1="692.60" x2="444.40" y2="695.60"/>
<line x1="500.40" y1="692.60" x2="500.40" y2="695.60"/>
<line x1="556.40" y1="692.60" x2="556.40" y2="695.60"/>
<line x1="612.40" y1="692.60" x2="612.40" y2="695.60"/>
</g>
<g font-family="'Liberation Sans', sans-serif" font-size="10.2" fill="#111" stroke="#111" stroke-width="0.12">
<text x="324.0" y="696.20" text-anchor="end">0</text>
<text x="324.0" y="672.42" text-anchor="end">0,2</text>
<text x="324.0" y="648.64" text-anchor="end">0,4</text>
<text x="324.0" y="624.86" text-anchor="end">0,6</text>
<text x="324.0" y="601.08" text-anchor="end">0,8</text>
<text x="324.0" y="577.30" text-anchor="end">1</text>
<text x="324.0" y="553.52" text-anchor="end">1,2</text>
<text x="324.0" y="529.74" text-anchor="end">1,4</text>
<text x="324.0" y="505.96" text-anchor="end">1,6</text>
</g>
<rect x="335.90" y="672.86" width="4.90" height="19.74" fill="#c00000" stroke="#a00000" stroke-width="0.5"/>
<rect x="340.80" y="682.37" width="4.90" height="10.23" fill="#ff6640" stroke="#d84a2a" stroke-width="0.5"/>
<rect x="345.70" y="668.23" width="4.90" height="24.37" fill="#e8875e" stroke="#c46a48" stroke-width="0.5"/>
<rect x="350.60" y="678.09" width="4.90" height="14.51" fill="#e46c0a" stroke="#b85508" stroke-width="0.5"/>
<rect x="355.50" y="625.18" width="4.90" height="67.42" fill="#fbc08e" stroke="#e09a60" stroke-width="0.5"/>
<rect x="360.40" y="663.35" width="4.90" height="29.25" fill="#dde6f4" stroke="#a8b8cc" stroke-width="0.5"/>
<rect x="365.30" y="637.31" width="4.90" height="55.29" fill="#93cddd" stroke="#6aaabb" stroke-width="0.5"/>
<rect x="370.20" y="585.59" width="4.90" height="107.01" fill="#3b8fc7" stroke="#2a70a0" stroke-width="0.5"/>
<rect x="375.10" y="573.70" width="4.90" height="118.90" fill="#345f97" stroke="#24477a" stroke-width="0.5"/>
<rect x="380.00" y="601.40" width="4.90" height="91.20" fill="#243f62" stroke="#152a45" stroke-width="0.5"/>
<line x1="338.35" y1="662.16" x2="338.35" y2="683.56" stroke="#3a3a3a" stroke-width="0.8"/>
<line x1="337.25" y1="662.16" x2="339.45" y2="662.16" stroke="#3a3a3a" stroke-width="0.8"/>
<line x1="337.25" y1="683.56" x2="339.45" y2="683.56" stroke="#3a3a3a" stroke-width="0.8"/>
<line x1="343.25" y1="680.59" x2="343.25" y2="684.16" stroke="#3a3a3a" stroke-width="0.8"/>
<line x1="342.15" y1="680.59" x2="344.35" y2="680.59" stroke="#3a3a3a" stroke-width="0.8"/>
<line x1="342.15" y1="684.16" x2="344.35" y2="684.16" stroke="#3a3a3a" stroke-width="0.8"/>
<line x1="348.15" y1="657.52" x2="348.15" y2="678.93" stroke="#3a3a3a" stroke-width="0.8"/>
<line x1="347.05" y1="657.52" x2="349.25" y2="657.52" stroke="#3a3a3a" stroke-width="0.8"/>
<line x1="347.05" y1="678.93" x2="349.25" y2="678.93" stroke="#3a3a3a" stroke-width="0.8"/>
<line x1="353.05" y1="673.34" x2="353.05" y2="682.85" stroke="#3a3a3a" stroke-width="0.8"/>
<line x1="351.95" y1="673.34" x2="354.15" y2="673.34" stroke="#3a3a3a" stroke-width="0.8"/>
<line x1="351.95" y1="682.85" x2="354.15" y2="682.85" stroke="#3a3a3a" stroke-width="0.8"/>
<line x1="357.95" y1="568.71" x2="357.95" y2="681.66" stroke="rgba(90,90,90,0.35)" stroke-width="1.6"/>
<line x1="356.85" y1="568.71" x2="359.05" y2="568.71" stroke="#3a3a3a" stroke-width="0.8"/>
<line x1="356.85" y1="681.66" x2="359.05" y2="681.66" stroke="#3a3a3a" stroke-width="0.8"/>
<line x1="362.85" y1="652.06" x2="362.85" y2="674.65" stroke="rgba(90,90,90,0.35)" stroke-width="1.6"/>
<line x1="361.75" y1="652.06" x2="363.95" y2="652.06" stroke="#3a3a3a" stroke-width="0.8"/>
<line x1="361.75" y1="674.65" x2="363.95" y2="674.65" stroke="#3a3a3a" stroke-width="0.8"/>
<line x1="367.75" y1="633.74" x2="367.75" y2="640.88" stroke="#3a3a3a" stroke-width="0.8"/>
<line x1="366.65" y1="633.74" x2="368.85" y2="633.74" stroke="#3a3a3a" stroke-width="0.8"/>
<line x1="366.65" y1="640.88" x2="368.85" y2="640.88" stroke="#3a3a3a" stroke-width="0.8"/>
<line x1="372.65" y1="573.70" x2="372.65" y2="597.48" stroke="#3a3a3a" stroke-width="0.8"/>
<line x1="371.55" y1="573.70" x2="373.75" y2="573.70" stroke="#3a3a3a" stroke-width="0.8"/>
<line x1="371.55" y1="597.48" x2="373.75" y2="597.48" stroke="#3a3a3a" stroke-width="0.8"/>
<line x1="377.55" y1="571.32" x2="377.55" y2="576.08" stroke="#3a3a3a" stroke-width="0.8"/>
<line x1="376.45" y1="571.32" x2="378.65" y2="571.32" stroke="#3a3a3a" stroke-width="0.8"/>
<line x1="376.45" y1="576.08" x2="378.65" y2="576.08" stroke="#3a3a3a" stroke-width="0.8"/>
<line x1="382.45" y1="597.84" x2="382.45" y2="604.97" stroke="#3a3a3a" stroke-width="0.8"/>
<line x1="381.35" y1="597.84" x2="383.55" y2="597.84" stroke="#3a3a3a" stroke-width="0.8"/>
<line x1="381.35" y1="604.97" x2="383.55" y2="604.97" stroke="#3a3a3a" stroke-width="0.8"/>
<text x="360.40" y="709.2" font-family="'Liberation Sans', sans-serif" font-size="11.1" fill="#111" stroke="#111" stroke-width="0.12" text-anchor="middle">TiO2</text>
<rect x="391.90" y="543.14" width="4.90" height="149.46" fill="#c00000" stroke="#a00000" stroke-width="0.5"/>
<rect x="396.80" y="551.82" width="4.90" height="140.78" fill="#ff6640" stroke="#d84a2a" stroke-width="0.5"/>
<rect x="401.70" y="612.22" width="4.90" height="80.38" fill="#e8875e" stroke="#c46a48" stroke-width="0.5"/>
<rect x="406.60" y="593.44" width="4.90" height="99.16" fill="#e46c0a" stroke="#b85508" stroke-width="0.5"/>
<rect x="411.50" y="643.49" width="4.90" height="49.11" fill="#fbc08e" stroke="#e09a60" stroke-width="0.5"/>
<rect x="416.40" y="634.58" width="4.90" height="58.02" fill="#dde6f4" stroke="#a8b8cc" stroke-width="0.5"/>
<rect x="421.30" y="627.21" width="4.90" height="65.39" fill="#93cddd" stroke="#6aaabb" stroke-width="0.5"/>
<rect x="426.20" y="648.01" width="4.90" height="44.59" fill="#3b8fc7" stroke="#2a70a0" stroke-width="0.5"/>
<rect x="431.10" y="664.42" width="4.90" height="28.18" fill="#345f97" stroke="#24477a" stroke-width="0.5"/>
<rect x="436.00" y="670.96" width="4.90" height="21.64" fill="#243f62" stroke="#152a45" stroke-width="0.5"/>
<line x1="394.35" y1="526.50" x2="394.35" y2="559.79" stroke="#3a3a3a" stroke-width="0.8"/>
<line x1="393.25" y1="526.50" x2="395.45" y2="526.50" stroke="#3a3a3a" stroke-width="0.8"/>
<line x1="393.25" y1="559.79" x2="395.45" y2="559.79" stroke="#3a3a3a" stroke-width="0.8"/>
<line x1="399.25" y1="528.64" x2="399.25" y2="575.01" stroke="#3a3a3a" stroke-width="0.8"/>
<line x1="398.15" y1="528.64" x2="400.35" y2="528.64" stroke="#3a3a3a" stroke-width="0.8"/>
<line x1="398.15" y1="575.01" x2="400.35" y2="575.01" stroke="#3a3a3a" stroke-width="0.8"/>
<line x1="404.15" y1="602.35" x2="404.15" y2="622.09" stroke="#3a3a3a" stroke-width="0.8"/>
<line x1="403.05" y1="602.35" x2="405.25" y2="602.35" stroke="#3a3a3a" stroke-width="0.8"/>
<line x1="403.05" y1="622.09" x2="405.25" y2="622.09" stroke="#3a3a3a" stroke-width="0.8"/>
<line x1="409.05" y1="580.36" x2="409.05" y2="606.52" stroke="#3a3a3a" stroke-width="0.8"/>
<line x1="407.95" y1="580.36" x2="410.15" y2="580.36" stroke="#3a3a3a" stroke-width="0.8"/>
<line x1="407.95" y1="606.52" x2="410.15" y2="606.52" stroke="#3a3a3a" stroke-width="0.8"/>
<line x1="413.95" y1="618.53" x2="413.95" y2="668.46" stroke="#3a3a3a" stroke-width="0.8"/>
<line x1="412.85" y1="618.53" x2="415.05" y2="618.53" stroke="#3a3a3a" stroke-width="0.8"/>
<line x1="412.85" y1="668.46" x2="415.05" y2="668.46" stroke="#3a3a3a" stroke-width="0.8"/>
<line x1="418.85" y1="628.63" x2="418.85" y2="640.52" stroke="#3a3a3a" stroke-width="0.8"/>
<line x1="417.75" y1="628.63" x2="419.95" y2="628.63" stroke="#3a3a3a" stroke-width="0.8"/>
<line x1="417.75" y1="640.52" x2="419.95" y2="640.52" stroke="#3a3a3a" stroke-width="0.8"/>
<line x1="423.75" y1="626.02" x2="423.75" y2="628.39" stroke="#3a3a3a" stroke-width="0.8"/>
<line x1="422.65" y1="626.02" x2="424.85" y2="626.02" stroke="#3a3a3a" stroke-width="0.8"/>
<line x1="422.65" y1="628.39" x2="424.85" y2="628.39" stroke="#3a3a3a" stroke-width="0.8"/>
<line x1="428.65" y1="642.07" x2="428.65" y2="653.96" stroke="#3a3a3a" stroke-width="0.8"/>
<line x1="427.55" y1="642.07" x2="429.75" y2="642.07" stroke="#3a3a3a" stroke-width="0.8"/>
<line x1="427.55" y1="653.96" x2="429.75" y2="653.96" stroke="#3a3a3a" stroke-width="0.8"/>
<line x1="433.55" y1="662.64" x2="433.55" y2="666.20" stroke="#3a3a3a" stroke-width="0.8"/>
<line x1="432.45" y1="662.64" x2="434.65" y2="662.64" stroke="#3a3a3a" stroke-width="0.8"/>
<line x1="432.45" y1="666.20" x2="434.65" y2="666.20" stroke="#3a3a3a" stroke-width="0.8"/>
<line x1="438.45" y1="669.77" x2="438.45" y2="672.15" stroke="#3a3a3a" stroke-width="0.8"/>
<line x1="437.35" y1="669.77" x2="439.55" y2="669.77" stroke="#3a3a3a" stroke-width="0.8"/>
<line x1="437.35" y1="672.15" x2="439.55" y2="672.15" stroke="#3a3a3a" stroke-width="0.8"/>
<text x="416.40" y="709.2" font-family="'Liberation Sans', sans-serif" font-size="11.1" fill="#111" stroke="#111" stroke-width="0.12" text-anchor="middle">Ni</text>
<rect x="447.90" y="583.45" width="4.90" height="109.15" fill="#c00000" stroke="#a00000" stroke-width="0.5"/>
<rect x="452.80" y="603.42" width="4.90" height="89.18" fill="#ff6640" stroke="#d84a2a" stroke-width="0.5"/>
<rect x="457.70" y="612.22" width="4.90" height="80.38" fill="#e8875e" stroke="#c46a48" stroke-width="0.5"/>
<rect x="462.60" y="602.83" width="4.90" height="89.77" fill="#e46c0a" stroke="#b85508" stroke-width="0.5"/>
<rect x="467.50" y="658.48" width="4.90" height="34.12" fill="#fbc08e" stroke="#e09a60" stroke-width="0.5"/>
<rect x="472.40" y="622.09" width="4.90" height="70.51" fill="#dde6f4" stroke="#a8b8cc" stroke-width="0.5"/>
<rect x="477.30" y="605.45" width="4.90" height="87.15" fill="#93cddd" stroke="#6aaabb" stroke-width="0.5"/>
<rect x="482.20" y="611.39" width="4.90" height="81.21" fill="#3b8fc7" stroke="#2a70a0" stroke-width="0.5"/>
<rect x="487.10" y="659.90" width="4.90" height="32.70" fill="#345f97" stroke="#24477a" stroke-width="0.5"/>
<rect x="492.00" y="670.37" width="4.90" height="22.23" fill="#243f62" stroke="#152a45" stroke-width="0.5"/>
<line x1="450.35" y1="550.16" x2="450.35" y2="616.74" stroke="#3a3a3a" stroke-width="0.8"/>
<line x1="449.25" y1="550.16" x2="451.45" y2="550.16" stroke="#3a3a3a" stroke-width="0.8"/>
<line x1="449.25" y1="616.74" x2="451.45" y2="616.74" stroke="#3a3a3a" stroke-width="0.8"/>
<line x1="455.25" y1="594.51" x2="455.25" y2="612.34" stroke="#3a3a3a" stroke-width="0.8"/>
<line x1="454.15" y1="594.51" x2="456.35" y2="594.51" stroke="#3a3a3a" stroke-width="0.8"/>
<line x1="454.15" y1="612.34" x2="456.35" y2="612.34" stroke="#3a3a3a" stroke-width="0.8"/>
<line x1="460.15" y1="592.01" x2="460.15" y2="632.44" stroke="#3a3a3a" stroke-width="0.8"/>
<line x1="459.05" y1="592.01" x2="461.25" y2="592.01" stroke="#3a3a3a" stroke-width="0.8"/>
<line x1="459.05" y1="632.44" x2="461.25" y2="632.44" stroke="#3a3a3a" stroke-width="0.8"/>
<line x1="465.05" y1="597.48" x2="465.05" y2="608.18" stroke="#3a3a3a" stroke-width="0.8"/>
<line x1="463.95" y1="597.48" x2="466.15" y2="597.48" stroke="#3a3a3a" stroke-width="0.8"/>
<line x1="463.95" y1="608.18" x2="466.15" y2="608.18" stroke="#3a3a3a" stroke-width="0.8"/>
<line x1="469.95" y1="638.26" x2="469.95" y2="678.69" stroke="#3a3a3a" stroke-width="0.8"/>
<line x1="468.85" y1="638.26" x2="471.05" y2="638.26" stroke="#3a3a3a" stroke-width="0.8"/>
<line x1="468.85" y1="678.69" x2="471.05" y2="678.69" stroke="#3a3a3a" stroke-width="0.8"/>
<line x1="474.85" y1="604.26" x2="474.85" y2="639.93" stroke="rgba(90,90,90,0.35)" stroke-width="1.6"/>
<line x1="473.75" y1="604.26" x2="475.95" y2="604.26" stroke="#3a3a3a" stroke-width="0.8"/>
<line x1="473.75" y1="639.93" x2="475.95" y2="639.93" stroke="#3a3a3a" stroke-width="0.8"/>
<line x1="479.75" y1="604.26" x2="479.75" y2="606.64" stroke="#3a3a3a" stroke-width="0.8"/>
<line x1="478.65" y1="604.26" x2="480.85" y2="604.26" stroke="#3a3a3a" stroke-width="0.8"/>
<line x1="478.65" y1="606.64" x2="480.85" y2="606.64" stroke="#3a3a3a" stroke-width="0.8"/>
<line x1="484.65" y1="610.20" x2="484.65" y2="612.58" stroke="#3a3a3a" stroke-width="0.8"/>
<line x1="483.55" y1="610.20" x2="485.75" y2="610.20" stroke="#3a3a3a" stroke-width="0.8"/>
<line x1="483.55" y1="612.58" x2="485.75" y2="612.58" stroke="#3a3a3a" stroke-width="0.8"/>
<line x1="489.55" y1="650.99" x2="489.55" y2="668.82" stroke="#3a3a3a" stroke-width="0.8"/>
<line x1="488.45" y1="650.99" x2="490.65" y2="650.99" stroke="#3a3a3a" stroke-width="0.8"/>
<line x1="488.45" y1="668.82" x2="490.65" y2="668.82" stroke="#3a3a3a" stroke-width="0.8"/>
<line x1="494.45" y1="669.18" x2="494.45" y2="671.55" stroke="#3a3a3a" stroke-width="0.8"/>
<line x1="493.35" y1="669.18" x2="495.55" y2="669.18" stroke="#3a3a3a" stroke-width="0.8"/>
<line x1="493.35" y1="671.55" x2="495.55" y2="671.55" stroke="#3a3a3a" stroke-width="0.8"/>
<text x="472.40" y="709.2" font-family="'Liberation Sans', sans-serif" font-size="11.1" fill="#111" stroke="#111" stroke-width="0.12" text-anchor="middle">Cr</text>
<rect x="503.90" y="631.72" width="4.90" height="60.88" fill="#c00000" stroke="#a00000" stroke-width="0.5"/>
<rect x="508.80" y="652.53" width="4.90" height="40.07" fill="#ff6640" stroke="#d84a2a" stroke-width="0.5"/>
<rect x="513.70" y="651.58" width="4.90" height="41.02" fill="#e8875e" stroke="#c46a48" stroke-width="0.5"/>
<rect x="518.60" y="654.91" width="4.90" height="37.69" fill="#e46c0a" stroke="#b85508" stroke-width="0.5"/>
<rect x="523.50" y="664.42" width="4.90" height="28.18" fill="#fbc08e" stroke="#e09a60" stroke-width="0.5"/>
<rect x="528.40" y="661.45" width="4.90" height="31.15" fill="#dde6f4" stroke="#a8b8cc" stroke-width="0.5"/>
<rect x="533.30" y="635.53" width="4.90" height="57.07" fill="#93cddd" stroke="#6aaabb" stroke-width="0.5"/>
<rect x="538.20" y="637.55" width="4.90" height="55.05" fill="#3b8fc7" stroke="#2a70a0" stroke-width="0.5"/>
<rect x="543.10" y="656.93" width="4.90" height="35.67" fill="#345f97" stroke="#24477a" stroke-width="0.5"/>
<rect x="548.00" y="660.50" width="4.90" height="32.10" fill="#243f62" stroke="#152a45" stroke-width="0.5"/>
<line x1="506.35" y1="619.83" x2="506.35" y2="643.61" stroke="#3a3a3a" stroke-width="0.8"/>
<line x1="505.25" y1="619.83" x2="507.45" y2="619.83" stroke="#3a3a3a" stroke-width="0.8"/>
<line x1="505.25" y1="643.61" x2="507.45" y2="643.61" stroke="#3a3a3a" stroke-width="0.8"/>
<line x1="511.25" y1="645.40" x2="511.25" y2="659.66" stroke="#3a3a3a" stroke-width="0.8"/>
<line x1="510.15" y1="645.40" x2="512.35" y2="645.40" stroke="#3a3a3a" stroke-width="0.8"/>
<line x1="510.15" y1="659.66" x2="512.35" y2="659.66" stroke="#3a3a3a" stroke-width="0.8"/>
<line x1="516.15" y1="645.63" x2="516.15" y2="657.52" stroke="#3a3a3a" stroke-width="0.8"/>
<line x1="515.05" y1="645.63" x2="517.25" y2="645.63" stroke="#3a3a3a" stroke-width="0.8"/>
<line x1="515.05" y1="657.52" x2="517.25" y2="657.52" stroke="#3a3a3a" stroke-width="0.8"/>
<line x1="521.05" y1="648.37" x2="521.05" y2="661.45" stroke="#3a3a3a" stroke-width="0.8"/>
<line x1="519.95" y1="648.37" x2="522.15" y2="648.37" stroke="#3a3a3a" stroke-width="0.8"/>
<line x1="519.95" y1="661.45" x2="522.15" y2="661.45" stroke="#3a3a3a" stroke-width="0.8"/>
<line x1="525.95" y1="660.85" x2="525.95" y2="667.99" stroke="#3a3a3a" stroke-width="0.8"/>
<line x1="524.85" y1="660.85" x2="527.05" y2="660.85" stroke="#3a3a3a" stroke-width="0.8"/>
<line x1="524.85" y1="667.99" x2="527.05" y2="667.99" stroke="#3a3a3a" stroke-width="0.8"/>
<line x1="530.85" y1="656.10" x2="530.85" y2="666.80" stroke="#3a3a3a" stroke-width="0.8"/>
<line x1="529.75" y1="656.10" x2="531.95" y2="656.10" stroke="#3a3a3a" stroke-width="0.8"/>
<line x1="529.75" y1="666.80" x2="531.95" y2="666.80" stroke="#3a3a3a" stroke-width="0.8"/>
<line x1="535.75" y1="629.58" x2="535.75" y2="641.47" stroke="#3a3a3a" stroke-width="0.8"/>
<line x1="534.65" y1="629.58" x2="536.85" y2="629.58" stroke="#3a3a3a" stroke-width="0.8"/>
<line x1="534.65" y1="641.47" x2="536.85" y2="641.47" stroke="#3a3a3a" stroke-width="0.8"/>
<line x1="540.65" y1="636.95" x2="540.65" y2="638.14" stroke="#3a3a3a" stroke-width="0.8"/>
<line x1="539.55" y1="636.95" x2="541.75" y2="636.95" stroke="#3a3a3a" stroke-width="0.8"/>
<line x1="539.55" y1="638.14" x2="541.75" y2="638.14" stroke="#3a3a3a" stroke-width="0.8"/>
<line x1="545.55" y1="656.34" x2="545.55" y2="657.52" stroke="#3a3a3a" stroke-width="0.8"/>
<line x1="544.45" y1="656.34" x2="546.65" y2="656.34" stroke="#3a3a3a" stroke-width="0.8"/>
<line x1="544.45" y1="657.52" x2="546.65" y2="657.52" stroke="#3a3a3a" stroke-width="0.8"/>
<line x1="550.45" y1="660.14" x2="550.45" y2="660.85" stroke="#3a3a3a" stroke-width="0.8"/>
<line x1="549.35" y1="660.14" x2="551.55" y2="660.14" stroke="#3a3a3a" stroke-width="0.8"/>
<line x1="549.35" y1="660.85" x2="551.55" y2="660.85" stroke="#3a3a3a" stroke-width="0.8"/>
<text x="528.40" y="709.2" font-family="'Liberation Sans', sans-serif" font-size="11.1" fill="#111" stroke="#111" stroke-width="0.12" text-anchor="middle">MnO</text>
<rect x="559.90" y="688.36" width="4.90" height="4.24" fill="#c00000" stroke="#a00000" stroke-width="0.5"/>
<rect x="564.80" y="689.18" width="4.90" height="3.42" fill="#ff6640" stroke="#d84a2a" stroke-width="0.5"/>
<rect x="569.70" y="689.98" width="4.90" height="2.62" fill="#e8875e" stroke="#c46a48" stroke-width="0.5"/>
<rect x="574.60" y="689.56" width="4.90" height="3.04" fill="#e46c0a" stroke="#b85508" stroke-width="0.5"/>
<rect x="579.50" y="691.15" width="4.90" height="1.45" fill="#fbc08e" stroke="#e09a60" stroke-width="0.5"/>
<rect x="584.40" y="690.70" width="4.90" height="1.90" fill="#dde6f4" stroke="#a8b8cc" stroke-width="0.5"/>
<rect x="589.30" y="689.63" width="4.90" height="2.97" fill="#93cddd" stroke="#6aaabb" stroke-width="0.5"/>
<rect x="594.20" y="690.29" width="4.90" height="2.31" fill="#3b8fc7" stroke="#2a70a0" stroke-width="0.5"/>
<rect x="599.10" y="691.39" width="4.90" height="1.21" fill="#345f97" stroke="#24477a" stroke-width="0.5"/>
<rect x="604.00" y="691.52" width="4.90" height="1.08" fill="#243f62" stroke="#152a45" stroke-width="0.5"/>
<text x="584.40" y="709.2" font-family="'Liberation Sans', sans-serif" font-size="11.1" fill="#111" stroke="#111" stroke-width="0.12" text-anchor="middle">Co</text>
<g stroke="#a6a6a6" stroke-width="1" fill="none">
<line x1="205.5" y1="513.42" x2="205.5" y2="569.70"/>
<line x1="202.10" y1="569.70" x2="207.70" y2="569.70"/>
<line x1="202.10" y1="541.56" x2="207.70" y2="541.56"/>
<line x1="202.10" y1="513.42" x2="207.70" y2="513.42"/>
<line x1="205.50" y1="564.07" x2="207.70" y2="564.07"/>
<line x1="205.50" y1="558.44" x2="207.70" y2="558.44"/>
<line x1="205.50" y1="552.82" x2="207.70" y2="552.82"/>
<line x1="205.50" y1="547.19" x2="207.70" y2="547.19"/>
<line x1="205.50" y1="535.93" x2="207.70" y2="535.93"/>
<line x1="205.50" y1="530.30" x2="207.70" y2="530.30"/>
<line x1="205.50" y1="524.68" x2="207.70" y2="524.68"/>
<line x1="205.50" y1="519.05" x2="207.70" y2="519.05"/>
</g>
<g font-family="'Liberation Sans', sans-serif" font-size="10.2" fill="#111" stroke="#111" stroke-width="0.12">
<text x="197.5" y="573.30" text-anchor="end">0</text>
<text x="197.5" y="545.16" text-anchor="end">2</text>
<text x="197.5" y="517.02" text-anchor="end">4</text>
</g>
<rect x="211.00" y="567.03" width="7.56" height="2.67" fill="#c00000" stroke="#a00000" stroke-width="0.5"/>
<rect x="218.56" y="566.04" width="7.56" height="3.66" fill="#ff6640" stroke="#d84a2a" stroke-width="0.5"/>
<rect x="226.12" y="563.37" width="7.56" height="6.33" fill="#e8875e" stroke="#c46a48" stroke-width="0.5"/>
<rect x="233.68" y="568.01" width="7.56" height="1.69" fill="#e46c0a" stroke="#b85508" stroke-width="0.5"/>
<rect x="241.24" y="563.37" width="7.56" height="6.33" fill="#fbc08e" stroke="#e09a60" stroke-width="0.5"/>
<rect x="248.80" y="556.19" width="7.56" height="13.51" fill="#dde6f4" stroke="#a8b8cc" stroke-width="0.5"/>
<rect x="256.36" y="536.92" width="7.56" height="32.78" fill="#93cddd" stroke="#6aaabb" stroke-width="0.5"/>
<rect x="263.92" y="547.05" width="7.56" height="22.65" fill="#3b8fc7" stroke="#2a70a0" stroke-width="0.5"/>
<rect x="271.48" y="546.20" width="7.56" height="23.50" fill="#345f97" stroke="#24477a" stroke-width="0.5"/>
<rect x="279.04" y="515.95" width="7.56" height="53.75" fill="#243f62" stroke="#152a45" stroke-width="0.5"/>
<line x1="214.78" y1="566.60" x2="214.78" y2="567.45" stroke="#3a3a3a" stroke-width="0.8"/>
<line x1="213.68" y1="566.60" x2="215.88" y2="566.60" stroke="#3a3a3a" stroke-width="0.8"/>
<line x1="213.68" y1="567.45" x2="215.88" y2="567.45" stroke="#3a3a3a" stroke-width="0.8"/>
<line x1="222.34" y1="564.92" x2="222.34" y2="567.17" stroke="#3a3a3a" stroke-width="0.8"/>
<line x1="221.24" y1="564.92" x2="223.44" y2="564.92" stroke="#3a3a3a" stroke-width="0.8"/>
<line x1="221.24" y1="567.17" x2="223.44" y2="567.17" stroke="#3a3a3a" stroke-width="0.8"/>
<line x1="229.90" y1="561.68" x2="229.90" y2="565.06" stroke="#3a3a3a" stroke-width="0.8"/>
<line x1="228.80" y1="561.68" x2="231.00" y2="561.68" stroke="#3a3a3a" stroke-width="0.8"/>
<line x1="228.80" y1="565.06" x2="231.00" y2="565.06" stroke="#3a3a3a" stroke-width="0.8"/>
<line x1="237.46" y1="567.59" x2="237.46" y2="568.43" stroke="#3a3a3a" stroke-width="0.8"/>
<line x1="236.36" y1="567.59" x2="238.56" y2="567.59" stroke="#3a3a3a" stroke-width="0.8"/>
<line x1="236.36" y1="568.43" x2="238.56" y2="568.43" stroke="#3a3a3a" stroke-width="0.8"/>
<line x1="245.02" y1="561.26" x2="245.02" y2="565.48" stroke="#3a3a3a" stroke-width="0.8"/>
<line x1="243.92" y1="561.26" x2="246.12" y2="561.26" stroke="#3a3a3a" stroke-width="0.8"/>
<line x1="243.92" y1="565.48" x2="246.12" y2="565.48" stroke="#3a3a3a" stroke-width="0.8"/>
<line x1="252.58" y1="553.38" x2="252.58" y2="559.01" stroke="#3a3a3a" stroke-width="0.8"/>
<line x1="251.48" y1="553.38" x2="253.68" y2="553.38" stroke="#3a3a3a" stroke-width="0.8"/>
<line x1="251.48" y1="559.01" x2="253.68" y2="559.01" stroke="#3a3a3a" stroke-width="0.8"/>
<line x1="260.14" y1="534.81" x2="260.14" y2="539.03" stroke="#3a3a3a" stroke-width="0.8"/>
<line x1="259.04" y1="534.81" x2="261.24" y2="534.81" stroke="#3a3a3a" stroke-width="0.8"/>
<line x1="259.04" y1="539.03" x2="261.24" y2="539.03" stroke="#3a3a3a" stroke-width="0.8"/>
<line x1="267.70" y1="545.64" x2="267.70" y2="548.45" stroke="#3a3a3a" stroke-width="0.8"/>
<line x1="266.60" y1="545.64" x2="268.80" y2="545.64" stroke="#3a3a3a" stroke-width="0.8"/>
<line x1="266.60" y1="548.45" x2="268.80" y2="548.45" stroke="#3a3a3a" stroke-width="0.8"/>
<line x1="275.26" y1="542.69" x2="275.26" y2="549.72" stroke="#3a3a3a" stroke-width="0.8"/>
<line x1="274.16" y1="542.69" x2="276.36" y2="542.69" stroke="#3a3a3a" stroke-width="0.8"/>
<line x1="274.16" y1="549.72" x2="276.36" y2="549.72" stroke="#3a3a3a" stroke-width="0.8"/>
<line x1="282.82" y1="514.55" x2="282.82" y2="517.36" stroke="#3a3a3a" stroke-width="0.8"/>
<line x1="281.72" y1="514.55" x2="283.92" y2="514.55" stroke="#3a3a3a" stroke-width="0.8"/>
<line x1="281.72" y1="517.36" x2="283.92" y2="517.36" stroke="#3a3a3a" stroke-width="0.8"/>
<g stroke="#a6a6a6" stroke-width="1" fill="none">
<line x1="516.8" y1="509.40" x2="516.8" y2="568.20"/>
<line x1="513.40" y1="568.20" x2="519.00" y2="568.20"/>
<line x1="513.40" y1="509.40" x2="519.00" y2="509.40"/>
<line x1="516.80" y1="556.44" x2="519.00" y2="556.44"/>
<line x1="516.80" y1="544.68" x2="519.00" y2="544.68"/>
<line x1="516.80" y1="532.92" x2="519.00" y2="532.92"/>
<line x1="516.80" y1="521.16" x2="519.00" y2="521.16"/>
</g>
<g font-family="'Liberation Sans', sans-serif" font-size="10.2" fill="#111" stroke="#111" stroke-width="0.12">
<text x="508.0" y="571.80" text-anchor="end">0</text>
<text x="508.0" y="513.00" text-anchor="end">0,05</text>
</g>
<rect x="521.50" y="526.22" width="7.10" height="41.98" fill="#c00000" stroke="#a00000" stroke-width="0.5"/>
<rect x="528.60" y="534.33" width="7.10" height="33.87" fill="#ff6640" stroke="#d84a2a" stroke-width="0.5"/>
<rect x="535.70" y="542.33" width="7.10" height="25.87" fill="#e8875e" stroke="#c46a48" stroke-width="0.5"/>
<rect x="542.80" y="538.09" width="7.10" height="30.11" fill="#e46c0a" stroke="#b85508" stroke-width="0.5"/>
<rect x="549.90" y="553.85" width="7.10" height="14.35" fill="#fbc08e" stroke="#e09a60" stroke-width="0.5"/>
<rect x="557.00" y="549.38" width="7.10" height="18.82" fill="#dde6f4" stroke="#a8b8cc" stroke-width="0.5"/>
<rect x="564.10" y="538.80" width="7.10" height="29.40" fill="#93cddd" stroke="#6aaabb" stroke-width="0.5"/>
<rect x="571.20" y="545.39" width="7.10" height="22.81" fill="#3b8fc7" stroke="#2a70a0" stroke-width="0.5"/>
<rect x="578.30" y="556.20" width="7.10" height="12.00" fill="#345f97" stroke="#24477a" stroke-width="0.5"/>
<rect x="585.40" y="557.50" width="7.10" height="10.70" fill="#243f62" stroke="#152a45" stroke-width="0.5"/>
<line x1="525.05" y1="520.92" x2="525.05" y2="531.51" stroke="#3a3a3a" stroke-width="0.8"/>
<line x1="523.95" y1="520.92" x2="526.15" y2="520.92" stroke="#3a3a3a" stroke-width="0.8"/>
<line x1="523.95" y1="531.51" x2="526.15" y2="531.51" stroke="#3a3a3a" stroke-width="0.8"/>
<line x1="532.15" y1="527.28" x2="532.15" y2="541.39" stroke="#3a3a3a" stroke-width="0.8"/>
<line x1="531.05" y1="527.28" x2="533.25" y2="527.28" stroke="#3a3a3a" stroke-width="0.8"/>
<line x1="531.05" y1="541.39" x2="533.25" y2="541.39" stroke="#3a3a3a" stroke-width="0.8"/>
<line x1="539.25" y1="537.04" x2="539.25" y2="547.62" stroke="#3a3a3a" stroke-width="0.8"/>
<line x1="538.15" y1="537.04" x2="540.35" y2="537.04" stroke="#3a3a3a" stroke-width="0.8"/>
<line x1="538.15" y1="547.62" x2="540.35" y2="547.62" stroke="#3a3a3a" stroke-width="0.8"/>
<line x1="546.35" y1="533.98" x2="546.35" y2="542.21" stroke="#3a3a3a" stroke-width="0.8"/>
<line x1="545.25" y1="533.98" x2="547.45" y2="533.98" stroke="#3a3a3a" stroke-width="0.8"/>
<line x1="545.25" y1="542.21" x2="547.45" y2="542.21" stroke="#3a3a3a" stroke-width="0.8"/>
<line x1="553.45" y1="547.97" x2="553.45" y2="559.73" stroke="#3a3a3a" stroke-width="0.8"/>
<line x1="552.35" y1="547.97" x2="554.55" y2="547.97" stroke="#3a3a3a" stroke-width="0.8"/>
<line x1="552.35" y1="559.73" x2="554.55" y2="559.73" stroke="#3a3a3a" stroke-width="0.8"/>
<line x1="560.55" y1="547.03" x2="560.55" y2="551.74" stroke="#3a3a3a" stroke-width="0.8"/>
<line x1="559.45" y1="547.03" x2="561.65" y2="547.03" stroke="#3a3a3a" stroke-width="0.8"/>
<line x1="559.45" y1="551.74" x2="561.65" y2="551.74" stroke="#3a3a3a" stroke-width="0.8"/>
<line x1="567.65" y1="536.21" x2="567.65" y2="541.39" stroke="#3a3a3a" stroke-width="0.8"/>
<line x1="566.55" y1="536.21" x2="568.75" y2="536.21" stroke="#3a3a3a" stroke-width="0.8"/>
<line x1="566.55" y1="541.39" x2="568.75" y2="541.39" stroke="#3a3a3a" stroke-width="0.8"/>
<line x1="574.75" y1="545.03" x2="574.75" y2="545.74" stroke="#3a3a3a" stroke-width="0.8"/>
<line x1="573.65" y1="545.03" x2="575.85" y2="545.03" stroke="#3a3a3a" stroke-width="0.8"/>
<line x1="573.65" y1="545.74" x2="575.85" y2="545.74" stroke="#3a3a3a" stroke-width="0.8"/>
<line x1="581.85" y1="555.62" x2="581.85" y2="556.79" stroke="#3a3a3a" stroke-width="0.8"/>
<line x1="580.75" y1="555.62" x2="582.95" y2="555.62" stroke="#3a3a3a" stroke-width="0.8"/>
<line x1="580.75" y1="556.79" x2="582.95" y2="556.79" stroke="#3a3a3a" stroke-width="0.8"/>
<line x1="588.95" y1="557.26" x2="588.95" y2="557.73" stroke="#3a3a3a" stroke-width="0.8"/>
<line x1="587.85" y1="557.26" x2="590.05" y2="557.26" stroke="#3a3a3a" stroke-width="0.8"/>
<line x1="587.85" y1="557.73" x2="590.05" y2="557.73" stroke="#3a3a3a" stroke-width="0.8"/>
<text x="243" y="581.2" font-family="'Liberation Sans', sans-serif" font-size="10.8" fill="#1a1a1a" text-anchor="middle">CaO</text>
<text x="557.3" y="581.5" font-family="'Liberation Sans', sans-serif" font-size="10.8" fill="#1a1a1a" text-anchor="middle">Co</text>
<g font-family="'Liberation Sans', sans-serif" font-size="9.1" fill="#111" stroke="#111" stroke-width="0.1">
<rect x="612.3" y="527.00" width="4.6" height="4.6" fill="#c00000" stroke="#a00000" stroke-width="0.5"/>
<text x="618.6" y="532.60">Mountain (CEI)</text>
<rect x="612.3" y="541.30" width="4.6" height="4.6" fill="#ff6640" stroke="#d84a2a" stroke-width="0.5"/>
<text x="618.6" y="546.90">Mountain (LN)</text>
<rect x="612.3" y="555.60" width="4.6" height="4.6" fill="#e8875e" stroke="#c46a48" stroke-width="0.5"/>
<text x="618.6" y="561.20">Mountain (PG)</text>
<rect x="612.3" y="569.90" width="4.6" height="4.6" fill="#e46c0a" stroke="#b85508" stroke-width="0.5"/>
<text x="618.6" y="575.50">Mountain (ES)</text>
<rect x="612.3" y="584.20" width="4.6" height="4.6" fill="#fbc08e" stroke="#e09a60" stroke-width="0.5"/>
<text x="618.6" y="589.80">Mountain (BOQ)</text>
<rect x="612.3" y="598.50" width="4.6" height="4.6" fill="#dde6f4" stroke="#a8b8cc" stroke-width="0.5"/>
<text x="618.6" y="604.10">Lowland (DAN)</text>
<rect x="612.3" y="612.80" width="4.6" height="4.6" fill="#93cddd" stroke="#6aaabb" stroke-width="0.5"/>
<text x="618.6" y="618.40">Lowland (MAN)</text>
<rect x="612.3" y="627.10" width="4.6" height="4.6" fill="#3b8fc7" stroke="#2a70a0" stroke-width="0.5"/>
<text x="618.6" y="632.70">Lowland (BES)</text>
<rect x="612.3" y="641.40" width="4.6" height="4.6" fill="#345f97" stroke="#24477a" stroke-width="0.5"/>
<text x="618.6" y="647.00">Lowland (MUR)</text>
<rect x="612.3" y="655.70" width="4.6" height="4.6" fill="#243f62" stroke="#152a45" stroke-width="0.5"/>
<text x="618.6" y="661.30">Lowland (SE)</text>
</g>
<text x="0" y="0" font-family="'Liberation Sans', sans-serif" font-weight="bold" font-size="11.2" fill="#000" text-anchor="middle" transform="translate(10.2 596.1) rotate(-90)">Percentage in soil (%)</text>
</svg>
</body></html>
